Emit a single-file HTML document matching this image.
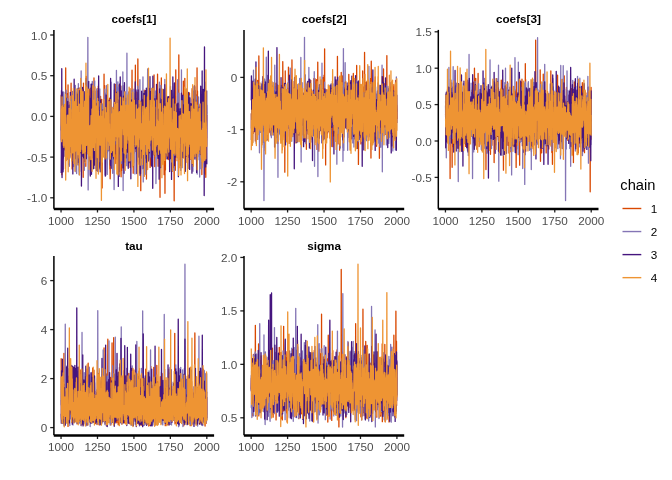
<!DOCTYPE html>
<html><head><meta charset="utf-8"><style>
html,body{margin:0;padding:0;background:#fff;width:672px;height:480px;overflow:hidden}
svg{display:block;font-family:"Liberation Sans",sans-serif;will-change:transform}
polyline{fill:none;stroke-linejoin:round}
</style></head><body>
<svg width="672" height="480" viewBox="0 0 672 480">
<rect width="672" height="480" fill="#fff"/>

<polyline stroke="#D94801" stroke-width="8.917" transform="translate(61.182,29.9) scale(0.145782)" points="0,445 1,757 2,745 3,821 4,551 5,993 6,428 7,778 8,627 9,706 10,467 11,959 12,717 13,725 14,513 15,825 16,696 17,794 18,666 19,590 20,825 21,512 22,546 23,601 24,546 25,767 26,689 27,802 28,709 29,597 30,768 31,261 32,767 33,790 34,765 35,673 36,827 37,639 38,440 39,568 40,698 41,795 42,776 43,435 44,664 45,760 46,645 47,378 48,655 49,585 50,630 51,721 52,831 53,720 54,701 55,590 56,554 57,542 58,632 59,548 60,777 61,497 62,600 63,713 64,603 65,682 66,514 67,459 68,366 69,866 70,873 71,742 72,649 73,549 74,627 75,954 76,714 77,556 78,639 79,565 80,703 81,700 82,645 83,614 84,644 85,655 86,765 87,619 88,655 89,514 90,504 91,646 92,724 93,761 94,612 95,661 96,720 97,665 98,758 99,574 100,734 101,501 102,615 103,589 104,824 105,648 106,568 107,805 108,709 109,667 110,863 111,628 112,553 113,792 114,623 115,855 116,677 117,897 118,515 119,614 120,675 121,780 122,494 123,397 124,931 125,499 126,444 127,624 128,839 129,551 130,697 131,756 132,843 133,595 134,561 135,759 136,599 137,831 138,560 139,665 140,698 141,686 142,550 143,567 144,598 145,652 146,661 147,585 148,639 149,576 150,715 151,1011 152,527 153,366 154,610 155,686 156,691 157,688 158,669 159,828 160,744 161,811 162,637 163,713 164,602 165,696 166,534 167,642 168,366 169,936 170,762 171,546 172,319 173,706 174,665 175,703 176,486 177,712 178,577 179,716 180,849 181,628 182,601 183,491 184,687 185,758 186,593 187,638 188,632 189,682 190,510 191,620 192,406 193,516 194,580 195,899 196,587 197,613 198,558 199,526 200,727 201,556 202,750 203,399 204,857 205,917 206,902 207,796 208,828 209,398 210,717 211,859 212,516 213,753 214,844 215,549 216,585 217,732 218,475 219,654 220,446 221,601 222,454 223,656 224,842 225,330 226,748 227,699 228,769 229,700 230,638 231,643 232,579 233,421 234,688 235,844 236,837 237,764 238,905 239,556 240,741 241,715 242,672 243,866 244,792 245,577 246,585 247,733 248,419 249,854 250,720 251,704 252,401 253,620 254,817 255,385 256,590 257,612 258,756 259,657 260,884 261,561 262,724 263,653 264,504 265,632 266,635 267,633 268,774 269,555 270,456 271,566 272,548 273,794 274,793 275,873 276,500 277,707 278,476 279,781 280,733 281,1084 282,543 283,663 284,642 285,669 286,647 287,827 288,660 289,698 290,679 291,603 292,767 293,683 294,303 295,613 296,562 297,805 298,590 299,383 300,877 301,787 302,794 303,710 304,445 305,670 306,768 307,585 308,755 309,515 310,629 311,478 312,764 313,556 314,580 315,679 316,773 317,793 318,691 319,783 320,632 321,787 322,585 323,538 324,770 325,505 326,705 327,510 328,610 329,515 330,811 331,686 332,469 333,758 334,956 335,943 336,1021 337,967 338,729 339,493 340,733 341,626 342,687 343,670 344,695 345,696 346,607 347,836 348,531 349,543 350,699 351,559 352,769 353,747 354,650 355,698 356,734 357,765 358,749 359,540 360,943 361,622 362,705 363,570 364,600 365,590 366,626 367,668 368,737 369,552 370,729 371,415 372,593 373,373 374,781 375,917 376,572 377,552 378,667 379,886 380,734 381,585 382,697 383,688 384,696 385,802 386,746 387,871 388,425 389,738 390,605 391,814 392,561 393,933 394,543 395,676 396,377 397,854 398,661 399,620 400,499 401,731 402,659 403,971 404,787 405,608 406,517 407,711 408,384 409,426 410,680 411,1008 412,920 413,780 414,516 415,628 416,964 417,703 418,446 419,724 420,776 421,385 422,664 423,738 424,623 425,669 426,731 427,503 428,516 429,554 430,686 431,511 432,678 433,606 434,527 435,559 436,422 437,609 438,907 439,833 440,483 441,718 442,618 443,790 444,532 445,725 446,468 447,746 448,515 449,577 450,772 451,518 452,797 453,786 454,571 455,759 456,754 457,720 458,811 459,526 460,587 461,681 462,687 463,609 464,425 465,550 466,742 467,563 468,688 469,699 470,411 471,730 472,738 473,944 474,867 475,609 476,769 477,600 478,827 479,779 480,577 481,468 482,589 483,504 484,434 485,526 486,276 487,686 488,584 489,729 490,608 491,892 492,787 493,598 494,984 495,826 496,674 497,912 498,664 499,783 500,712 501,708 502,645 503,750 504,659 505,755 506,594 507,435 508,644 509,241 510,834 511,575 512,777 513,784 514,594 515,646 516,517 517,470 518,747 519,654 520,426 521,537 522,572 523,489 524,756 525,583 526,199 527,445 528,784 529,707 530,618 531,712 532,726 533,576 534,721 535,921 536,621 537,731 538,774 539,890 540,530 541,982 542,909 543,710 544,500 545,489 546,1103 547,696 548,882 549,530 550,878 551,692 552,527 553,703 554,466 555,793 556,620 557,552 558,691 559,478 560,595 561,900 562,581 563,657 564,867 565,660 566,736 567,582 568,620 569,413 570,652 571,600 572,620 573,692 574,697 575,518 576,563 577,759 578,827 579,681 580,509 581,675 582,428 583,780 584,652 585,1023 586,755 587,715 588,600 589,433 590,667 591,469 592,579 593,534 594,737 595,478 596,821 597,602 598,804 599,744 600,876 601,744 602,623 603,681 604,860 605,466 606,624 607,531 608,562 609,764 610,943 611,799 612,501 613,819 614,558 615,757 616,617 617,926 618,509 619,677 620,548 621,645 622,560 623,686 624,568 625,882 626,822 627,570 628,677 629,703 630,697 631,601 632,754 633,600 634,799 635,728 636,534 637,309 638,825 639,554 640,817 641,569 642,937 643,827 644,743 645,695 646,473 647,545 648,452 649,503 650,711 651,709 652,522 653,666 654,693 655,858 656,686 657,735 658,808 659,575 660,738 661,303 662,483 663,818 664,627 665,936 666,659 667,614 668,551 669,797 670,627 671,627 672,674 673,651 674,607 675,616 676,811 677,838 678,1148 679,404 680,866 681,609 682,584 683,567 684,652 685,801 686,697 687,330 688,653 689,709 690,690 691,529 692,500 693,836 694,736 695,782 696,501 697,680 698,469 699,738 700,668 701,860 702,490 703,722 704,879 705,754 706,993 707,676 708,656 709,631 710,462 711,714 712,1121 713,628 714,699 715,961 716,539 717,742 718,669 719,849 720,632 721,656 722,667 723,690 724,525 725,537 726,570 727,755 728,725 729,813 730,611 731,767 732,841 733,661 734,531 735,889 736,757 737,691 738,773 739,597 740,671 741,627 742,773 743,457 744,672 745,491 746,733 747,589 748,766 749,804 750,770 751,678 752,702 753,457 754,832 755,824 756,434 757,587 758,934 759,602 760,638 761,971 762,723 763,674 764,569 765,538 766,658 767,527 768,692 769,791 770,802 771,596 772,945 773,577 774,826 775,1172 776,601 777,502 778,942 779,784 780,665 781,755 782,551 783,963 784,621 785,612 786,274 787,518 788,843 789,517 790,770 791,570 792,717 793,558 794,563 795,876 796,693 797,684 798,705 799,777 800,413 801,642 802,454 803,751 804,820 805,653 806,750 807,172 808,637 809,511 810,703 811,717 812,676 813,622 814,553 815,689 816,767 817,821 818,682 819,592 820,608 821,674 822,755 823,651 824,592 825,677 826,656 827,693 828,544 829,733 830,646 831,616 832,570 833,463 834,577 835,588 836,877 837,587 838,351 839,787 840,814 841,701 842,529 843,598 844,738 845,677 846,527 847,578 848,332 849,531 850,622 851,586 852,720 853,808 854,648 855,603 856,866 857,744 858,723 859,634 860,708 861,609 862,658 863,524 864,910 865,440 866,474 867,664 868,581 869,587 870,774 871,649 872,563 873,628 874,525 875,658 876,660 877,779 878,722 879,736 880,433 881,638 882,811 883,616 884,698 885,605 886,888 887,591 888,806 889,875 890,603 891,880 892,734 893,643 894,586 895,568 896,677 897,788 898,403 899,756 900,420 901,735 902,509 903,522 904,817 905,622 906,566 907,574 908,699 909,629 910,727 911,835 912,534 913,750 914,479 915,587 916,796 917,694 918,711 919,793 920,602 921,738 922,444 923,551 924,794 925,674 926,703 927,890 928,542 929,539 930,542 931,735 932,261 933,701 934,541 935,419 936,652 937,870 938,716 939,582 940,501 941,830 942,698 943,639 944,611 945,544 946,804 947,731 948,531 949,617 950,609 951,514 952,657 953,598 954,715 955,859 956,852 957,661 958,699 959,763 960,627 961,796 962,656 963,674 964,789 965,992 966,468 967,627 968,731 969,617 970,703 971,591 972,807 973,647 974,679 975,697 976,702 977,644 978,541 979,746 980,728 981,649 982,688 983,618 984,571 985,491 986,688 987,989 988,681 989,622 990,698 991,693 992,1011 993,601 994,717 995,882 996,793 997,792 998,587 999,593"/>
<polyline stroke="#8475B5" stroke-width="8.917" transform="translate(61.182,29.9) scale(0.145782)" points="0,691 1,652 2,628 3,564 4,590 5,422 6,675 7,463 8,716 9,593 10,634 11,565 12,667 13,426 14,955 15,551 16,574 17,564 18,427 19,486 20,868 21,514 22,733 23,641 24,609 25,789 26,863 27,650 28,651 29,752 30,799 31,671 32,713 33,679 34,414 35,590 36,485 37,758 38,448 39,675 40,653 41,663 42,620 43,888 44,671 45,576 46,472 47,608 48,764 49,864 50,625 51,924 52,691 53,597 54,657 55,708 56,936 57,678 58,524 59,706 60,729 61,615 62,573 63,547 64,793 65,739 66,629 67,532 68,475 69,756 70,547 71,486 72,632 73,702 74,807 75,521 76,673 77,468 78,422 79,858 80,737 81,686 82,818 83,786 84,460 85,758 86,635 87,937 88,764 89,782 90,784 91,689 92,690 93,878 94,740 95,561 96,824 97,380 98,488 99,737 100,970 101,972 102,776 103,773 104,804 105,427 106,985 107,544 108,770 109,554 110,672 111,656 112,606 113,873 114,695 115,924 116,587 117,641 118,368 119,591 120,877 121,846 122,422 123,994 124,533 125,799 126,706 127,667 128,840 129,781 130,683 131,430 132,580 133,782 134,674 135,783 136,649 137,282 138,719 139,424 140,847 141,562 142,710 143,575 144,690 145,677 146,667 147,475 148,524 149,642 150,470 151,505 152,515 153,500 154,856 155,432 156,835 157,687 158,573 159,963 160,661 161,523 162,639 163,560 164,744 165,887 166,656 167,838 168,712 169,792 170,640 171,787 172,732 173,353 174,673 175,698 176,496 177,602 178,475 179,614 180,617 181,703 182,471 183,51 184,669 185,1098 186,961 187,759 188,552 189,785 190,768 191,586 192,662 193,572 194,758 195,671 196,741 197,810 198,809 199,566 200,994 201,717 202,821 203,628 204,715 205,583 206,612 207,925 208,599 209,726 210,670 211,711 212,603 213,354 214,687 215,357 216,757 217,718 218,498 219,649 220,572 221,620 222,439 223,862 224,809 225,614 226,757 227,594 228,411 229,533 230,350 231,894 232,826 233,950 234,744 235,633 236,789 237,630 238,630 239,770 240,602 241,759 242,786 243,519 244,405 245,541 246,746 247,594 248,536 249,597 250,699 251,571 252,668 253,658 254,757 255,972 256,691 257,513 258,572 259,752 260,665 261,724 262,953 263,648 264,464 265,405 266,702 267,590 268,928 269,839 270,615 271,604 272,886 273,794 274,783 275,568 276,708 277,666 278,518 279,597 280,813 281,662 282,822 283,654 284,507 285,550 286,574 287,605 288,538 289,632 290,565 291,650 292,597 293,636 294,533 295,522 296,746 297,816 298,698 299,407 300,576 301,995 302,569 303,804 304,658 305,884 306,999 307,434 308,531 309,453 310,586 311,876 312,381 313,689 314,763 315,768 316,991 317,876 318,728 319,473 320,804 321,603 322,597 323,541 324,753 325,505 326,830 327,581 328,771 329,779 330,755 331,887 332,803 333,624 334,576 335,689 336,530 337,885 338,681 339,569 340,554 341,671 342,358 343,641 344,831 345,630 346,881 347,529 348,716 349,730 350,632 351,688 352,954 353,984 354,717 355,641 356,595 357,709 358,789 359,657 360,790 361,669 362,886 363,1095 364,937 365,412 366,737 367,537 368,737 369,676 370,657 371,784 372,737 373,726 374,585 375,780 376,621 377,580 378,773 379,278 380,589 381,595 382,628 383,450 384,806 385,392 386,811 387,763 388,583 389,356 390,798 391,883 392,669 393,742 394,395 395,617 396,769 397,555 398,572 399,883 400,593 401,674 402,689 403,404 404,624 405,639 406,923 407,760 408,905 409,642 410,597 411,690 412,917 413,602 414,614 415,829 416,670 417,629 418,639 419,385 420,623 421,858 422,663 423,288 424,681 425,1102 426,534 427,397 428,462 429,768 430,762 431,581 432,630 433,380 434,593 435,787 436,876 437,642 438,427 439,782 440,669 441,647 442,758 443,521 444,495 445,665 446,931 447,739 448,680 449,659 450,675 451,160 452,772 453,677 454,563 455,763 456,587 457,594 458,532 459,713 460,934 461,607 462,435 463,452 464,538 465,430 466,717 467,539 468,756 469,738 470,607 471,716 472,797 473,558 474,641 475,472 476,856 477,730 478,744 479,704 480,571 481,833 482,522 483,741 484,510 485,462 486,414 487,813 488,724 489,567 490,540 491,731 492,559 493,664 494,748 495,756 496,499 497,686 498,723 499,407 500,645 501,844 502,657 503,702 504,719 505,628 506,988 507,639 508,811 509,597 510,592 511,603 512,582 513,639 514,778 515,498 516,553 517,805 518,653 519,477 520,511 521,519 522,691 523,506 524,454 525,386 526,576 527,610 528,595 529,683 530,667 531,669 532,741 533,672 534,694 535,609 536,688 537,618 538,608 539,632 540,341 541,534 542,892 543,849 544,540 545,519 546,713 547,640 548,678 549,695 550,564 551,810 552,771 553,575 554,772 555,667 556,625 557,952 558,572 559,672 560,407 561,323 562,885 563,1043 564,734 565,689 566,824 567,828 568,945 569,766 570,605 571,616 572,469 573,817 574,694 575,471 576,569 577,640 578,825 579,690 580,991 581,474 582,574 583,584 584,704 585,846 586,686 587,574 588,452 589,733 590,882 591,588 592,533 593,268 594,582 595,414 596,723 597,584 598,603 599,575 600,637 601,525 602,685 603,891 604,627 605,617 606,684 607,724 608,633 609,877 610,486 611,712 612,712 613,719 614,867 615,626 616,643 617,534 618,649 619,637 620,402 621,707 622,648 623,749 624,722 625,677 626,879 627,705 628,597 629,515 630,589 631,396 632,569 633,752 634,694 635,531 636,421 637,497 638,584 639,453 640,603 641,607 642,532 643,651 644,726 645,857 646,784 647,635 648,695 649,419 650,1054 651,972 652,854 653,764 654,808 655,740 656,641 657,711 658,734 659,642 660,727 661,573 662,662 663,703 664,603 665,793 666,736 667,814 668,723 669,763 670,686 671,822 672,833 673,443 674,359 675,453 676,652 677,953 678,543 679,678 680,730 681,599 682,593 683,453 684,380 685,625 686,760 687,644 688,856 689,723 690,820 691,540 692,494 693,707 694,603 695,617 696,561 697,677 698,520 699,745 700,525 701,501 702,676 703,608 704,659 705,588 706,577 707,635 708,703 709,556 710,607 711,339 712,822 713,400 714,613 715,559 716,757 717,728 718,621 719,667 720,864 721,660 722,659 723,735 724,528 725,501 726,785 727,714 728,749 729,646 730,528 731,610 732,695 733,742 734,459 735,489 736,603 737,840 738,534 739,651 740,808 741,474 742,596 743,859 744,707 745,692 746,746 747,584 748,525 749,723 750,388 751,634 752,418 753,604 754,526 755,468 756,752 757,516 758,786 759,676 760,654 761,552 762,913 763,646 764,674 765,898 766,913 767,710 768,881 769,629 770,822 771,733 772,756 773,638 774,614 775,964 776,965 777,562 778,815 779,610 780,623 781,646 782,664 783,612 784,833 785,653 786,612 787,561 788,577 789,697 790,644 791,642 792,771 793,652 794,639 795,725 796,653 797,508 798,751 799,342 800,649 801,583 802,531 803,624 804,758 805,695 806,576 807,605 808,434 809,713 810,760 811,589 812,776 813,604 814,796 815,682 816,673 817,538 818,579 819,713 820,964 821,781 822,611 823,567 824,816 825,274 826,709 827,466 828,499 829,613 830,945 831,701 832,730 833,664 834,873 835,506 836,453 837,702 838,707 839,728 840,672 841,588 842,457 843,664 844,671 845,475 846,835 847,532 848,531 849,580 850,758 851,585 852,589 853,429 854,695 855,578 856,826 857,636 858,676 859,754 860,717 861,404 862,602 863,655 864,826 865,741 866,628 867,640 868,467 869,668 870,691 871,674 872,658 873,680 874,648 875,580 876,490 877,729 878,857 879,585 880,452 881,683 882,576 883,773 884,643 885,733 886,716 887,757 888,728 889,723 890,646 891,653 892,536 893,685 894,804 895,704 896,824 897,532 898,520 899,853 900,854 901,506 902,731 903,660 904,970 905,497 906,420 907,627 908,807 909,442 910,651 911,705 912,389 913,799 914,581 915,839 916,562 917,747 918,841 919,391 920,658 921,803 922,884 923,776 924,511 925,684 926,827 927,455 928,815 929,682 930,609 931,689 932,645 933,989 934,617 935,834 936,558 937,806 938,890 939,693 940,732 941,677 942,460 943,780 944,709 945,529 946,732 947,813 948,646 949,593 950,1009 951,772 952,591 953,604 954,620 955,694 956,853 957,698 958,440 959,550 960,953 961,811 962,816 963,549 964,572 965,424 966,498 967,834 968,663 969,752 970,894 971,572 972,542 973,723 974,459 975,490 976,707 977,725 978,536 979,522 980,748 981,680 982,547 983,415 984,590 985,448 986,592 987,780 988,520 989,359 990,801 991,514 992,829 993,773 994,584 995,471 996,633 997,742 998,517 999,575"/>
<polyline stroke="#45157E" stroke-width="8.917" transform="translate(61.182,29.9) scale(0.145782)" points="0,981 1,844 2,416 3,858 4,266 5,716 6,1013 7,428 8,741 9,679 10,687 11,692 12,787 13,973 14,592 15,881 16,676 17,822 18,638 19,585 20,524 21,581 22,514 23,696 24,763 25,814 26,824 27,538 28,623 29,816 30,541 31,469 32,671 33,895 34,468 35,755 36,615 37,762 38,574 39,814 40,720 41,708 42,681 43,761 44,512 45,490 46,848 47,672 48,616 49,801 50,705 51,766 52,818 53,580 54,583 55,574 56,517 57,753 58,687 59,748 60,526 61,785 62,679 63,428 64,572 65,618 66,841 67,777 68,567 69,717 70,879 71,778 72,637 73,861 74,627 75,636 76,681 77,747 78,608 79,671 80,988 81,737 82,716 83,522 84,838 85,419 86,498 87,629 88,633 89,338 90,816 91,499 92,765 93,603 94,775 95,598 96,515 97,883 98,625 99,523 100,831 101,600 102,644 103,596 104,646 105,796 106,612 107,800 108,521 109,441 110,573 111,633 112,626 113,698 114,645 115,910 116,401 117,582 118,578 119,807 120,626 121,575 122,565 123,417 124,643 125,559 126,971 127,831 128,631 129,757 130,837 131,790 132,741 133,542 134,490 135,608 136,705 137,612 138,558 139,1071 140,835 141,671 142,814 143,713 144,867 145,610 146,716 147,394 148,515 149,657 150,781 151,848 152,411 153,839 154,877 155,696 156,768 157,624 158,727 159,764 160,706 161,903 162,424 163,902 164,827 165,592 166,611 167,523 168,719 169,607 170,333 171,734 172,444 173,883 174,494 175,623 176,822 177,785 178,657 179,671 180,589 181,673 182,516 183,506 184,834 185,757 186,482 187,597 188,762 189,353 190,747 191,715 192,452 193,796 194,659 195,755 196,581 197,670 198,470 199,784 200,1003 201,477 202,603 203,761 204,764 205,372 206,689 207,711 208,991 209,372 210,877 211,535 212,437 213,762 214,425 215,421 216,556 217,810 218,580 219,712 220,882 221,583 222,952 223,736 224,696 225,638 226,893 227,664 228,791 229,927 230,642 231,681 232,822 233,745 234,775 235,856 236,610 237,768 238,889 239,853 240,774 241,789 242,965 243,574 244,551 245,505 246,829 247,616 248,759 249,625 250,628 251,619 252,796 253,971 254,684 255,544 256,464 257,316 258,610 259,553 260,611 261,742 262,615 263,764 264,621 265,943 266,622 267,687 268,973 269,529 270,785 271,480 272,554 273,733 274,620 275,699 276,842 277,784 278,565 279,617 280,688 281,666 282,766 283,800 284,620 285,699 286,601 287,548 288,759 289,698 290,618 291,758 292,743 293,622 294,731 295,757 296,757 297,582 298,674 299,632 300,847 301,541 302,934 303,1003 304,530 305,751 306,669 307,569 308,446 309,636 310,449 311,844 312,687 313,575 314,726 315,673 316,725 317,744 318,667 319,539 320,520 321,564 322,631 323,524 324,646 325,601 326,725 327,484 328,776 329,573 330,679 331,510 332,683 333,548 334,828 335,649 336,650 337,764 338,929 339,333 340,645 341,807 342,820 343,949 344,636 345,854 346,647 347,677 348,726 349,685 350,762 351,797 352,760 353,862 354,723 355,824 356,641 357,871 358,756 359,586 360,547 361,884 362,506 363,641 364,370 365,721 366,547 367,613 368,851 369,639 370,564 371,598 372,602 373,737 374,734 375,674 376,494 377,577 378,539 379,746 380,578 381,431 382,427 383,558 384,451 385,640 386,688 387,761 388,868 389,479 390,650 391,482 392,1074 393,679 394,697 395,909 396,683 397,1005 398,629 399,665 400,568 401,370 402,851 403,501 404,608 405,323 406,476 407,560 408,678 409,550 410,625 411,751 412,419 413,814 414,616 415,587 416,809 417,831 418,540 419,705 420,717 421,544 422,608 423,509 424,947 425,835 426,597 427,618 428,455 429,923 430,750 431,984 432,612 433,813 434,362 435,804 436,554 437,636 438,559 439,564 440,661 441,624 442,595 443,582 444,878 445,603 446,672 447,654 448,702 449,642 450,589 451,682 452,566 453,839 454,694 455,547 456,833 457,731 458,526 459,759 460,949 461,782 462,741 463,642 464,523 465,557 466,911 467,900 468,629 469,677 470,621 471,530 472,826 473,656 474,450 475,599 476,730 477,619 478,1021 479,719 480,704 481,596 482,788 483,563 484,481 485,649 486,775 487,764 488,565 489,768 490,727 491,840 492,877 493,565 494,701 495,930 496,636 497,797 498,534 499,779 500,642 501,692 502,586 503,671 504,734 505,710 506,601 507,552 508,356 509,815 510,674 511,574 512,558 513,412 514,785 515,763 516,540 517,584 518,610 519,985 520,898 521,662 522,904 523,672 524,758 525,649 526,428 527,655 528,412 529,805 530,872 531,762 532,808 533,689 534,633 535,841 536,732 537,511 538,840 539,909 540,837 541,997 542,672 543,679 544,986 545,888 546,512 547,601 548,616 549,722 550,539 551,831 552,420 553,446 554,521 555,766 556,575 557,773 558,592 559,489 560,480 561,686 562,779 563,629 564,624 565,560 566,829 567,435 568,949 569,615 570,930 571,462 572,698 573,566 574,611 575,422 576,744 577,738 578,417 579,674 580,635 581,667 582,704 583,880 584,399 585,786 586,908 587,697 588,836 589,508 590,796 591,539 592,712 593,614 594,584 595,665 596,621 597,624 598,900 599,647 600,401 601,405 602,643 603,779 604,843 605,679 606,717 607,696 608,559 609,320 610,594 611,424 612,478 613,666 614,537 615,661 616,611 617,797 618,422 619,808 620,934 621,682 622,566 623,596 624,571 625,674 626,822 627,495 628,1087 629,318 630,662 631,669 632,537 633,586 634,564 635,485 636,748 637,743 638,857 639,770 640,526 641,491 642,692 643,472 644,651 645,677 646,815 647,838 648,748 649,718 650,705 651,551 652,580 653,680 654,373 655,621 656,541 657,838 658,592 659,670 660,833 661,847 662,542 663,851 664,881 665,737 666,584 667,545 668,579 669,694 670,566 671,854 672,1024 673,896 674,887 675,404 676,780 677,468 678,545 679,553 680,687 681,607 682,565 683,676 684,944 685,596 686,765 687,779 688,479 689,553 690,684 691,834 692,706 693,664 694,613 695,707 696,500 697,760 698,833 699,597 700,408 701,613 702,570 703,610 704,717 705,556 706,757 707,837 708,874 709,850 710,760 711,375 712,459 713,689 714,618 715,506 716,597 717,843 718,546 719,547 720,821 721,649 722,691 723,864 724,674 725,661 726,885 727,710 728,644 729,723 730,459 731,883 732,668 733,567 734,660 735,792 736,678 737,458 738,480 739,773 740,495 741,765 742,679 743,763 744,972 745,758 746,636 747,524 748,802 749,532 750,882 751,847 752,781 753,636 754,479 755,513 756,415 757,1026 758,463 759,769 760,813 761,534 762,503 763,683 764,491 765,568 766,323 767,512 768,667 769,758 770,733 771,759 772,538 773,698 774,835 775,610 776,476 777,364 778,931 779,743 780,714 781,724 782,801 783,761 784,702 785,657 786,872 787,723 788,759 789,682 790,658 791,836 792,682 793,788 794,663 795,508 796,719 797,772 798,568 799,811 800,630 801,733 802,502 803,820 804,1007 805,685 806,711 807,705 808,554 809,542 810,888 811,724 812,635 813,779 814,560 815,705 816,690 817,714 818,773 819,587 820,683 821,542 822,931 823,699 824,754 825,434 826,696 827,618 828,771 829,786 830,660 831,589 832,685 833,685 834,448 835,875 836,790 837,782 838,695 839,597 840,662 841,759 842,514 843,611 844,731 845,636 846,821 847,690 848,883 849,445 850,808 851,714 852,970 853,651 854,836 855,809 856,502 857,630 858,739 859,644 860,835 861,629 862,793 863,708 864,559 865,671 866,868 867,724 868,765 869,950 870,437 871,791 872,428 873,680 874,728 875,463 876,872 877,580 878,663 879,536 880,762 881,957 882,503 883,466 884,678 885,706 886,610 887,645 888,569 889,767 890,713 891,506 892,508 893,822 894,629 895,684 896,568 897,983 898,655 899,703 900,656 901,475 902,923 903,843 904,693 905,801 906,670 907,585 908,706 909,637 910,473 911,485 912,886 913,756 914,383 915,727 916,713 917,621 918,759 919,698 920,417 921,508 922,481 923,666 924,831 925,692 926,873 927,648 928,673 929,979 930,544 931,568 932,753 933,625 934,650 935,647 936,772 937,604 938,837 939,792 940,770 941,673 942,720 943,826 944,832 945,570 946,597 947,529 948,778 949,742 950,659 951,667 952,551 953,614 954,625 955,853 956,527 957,386 958,784 959,782 960,445 961,738 962,761 963,530 964,600 965,705 966,700 967,282 968,810 969,798 970,577 971,846 972,738 973,698 974,541 975,408 976,577 977,628 978,588 979,460 980,712 981,1136 982,543 983,117 984,743 985,533 986,724 987,621 988,583 989,572 990,739 991,940 992,778 993,599 994,481 995,577 996,756 997,537 998,419 999,921"/>
<polyline stroke="#EE9433" stroke-width="8.917" transform="translate(61.182,29.9) scale(0.145782)" points="0,657 1,542 2,684 3,767 4,523 5,634 6,459 7,650 8,648 9,520 10,567 11,668 12,748 13,682 14,532 15,792 16,640 17,622 18,805 19,535 20,791 21,549 22,511 23,675 24,768 25,610 26,547 27,619 28,870 29,953 30,443 31,1030 32,844 33,875 34,726 35,827 36,896 37,654 38,751 39,646 40,873 41,609 42,587 43,626 44,727 45,752 46,584 47,738 48,973 49,754 50,591 51,913 52,772 53,688 54,538 55,697 56,863 57,884 58,678 59,608 60,699 61,700 62,455 63,728 64,489 65,673 66,801 67,547 68,852 69,719 70,773 71,704 72,900 73,677 74,778 75,650 76,677 77,451 78,560 79,843 80,628 81,726 82,709 83,585 84,401 85,665 86,551 87,765 88,916 89,492 90,554 91,756 92,716 93,652 94,969 95,799 96,800 97,583 98,480 99,680 100,831 101,755 102,709 103,404 104,610 105,610 106,641 107,658 108,685 109,926 110,698 111,720 112,526 113,691 114,775 115,687 116,856 117,406 118,766 119,725 120,669 121,787 122,879 123,523 124,510 125,958 126,995 127,690 128,581 129,666 130,621 131,568 132,736 133,834 134,333 135,745 136,782 137,530 138,446 139,602 140,594 141,410 142,531 143,620 144,760 145,821 146,816 147,700 148,848 149,773 150,423 151,766 152,682 153,559 154,553 155,655 156,844 157,653 158,531 159,594 160,542 161,489 162,693 163,846 164,911 165,712 166,836 167,660 168,378 169,534 170,228 171,634 172,663 173,748 174,792 175,726 176,664 177,392 178,581 179,702 180,514 181,591 182,439 183,849 184,587 185,486 186,741 187,694 188,407 189,868 190,759 191,956 192,658 193,696 194,680 195,864 196,670 197,685 198,697 199,655 200,673 201,770 202,738 203,889 204,648 205,588 206,709 207,668 208,709 209,684 210,873 211,544 212,970 213,807 214,541 215,560 216,706 217,382 218,806 219,629 220,739 221,757 222,632 223,546 224,707 225,809 226,482 227,747 228,827 229,737 230,634 231,668 232,391 233,589 234,768 235,692 236,568 237,764 238,782 239,1018 240,523 241,652 242,626 243,595 244,608 245,541 246,622 247,491 248,554 249,876 250,470 251,648 252,832 253,724 254,491 255,989 256,556 257,904 258,752 259,779 260,684 261,771 262,750 263,592 264,716 265,687 266,790 267,665 268,665 269,791 270,685 271,543 272,505 273,769 274,557 275,766 276,1169 277,734 278,696 279,759 280,735 281,591 282,906 283,757 284,738 285,564 286,556 287,658 288,775 289,744 290,872 291,568 292,818 293,536 294,477 295,761 296,697 297,608 298,705 299,790 300,886 301,724 302,734 303,694 304,677 305,532 306,660 307,687 308,713 309,655 310,663 311,878 312,570 313,648 314,687 315,761 316,606 317,627 318,411 319,631 320,374 321,619 322,820 323,583 324,711 325,599 326,768 327,570 328,676 329,492 330,711 331,644 332,765 333,793 334,696 335,764 336,724 337,886 338,729 339,733 340,780 341,478 342,753 343,832 344,637 345,840 346,698 347,773 348,807 349,576 350,756 351,781 352,828 353,674 354,533 355,651 356,682 357,572 358,547 359,867 360,721 361,571 362,704 363,686 364,675 365,498 366,958 367,637 368,568 369,602 370,760 371,512 372,686 373,726 374,732 375,599 376,570 377,436 378,626 379,654 380,670 381,505 382,988 383,601 384,588 385,835 386,573 387,957 388,854 389,426 390,995 391,627 392,573 393,673 394,648 395,684 396,651 397,568 398,734 399,561 400,721 401,591 402,803 403,751 404,614 405,989 406,767 407,462 408,827 409,674 410,610 411,668 412,899 413,895 414,521 415,533 416,807 417,675 418,586 419,654 420,676 421,592 422,545 423,466 424,489 425,612 426,655 427,719 428,715 429,531 430,500 431,670 432,845 433,488 434,679 435,426 436,671 437,661 438,559 439,963 440,671 441,838 442,590 443,853 444,849 445,517 446,792 447,815 448,642 449,521 450,621 451,777 452,612 453,447 454,501 455,670 456,719 457,630 458,693 459,727 460,659 461,756 462,744 463,517 464,696 465,899 466,392 467,748 468,723 469,738 470,799 471,725 472,898 473,535 474,403 475,490 476,609 477,755 478,495 479,748 480,837 481,716 482,783 483,731 484,495 485,685 486,891 487,670 488,940 489,780 490,726 491,665 492,427 493,691 494,818 495,470 496,489 497,930 498,575 499,587 500,640 501,529 502,483 503,606 504,616 505,623 506,721 507,633 508,648 509,788 510,612 511,660 512,800 513,682 514,665 515,514 516,607 517,658 518,669 519,719 520,719 521,789 522,666 523,543 524,651 525,668 526,1074 527,857 528,603 529,644 530,804 531,535 532,632 533,553 534,739 535,484 536,659 537,640 538,535 539,633 540,751 541,569 542,928 543,783 544,621 545,522 546,494 547,660 548,642 549,641 550,815 551,704 552,819 553,756 554,673 555,708 556,674 557,924 558,657 559,568 560,525 561,649 562,854 563,779 564,750 565,665 566,638 567,701 568,753 569,776 570,450 571,1004 572,814 573,704 574,589 575,786 576,570 577,646 578,543 579,673 580,740 581,593 582,587 583,531 584,835 585,642 586,539 587,853 588,617 589,603 590,559 591,613 592,459 593,958 594,653 595,745 596,639 597,814 598,722 599,263 600,702 601,634 602,703 603,626 604,706 605,793 606,833 607,628 608,777 609,649 610,616 611,484 612,588 613,661 614,699 615,756 616,683 617,669 618,678 619,597 620,586 621,402 622,722 623,697 624,595 625,749 626,824 627,533 628,642 629,671 630,736 631,400 632,614 633,707 634,674 635,485 636,813 637,856 638,600 639,487 640,832 641,805 642,530 643,767 644,799 645,716 646,720 647,868 648,665 649,744 650,715 651,725 652,797 653,702 654,689 655,668 656,482 657,541 658,535 659,785 660,617 661,676 662,645 663,745 664,627 665,637 666,796 667,853 668,796 669,632 670,777 671,438 672,569 673,590 674,553 675,738 676,795 677,823 678,772 679,642 680,506 681,653 682,770 683,846 684,578 685,679 686,770 687,939 688,708 689,565 690,577 691,1014 692,762 693,927 694,407 695,655 696,576 697,740 698,716 699,677 700,692 701,705 702,923 703,747 704,708 705,796 706,537 707,836 708,752 709,523 710,778 711,895 712,747 713,578 714,528 715,590 716,629 717,745 718,843 719,836 720,804 721,429 722,301 723,539 724,722 725,658 726,865 727,706 728,599 729,561 730,654 731,713 732,499 733,804 734,642 735,678 736,818 737,472 738,838 739,763 740,708 741,724 742,579 743,722 744,597 745,675 746,718 747,56 748,710 749,743 750,651 751,819 752,552 753,761 754,695 755,537 756,715 757,768 758,722 759,906 760,731 761,642 762,819 763,967 764,833 765,615 766,699 767,557 768,474 769,670 770,636 771,846 772,692 773,567 774,561 775,687 776,686 777,754 778,721 779,774 780,859 781,858 782,508 783,630 784,523 785,761 786,602 787,609 788,708 789,697 790,568 791,847 792,729 793,845 794,897 795,843 796,779 797,836 798,873 799,676 800,786 801,755 802,793 803,829 804,806 805,685 806,998 807,938 808,909 809,592 810,946 811,630 812,597 813,640 814,722 815,593 816,602 817,584 818,733 819,726 820,632 821,617 822,995 823,733 824,785 825,734 826,940 827,623 828,486 829,636 830,766 831,833 832,700 833,632 834,594 835,574 836,724 837,634 838,776 839,672 840,741 841,581 842,881 843,679 844,660 845,799 846,985 847,393 848,639 849,796 850,744 851,759 852,755 853,662 854,616 855,409 856,761 857,617 858,606 859,860 860,776 861,756 862,788 863,696 864,605 865,268 866,879 867,1034 868,637 869,910 870,510 871,515 872,853 873,593 874,714 875,690 876,649 877,766 878,783 879,560 880,563 881,624 882,754 883,698 884,658 885,801 886,673 887,717 888,886 889,612 890,741 891,823 892,523 893,862 894,559 895,683 896,786 897,874 898,917 899,595 900,716 901,728 902,376 903,593 904,664 905,562 906,909 907,935 908,720 909,544 910,697 911,648 912,741 913,596 914,644 915,851 916,604 917,737 918,327 919,869 920,801 921,778 922,728 923,731 924,615 925,844 926,496 927,696 928,538 929,523 930,848 931,663 932,517 933,960 934,714 935,707 936,771 937,646 938,832 939,719 940,565 941,779 942,695 943,848 944,622 945,770 946,541 947,824 948,776 949,602 950,726 951,793 952,613 953,507 954,716 955,783 956,629 957,675 958,742 959,852 960,707 961,878 962,784 963,761 964,690 965,904 966,688 967,827 968,946 969,767 970,676 971,728 972,616 973,496 974,582 975,789 976,906 977,794 978,681 979,751 980,640 981,718 982,710 983,884 984,751 985,895 986,810 987,655 988,426 989,620 990,834 991,661 992,884 993,274 994,617 995,637 996,702 997,714 998,794 999,802"/>
<polyline stroke="#D94801" stroke-width="8.917" transform="translate(251.282,29.9) scale(0.145782)" points="0,573 1,674 2,666 3,580 4,417 5,462 6,587 7,535 8,409 9,549 10,477 11,400 12,554 13,710 14,640 15,477 16,383 17,644 18,371 19,618 20,522 21,463 22,660 23,416 24,700 25,510 26,483 27,431 28,762 29,619 30,486 31,441 32,617 33,490 34,343 35,510 36,444 37,514 38,466 39,546 40,661 41,587 42,592 43,493 44,346 45,568 46,576 47,484 48,566 49,644 50,518 51,666 52,179 53,484 54,605 55,433 56,531 57,575 58,592 59,564 60,435 61,486 62,430 63,595 64,487 65,518 66,517 67,534 68,678 69,693 70,442 71,590 72,734 73,527 74,532 75,523 76,720 77,596 78,408 79,581 80,593 81,448 82,532 83,597 84,450 85,520 86,651 87,342 88,730 89,612 90,458 91,578 92,512 93,470 94,695 95,827 96,678 97,598 98,514 99,583 100,636 101,384 102,495 103,657 104,627 105,610 106,504 107,420 108,635 109,727 110,658 111,644 112,582 113,515 114,433 115,559 116,602 117,562 118,681 119,603 120,650 121,520 122,493 123,702 124,503 125,581 126,636 127,652 128,630 129,570 130,483 131,417 132,455 133,500 134,721 135,482 136,647 137,366 138,529 139,528 140,724 141,435 142,623 143,509 144,382 145,700 146,545 147,464 148,419 149,475 150,471 151,451 152,522 153,426 154,525 155,544 156,638 157,566 158,596 159,468 160,500 161,671 162,538 163,674 164,541 165,390 166,650 167,429 168,365 169,568 170,607 171,423 172,675 173,628 174,442 175,581 176,645 177,596 178,583 179,589 180,547 181,550 182,780 183,547 184,545 185,479 186,629 187,579 188,585 189,640 190,573 191,708 192,463 193,540 194,657 195,584 196,486 197,457 198,554 199,642 200,666 201,592 202,504 203,728 204,635 205,655 206,609 207,636 208,525 209,567 210,570 211,679 212,468 213,547 214,384 215,617 216,217 217,356 218,535 219,526 220,556 221,623 222,589 223,553 224,565 225,603 226,651 227,735 228,508 229,376 230,976 231,581 232,695 233,282 234,649 235,650 236,455 237,471 238,607 239,702 240,652 241,531 242,611 243,581 244,514 245,463 246,643 247,556 248,540 249,560 250,557 251,367 252,513 253,641 254,560 255,255 256,368 257,602 258,491 259,455 260,779 261,474 262,692 263,471 264,482 265,563 266,479 267,576 268,538 269,665 270,576 271,526 272,571 273,359 274,612 275,612 276,645 277,478 278,518 279,205 280,386 281,562 282,704 283,499 284,498 285,546 286,426 287,715 288,553 289,625 290,513 291,523 292,546 293,713 294,354 295,563 296,571 297,570 298,559 299,633 300,613 301,562 302,520 303,440 304,621 305,490 306,775 307,563 308,505 309,676 310,430 311,425 312,596 313,411 314,492 315,549 316,471 317,603 318,560 319,413 320,675 321,508 322,593 323,527 324,583 325,516 326,375 327,664 328,607 329,413 330,678 331,559 332,692 333,617 334,512 335,766 336,556 337,496 338,532 339,578 340,409 341,379 342,546 343,658 344,574 345,509 346,546 347,654 348,599 349,606 350,550 351,544 352,485 353,623 354,585 355,571 356,491 357,480 358,530 359,474 360,468 361,432 362,560 363,591 364,514 365,550 366,644 367,653 368,518 369,534 370,397 371,505 372,591 373,643 374,524 375,516 376,370 377,480 378,819 379,574 380,583 381,493 382,519 383,512 384,522 385,678 386,645 387,416 388,504 389,582 390,410 391,709 392,561 393,604 394,449 395,632 396,581 397,618 398,681 399,521 400,670 401,521 402,577 403,715 404,624 405,673 406,513 407,518 408,346 409,664 410,598 411,513 412,406 413,509 414,677 415,750 416,482 417,690 418,685 419,529 420,560 421,722 422,521 423,622 424,718 425,433 426,541 427,652 428,617 429,334 430,446 431,421 432,550 433,437 434,447 435,534 436,468 437,335 438,468 439,632 440,548 441,517 442,557 443,503 444,597 445,730 446,409 447,342 448,382 449,477 450,548 451,820 452,474 453,427 454,428 455,729 456,221 457,418 458,659 459,443 460,576 461,612 462,648 463,832 464,770 465,427 466,548 467,585 468,670 469,542 470,644 471,599 472,553 473,515 474,465 475,589 476,461 477,461 478,410 479,511 480,433 481,599 482,610 483,467 484,375 485,540 486,637 487,684 488,522 489,569 490,668 491,326 492,656 493,633 494,578 495,327 496,654 497,749 498,392 499,311 500,513 501,483 502,475 503,131 504,524 505,547 506,496 507,634 508,715 509,487 510,926 511,628 512,672 513,579 514,410 515,541 516,612 517,631 518,494 519,719 520,739 521,547 522,474 523,491 524,560 525,706 526,654 527,598 528,597 529,500 530,515 531,627 532,631 533,541 534,534 535,519 536,561 537,584 538,685 539,601 540,551 541,529 542,740 543,705 544,486 545,553 546,545 547,445 548,621 549,604 550,497 551,419 552,511 553,484 554,606 555,390 556,428 557,411 558,663 559,801 560,427 561,507 562,525 563,591 564,568 565,727 566,490 567,410 568,544 569,592 570,619 571,443 572,557 573,639 574,541 575,447 576,707 577,670 578,581 579,526 580,463 581,441 582,548 583,592 584,457 585,488 586,490 587,554 588,560 589,540 590,600 591,182 592,553 593,535 594,728 595,782 596,615 597,529 598,381 599,520 600,675 601,404 602,507 603,608 604,669 605,592 606,825 607,686 608,646 609,489 610,620 611,615 612,583 613,467 614,537 615,505 616,535 617,291 618,593 619,505 620,548 621,348 622,580 623,576 624,589 625,394 626,315 627,413 628,492 629,507 630,808 631,549 632,591 633,635 634,445 635,482 636,734 637,422 638,557 639,398 640,472 641,500 642,410 643,575 644,582 645,590 646,506 647,489 648,632 649,482 650,536 651,530 652,551 653,472 654,458 655,427 656,536 657,474 658,664 659,406 660,541 661,489 662,632 663,400 664,492 665,531 666,649 667,552 668,476 669,305 670,471 671,690 672,369 673,584 674,755 675,681 676,586 677,447 678,675 679,504 680,433 681,373 682,755 683,561 684,526 685,536 686,554 687,583 688,493 689,644 690,682 691,493 692,491 693,543 694,500 695,458 696,585 697,486 698,402 699,566 700,299 701,565 702,573 703,694 704,561 705,632 706,666 707,669 708,448 709,513 710,570 711,450 712,644 713,586 714,689 715,568 716,546 717,595 718,527 719,590 720,754 721,522 722,428 723,244 724,627 725,546 726,794 727,600 728,573 729,439 730,633 731,653 732,581 733,523 734,508 735,923 736,781 737,457 738,508 739,530 740,534 741,545 742,440 743,722 744,471 745,499 746,531 747,538 748,480 749,652 750,600 751,376 752,782 753,462 754,599 755,625 756,527 757,603 758,572 759,672 760,709 761,694 762,625 763,520 764,282 765,625 766,507 767,414 768,646 769,552 770,393 771,586 772,619 773,563 774,598 775,494 776,490 777,154 778,470 779,701 780,586 781,429 782,601 783,536 784,393 785,360 786,629 787,420 788,495 789,604 790,567 791,718 792,505 793,546 794,351 795,625 796,573 797,651 798,419 799,589 800,466 801,609 802,606 803,723 804,512 805,525 806,752 807,629 808,440 809,429 810,707 811,701 812,497 813,575 814,530 815,459 816,356 817,489 818,333 819,583 820,714 821,879 822,339 823,215 824,363 825,607 826,609 827,602 828,521 829,608 830,694 831,503 832,541 833,721 834,476 835,456 836,740 837,671 838,447 839,579 840,613 841,441 842,459 843,498 844,672 845,569 846,752 847,414 848,696 849,365 850,323 851,509 852,634 853,554 854,575 855,482 856,541 857,508 858,470 859,731 860,798 861,691 862,520 863,695 864,527 865,646 866,535 867,610 868,621 869,530 870,543 871,477 872,650 873,424 874,383 875,448 876,546 877,506 878,700 879,881 880,509 881,513 882,382 883,653 884,556 885,757 886,396 887,622 888,687 889,579 890,688 891,389 892,587 893,633 894,521 895,320 896,630 897,612 898,531 899,637 900,697 901,696 902,508 903,606 904,494 905,660 906,704 907,268 908,576 909,603 910,596 911,594 912,475 913,489 914,531 915,616 916,570 917,368 918,424 919,717 920,703 921,642 922,578 923,616 924,511 925,648 926,590 927,466 928,406 929,454 930,176 931,562 932,568 933,513 934,644 935,429 936,569 937,506 938,638 939,678 940,635 941,557 942,628 943,719 944,689 945,524 946,619 947,559 948,635 949,570 950,514 951,663 952,712 953,473 954,612 955,391 956,527 957,543 958,617 959,630 960,561 961,581 962,540 963,595 964,459 965,496 966,361 967,410 968,587 969,538 970,672 971,638 972,647 973,393 974,547 975,626 976,399 977,576 978,375 979,463 980,557 981,649 982,714 983,508 984,448 985,651 986,574 987,487 988,564 989,720 990,346 991,416 992,714 993,607 994,529 995,561 996,570 997,517 998,544 999,611"/>
<polyline stroke="#8475B5" stroke-width="8.917" transform="translate(251.282,29.9) scale(0.145782)" points="0,756 1,572 2,641 3,576 4,448 5,454 6,579 7,566 8,617 9,437 10,670 11,463 12,559 13,522 14,646 15,276 16,631 17,447 18,501 19,442 20,565 21,606 22,511 23,460 24,557 25,579 26,387 27,622 28,444 29,399 30,668 31,492 32,531 33,778 34,660 35,513 36,483 37,563 38,545 39,422 40,506 41,555 42,359 43,534 44,751 45,591 46,631 47,485 48,530 49,501 50,443 51,570 52,470 53,529 54,534 55,388 56,843 57,401 58,450 59,659 60,612 61,491 62,537 63,399 64,533 65,703 66,546 67,631 68,571 69,616 70,445 71,807 72,366 73,662 74,517 75,667 76,354 77,477 78,773 79,506 80,552 81,551 82,415 83,594 84,400 85,550 86,647 87,1171 88,826 89,336 90,360 91,604 92,341 93,534 94,480 95,806 96,649 97,591 98,745 99,450 100,530 101,657 102,499 103,187 104,652 105,581 106,525 107,534 108,511 109,625 110,449 111,312 112,557 113,711 114,478 115,741 116,474 117,556 118,540 119,671 120,618 121,538 122,544 123,590 124,500 125,588 126,571 127,516 128,649 129,658 130,489 131,516 132,591 133,418 134,689 135,545 136,729 137,502 138,739 139,453 140,619 141,558 142,649 143,357 144,597 145,551 146,535 147,545 148,483 149,514 150,481 151,687 152,663 153,721 154,692 155,424 156,720 157,525 158,702 159,513 160,557 161,241 162,620 163,408 164,501 165,609 166,452 167,523 168,450 169,544 170,584 171,665 172,514 173,495 174,712 175,649 176,430 177,670 178,734 179,744 180,533 181,377 182,451 183,1011 184,399 185,595 186,415 187,481 188,426 189,461 190,590 191,714 192,575 193,585 194,349 195,418 196,690 197,562 198,482 199,642 200,755 201,398 202,526 203,569 204,597 205,532 206,380 207,398 208,446 209,688 210,576 211,714 212,462 213,592 214,603 215,447 216,464 217,481 218,676 219,493 220,643 221,704 222,534 223,559 224,438 225,705 226,506 227,708 228,568 229,473 230,554 231,472 232,642 233,578 234,455 235,689 236,748 237,584 238,604 239,447 240,410 241,580 242,730 243,496 244,554 245,590 246,665 247,579 248,727 249,558 250,623 251,363 252,413 253,472 254,557 255,482 256,349 257,505 258,500 259,471 260,454 261,613 262,552 263,443 264,675 265,548 266,601 267,262 268,558 269,553 270,719 271,616 272,533 273,455 274,564 275,676 276,527 277,530 278,764 279,587 280,638 281,588 282,582 283,604 284,646 285,616 286,732 287,606 288,453 289,478 290,473 291,474 292,487 293,638 294,701 295,581 296,462 297,485 298,638 299,771 300,577 301,574 302,508 303,617 304,621 305,604 306,680 307,631 308,449 309,575 310,483 311,642 312,490 313,532 314,704 315,516 316,547 317,531 318,559 319,662 320,602 321,547 322,595 323,524 324,572 325,664 326,552 327,453 328,547 329,633 330,417 331,506 332,332 333,488 334,613 335,595 336,713 337,668 338,431 339,653 340,189 341,613 342,906 343,375 344,699 345,505 346,546 347,520 348,758 349,647 350,721 351,639 352,567 353,503 354,460 355,542 356,567 357,533 358,582 359,544 360,556 361,674 362,654 363,535 364,355 365,51 366,659 367,717 368,664 369,661 370,561 371,308 372,654 373,746 374,780 375,564 376,527 377,607 378,616 379,536 380,512 381,535 382,501 383,582 384,358 385,539 386,455 387,525 388,627 389,599 390,655 391,630 392,503 393,620 394,578 395,258 396,561 397,681 398,547 399,386 400,606 401,347 402,638 403,633 404,675 405,562 406,457 407,649 408,612 409,727 410,769 411,524 412,580 413,487 414,544 415,477 416,565 417,529 418,696 419,656 420,444 421,534 422,557 423,574 424,624 425,726 426,553 427,612 428,600 429,644 430,661 431,389 432,287 433,515 434,936 435,371 436,741 437,562 438,505 439,500 440,490 441,693 442,484 443,597 444,694 445,619 446,697 447,554 448,575 449,655 450,520 451,548 452,482 453,406 454,674 455,645 456,506 457,1006 458,531 459,397 460,633 461,608 462,751 463,579 464,631 465,555 466,378 467,639 468,626 469,552 470,653 471,485 472,638 473,559 474,497 475,672 476,343 477,653 478,414 479,527 480,638 481,479 482,416 483,571 484,536 485,228 486,570 487,577 488,555 489,742 490,531 491,517 492,587 493,522 494,563 495,671 496,714 497,602 498,435 499,591 500,652 501,572 502,399 503,358 504,641 505,626 506,475 507,644 508,458 509,471 510,569 511,602 512,536 513,419 514,616 515,564 516,505 517,705 518,571 519,628 520,467 521,471 522,685 523,645 524,521 525,570 526,677 527,580 528,642 529,578 530,623 531,533 532,529 533,597 534,437 535,567 536,517 537,617 538,618 539,380 540,603 541,568 542,420 543,528 544,620 545,593 546,513 547,431 548,368 549,533 550,588 551,507 552,512 553,530 554,519 555,543 556,511 557,657 558,577 559,516 560,456 561,370 562,466 563,536 564,504 565,690 566,525 567,677 568,615 569,700 570,568 571,601 572,617 573,583 574,595 575,485 576,505 577,709 578,589 579,515 580,670 581,552 582,601 583,449 584,762 585,627 586,552 587,921 588,583 589,687 590,573 591,698 592,655 593,458 594,625 595,515 596,653 597,711 598,495 599,555 600,503 601,694 602,559 603,604 604,366 605,701 606,682 607,650 608,358 609,612 610,629 611,810 612,513 613,595 614,525 615,658 616,668 617,536 618,668 619,460 620,699 621,620 622,438 623,608 624,383 625,658 626,740 627,614 628,612 629,901 630,716 631,472 632,128 633,522 634,419 635,827 636,610 637,441 638,496 639,529 640,489 641,580 642,660 643,605 644,225 645,582 646,539 647,584 648,534 649,623 650,539 651,593 652,548 653,584 654,466 655,405 656,611 657,502 658,559 659,505 660,474 661,826 662,540 663,692 664,537 665,738 666,694 667,578 668,495 669,547 670,447 671,448 672,384 673,667 674,530 675,589 676,458 677,447 678,525 679,541 680,376 681,639 682,536 683,707 684,590 685,649 686,721 687,607 688,719 689,457 690,539 691,610 692,714 693,482 694,332 695,364 696,775 697,595 698,727 699,427 700,493 701,442 702,556 703,364 704,804 705,620 706,527 707,662 708,491 709,545 710,641 711,696 712,600 713,387 714,621 715,563 716,326 717,433 718,383 719,555 720,605 721,754 722,510 723,579 724,349 725,527 726,537 727,376 728,478 729,506 730,707 731,489 732,532 733,558 734,598 735,596 736,766 737,722 738,495 739,667 740,586 741,613 742,590 743,371 744,577 745,499 746,673 747,607 748,505 749,493 750,469 751,473 752,472 753,611 754,560 755,511 756,634 757,707 758,551 759,675 760,562 761,529 762,676 763,537 764,645 765,602 766,465 767,542 768,521 769,514 770,431 771,576 772,624 773,634 774,664 775,707 776,669 777,563 778,576 779,515 780,583 781,666 782,503 783,505 784,695 785,486 786,440 787,460 788,508 789,600 790,760 791,465 792,470 793,533 794,509 795,574 796,594 797,661 798,482 799,666 800,734 801,555 802,680 803,628 804,595 805,542 806,466 807,250 808,642 809,485 810,555 811,509 812,464 813,688 814,619 815,537 816,483 817,477 818,491 819,375 820,765 821,442 822,627 823,562 824,541 825,524 826,476 827,633 828,571 829,408 830,748 831,552 832,628 833,693 834,641 835,710 836,754 837,397 838,589 839,768 840,599 841,587 842,467 843,612 844,605 845,523 846,516 847,563 848,556 849,523 850,763 851,572 852,661 853,391 854,421 855,425 856,622 857,540 858,466 859,439 860,579 861,522 862,583 863,478 864,714 865,748 866,487 867,551 868,590 869,364 870,490 871,459 872,504 873,645 874,419 875,777 876,651 877,379 878,452 879,493 880,689 881,522 882,798 883,715 884,557 885,646 886,490 887,579 888,805 889,432 890,548 891,720 892,551 893,619 894,704 895,545 896,493 897,241 898,653 899,973 900,548 901,513 902,643 903,368 904,580 905,485 906,603 907,489 908,415 909,679 910,574 911,726 912,594 913,539 914,667 915,621 916,471 917,384 918,555 919,542 920,567 921,710 922,611 923,524 924,654 925,582 926,383 927,789 928,647 929,468 930,628 931,580 932,550 933,622 934,487 935,493 936,620 937,438 938,388 939,521 940,487 941,595 942,493 943,779 944,745 945,620 946,532 947,643 948,734 949,589 950,523 951,641 952,407 953,625 954,567 955,710 956,617 957,619 958,636 959,561 960,627 961,423 962,557 963,476 964,622 965,669 966,407 967,678 968,493 969,451 970,597 971,830 972,527 973,453 974,715 975,520 976,584 977,566 978,525 979,622 980,540 981,655 982,504 983,739 984,669 985,442 986,488 987,499 988,539 989,823 990,577 991,577 992,445 993,461 994,606 995,323 996,414 997,519 998,545 999,562"/>
<polyline stroke="#45157E" stroke-width="8.917" transform="translate(251.282,29.9) scale(0.145782)" points="0,483 1,315 2,447 3,546 4,670 5,504 6,602 7,586 8,435 9,770 10,550 11,352 12,590 13,515 14,586 15,668 16,695 17,602 18,656 19,664 20,393 21,441 22,693 23,556 24,422 25,696 26,493 27,338 28,429 29,594 30,448 31,522 32,220 33,617 34,714 35,634 36,481 37,678 38,628 39,562 40,443 41,705 42,456 43,395 44,516 45,495 46,553 47,601 48,664 49,616 50,547 51,381 52,572 53,445 54,567 55,436 56,563 57,675 58,488 59,388 60,616 61,672 62,500 63,631 64,568 65,559 66,601 67,570 68,572 69,586 70,544 71,456 72,550 73,503 74,388 75,373 76,582 77,568 78,555 79,321 80,645 81,511 82,579 83,479 84,489 85,579 86,482 87,479 88,580 89,553 90,696 91,579 92,573 93,374 94,659 95,550 96,631 97,357 98,361 99,563 100,538 101,432 102,482 103,523 104,533 105,436 106,665 107,566 108,469 109,719 110,559 111,510 112,552 113,449 114,756 115,473 116,437 117,146 118,712 119,637 120,557 121,474 122,501 123,434 124,393 125,582 126,518 127,478 128,369 129,471 130,526 131,542 132,673 133,428 134,453 135,518 136,687 137,446 138,503 139,442 140,644 141,555 142,608 143,458 144,416 145,521 146,591 147,517 148,686 149,464 150,433 151,388 152,590 153,417 154,701 155,555 156,611 157,651 158,583 159,600 160,804 161,501 162,801 163,646 164,543 165,524 166,536 167,433 168,671 169,425 170,623 171,544 172,502 173,738 174,624 175,658 176,121 177,555 178,383 179,438 180,452 181,701 182,462 183,467 184,399 185,610 186,615 187,462 188,528 189,524 190,490 191,561 192,453 193,441 194,585 195,441 196,623 197,400 198,651 199,495 200,583 201,730 202,611 203,513 204,327 205,586 206,608 207,596 208,667 209,666 210,438 211,587 212,572 213,436 214,527 215,611 216,421 217,394 218,635 219,516 220,533 221,505 222,610 223,679 224,555 225,516 226,653 227,480 228,367 229,593 230,561 231,673 232,640 233,367 234,581 235,789 236,371 237,510 238,723 239,593 240,729 241,549 242,603 243,662 244,616 245,654 246,727 247,648 248,737 249,477 250,399 251,677 252,645 253,527 254,494 255,425 256,425 257,572 258,422 259,433 260,498 261,311 262,531 263,487 264,448 265,536 266,629 267,567 268,546 269,553 270,629 271,525 272,596 273,465 274,529 275,507 276,488 277,560 278,343 279,646 280,571 281,584 282,595 283,590 284,630 285,521 286,569 287,548 288,593 289,562 290,621 291,405 292,493 293,618 294,394 295,953 296,522 297,326 298,533 299,699 300,441 301,416 302,468 303,704 304,634 305,624 306,600 307,371 308,329 309,456 310,663 311,707 312,716 313,773 314,547 315,650 316,581 317,482 318,605 319,764 320,475 321,374 322,641 323,447 324,527 325,586 326,544 327,533 328,722 329,640 330,467 331,592 332,551 333,652 334,466 335,443 336,656 337,562 338,765 339,735 340,635 341,517 342,706 343,483 344,480 345,485 346,374 347,361 348,504 349,654 350,652 351,581 352,623 353,585 354,645 355,435 356,523 357,623 358,651 359,801 360,507 361,597 362,595 363,457 364,503 365,639 366,535 367,767 368,529 369,571 370,497 371,538 372,492 373,607 374,560 375,437 376,673 377,566 378,437 379,642 380,414 381,614 382,516 383,581 384,692 385,528 386,474 387,354 388,622 389,714 390,657 391,630 392,562 393,568 394,451 395,467 396,567 397,337 398,676 399,810 400,495 401,339 402,594 403,465 404,611 405,756 406,625 407,618 408,659 409,533 410,660 411,436 412,707 413,459 414,522 415,510 416,619 417,509 418,603 419,547 420,896 421,624 422,643 423,480 424,634 425,413 426,659 427,514 428,488 429,585 430,628 431,618 432,527 433,605 434,590 435,606 436,597 437,579 438,638 439,544 440,688 441,616 442,453 443,679 444,663 445,476 446,636 447,650 448,476 449,577 450,737 451,683 452,605 453,548 454,586 455,509 456,658 457,461 458,622 459,583 460,415 461,649 462,586 463,551 464,479 465,485 466,743 467,608 468,600 469,376 470,652 471,610 472,643 473,532 474,691 475,524 476,623 477,413 478,496 479,512 480,502 481,632 482,506 483,673 484,476 485,775 486,588 487,583 488,404 489,429 490,620 491,495 492,677 493,440 494,755 495,669 496,561 497,600 498,685 499,502 500,525 501,618 502,538 503,452 504,424 505,404 506,748 507,573 508,496 509,743 510,655 511,485 512,642 513,762 514,507 515,686 516,579 517,575 518,608 519,556 520,520 521,646 522,596 523,679 524,458 525,580 526,553 527,523 528,488 529,501 530,578 531,509 532,696 533,533 534,563 535,512 536,640 537,575 538,577 539,678 540,499 541,652 542,410 543,577 544,396 545,535 546,377 547,800 548,551 549,448 550,422 551,404 552,462 553,649 554,668 555,555 556,593 557,441 558,429 559,445 560,480 561,580 562,558 563,439 564,652 565,444 566,478 567,851 568,483 569,606 570,533 571,592 572,575 573,489 574,438 575,322 576,518 577,612 578,525 579,509 580,434 581,573 582,343 583,492 584,399 585,633 586,586 587,666 588,525 589,587 590,538 591,412 592,556 593,324 594,648 595,487 596,488 597,659 598,625 599,606 600,534 601,507 602,677 603,593 604,533 605,486 606,571 607,583 608,540 609,615 610,520 611,488 612,594 613,565 614,700 615,588 616,525 617,501 618,591 619,552 620,395 621,671 622,663 623,491 624,623 625,615 626,672 627,554 628,754 629,587 630,658 631,620 632,560 633,571 634,684 635,666 636,451 637,600 638,610 639,558 640,506 641,406 642,426 643,469 644,518 645,358 646,508 647,669 648,621 649,647 650,504 651,678 652,428 653,483 654,596 655,511 656,527 657,363 658,609 659,492 660,624 661,516 662,676 663,529 664,631 665,507 666,384 667,461 668,490 669,591 670,694 671,678 672,646 673,432 674,558 675,556 676,681 677,569 678,530 679,358 680,560 681,558 682,624 683,348 684,533 685,516 686,585 687,556 688,747 689,551 690,317 691,412 692,484 693,540 694,469 695,592 696,645 697,539 698,559 699,393 700,574 701,505 702,731 703,518 704,548 705,534 706,648 707,537 708,585 709,434 710,669 711,673 712,749 713,429 714,685 715,313 716,527 717,559 718,384 719,565 720,617 721,440 722,618 723,498 724,706 725,690 726,422 727,543 728,813 729,567 730,546 731,356 732,502 733,480 734,517 735,573 736,629 737,350 738,394 739,751 740,603 741,433 742,548 743,582 744,379 745,473 746,597 747,587 748,638 749,607 750,673 751,500 752,737 753,478 754,588 755,611 756,598 757,648 758,605 759,710 760,645 761,936 762,594 763,608 764,523 765,623 766,486 767,532 768,523 769,570 770,660 771,543 772,823 773,549 774,626 775,428 776,492 777,517 778,616 779,442 780,637 781,564 782,602 783,379 784,543 785,670 786,705 787,557 788,572 789,576 790,496 791,548 792,654 793,581 794,621 795,514 796,358 797,527 798,555 799,475 800,524 801,498 802,406 803,663 804,715 805,588 806,541 807,443 808,537 809,548 810,459 811,529 812,692 813,559 814,533 815,514 816,733 817,399 818,564 819,475 820,607 821,405 822,665 823,552 824,488 825,466 826,452 827,601 828,396 829,547 830,432 831,520 832,518 833,382 834,274 835,526 836,672 837,551 838,481 839,596 840,646 841,615 842,471 843,624 844,507 845,603 846,431 847,708 848,596 849,592 850,827 851,637 852,605 853,627 854,712 855,712 856,500 857,579 858,608 859,543 860,478 861,624 862,653 863,544 864,536 865,632 866,418 867,576 868,672 869,450 870,631 871,580 872,451 873,607 874,624 875,605 876,519 877,516 878,592 879,499 880,500 881,695 882,709 883,441 884,662 885,542 886,667 887,381 888,566 889,445 890,627 891,572 892,649 893,594 894,475 895,552 896,502 897,607 898,584 899,574 900,616 901,347 902,320 903,493 904,414 905,573 906,358 907,400 908,646 909,485 910,479 911,447 912,645 913,581 914,661 915,664 916,653 917,413 918,667 919,492 920,525 921,329 922,554 923,481 924,529 925,616 926,662 927,521 928,478 929,438 930,656 931,576 932,639 933,429 934,612 935,526 936,807 937,551 938,541 939,649 940,617 941,676 942,594 943,565 944,557 945,409 946,399 947,469 948,680 949,474 950,615 951,496 952,542 953,599 954,463 955,421 956,684 957,542 958,361 959,771 960,844 961,554 962,611 963,617 964,796 965,529 966,734 967,518 968,522 969,722 970,630 971,488 972,433 973,717 974,733 975,530 976,418 977,439 978,594 979,560 980,564 981,597 982,541 983,670 984,460 985,747 986,450 987,551 988,573 989,482 990,636 991,486 992,512 993,469 994,496 995,826 996,646 997,618 998,448 999,638"/>
<polyline stroke="#EE9433" stroke-width="8.917" transform="translate(251.282,29.9) scale(0.145782)" points="0,826 1,671 2,621 3,736 4,551 5,612 6,672 7,622 8,792 9,479 10,643 11,774 12,563 13,534 14,505 15,691 16,589 17,358 18,513 19,668 20,375 21,557 22,660 23,576 24,382 25,575 26,523 27,464 28,571 29,480 30,672 31,639 32,497 33,714 34,258 35,793 36,413 37,455 38,519 39,648 40,367 41,750 42,612 43,373 44,390 45,571 46,682 47,719 48,408 49,599 50,639 51,467 52,492 53,565 54,459 55,573 56,680 57,575 58,659 59,514 60,364 61,691 62,613 63,410 64,671 65,616 66,530 67,605 68,435 69,577 70,956 71,413 72,538 73,525 74,583 75,788 76,569 77,648 78,611 79,418 80,490 81,593 82,510 83,123 84,441 85,595 86,655 87,643 88,473 89,672 90,440 91,762 92,615 93,437 94,613 95,593 96,498 97,554 98,851 99,488 100,519 101,501 102,498 103,730 104,470 105,760 106,630 107,718 108,521 109,652 110,458 111,550 112,426 113,584 114,586 115,746 116,497 117,368 118,763 119,527 120,432 121,540 122,673 123,612 124,343 125,644 126,514 127,545 128,492 129,466 130,616 131,422 132,688 133,316 134,450 135,625 136,550 137,583 138,667 139,189 140,419 141,534 142,525 143,719 144,718 145,475 146,394 147,513 148,645 149,576 150,648 151,362 152,465 153,652 154,648 155,632 156,557 157,479 158,442 159,575 160,583 161,567 162,747 163,881 164,796 165,470 166,671 167,698 168,645 169,442 170,539 171,777 172,708 173,591 174,534 175,589 176,643 177,608 178,461 179,586 180,670 181,646 182,471 183,463 184,596 185,763 186,382 187,455 188,439 189,675 190,590 191,601 192,336 193,168 194,621 195,344 196,468 197,673 198,683 199,488 200,567 201,655 202,777 203,555 204,550 205,654 206,671 207,667 208,645 209,613 210,583 211,844 212,403 213,823 214,502 215,522 216,636 217,664 218,593 219,409 220,525 221,566 222,710 223,753 224,528 225,801 226,391 227,610 228,434 229,616 230,430 231,617 232,593 233,692 234,375 235,537 236,490 237,427 238,564 239,555 240,545 241,522 242,768 243,587 244,410 245,504 246,688 247,553 248,475 249,641 250,1003 251,366 252,623 253,436 254,561 255,567 256,523 257,641 258,436 259,651 260,470 261,616 262,665 263,443 264,498 265,780 266,476 267,459 268,798 269,443 270,485 271,550 272,555 273,624 274,761 275,634 276,485 277,514 278,579 279,473 280,731 281,718 282,324 283,634 284,594 285,492 286,377 287,676 288,487 289,465 290,529 291,705 292,482 293,405 294,498 295,460 296,674 297,511 298,417 299,423 300,270 301,471 302,588 303,595 304,533 305,569 306,630 307,429 308,548 309,314 310,439 311,588 312,679 313,544 314,766 315,637 316,671 317,480 318,593 319,535 320,538 321,635 322,520 323,709 324,370 325,534 326,515 327,768 328,614 329,521 330,469 331,571 332,510 333,686 334,381 335,700 336,398 337,557 338,744 339,785 340,411 341,630 342,684 343,333 344,457 345,802 346,530 347,653 348,725 349,673 350,587 351,445 352,472 353,402 354,569 355,538 356,532 357,604 358,596 359,473 360,451 361,741 362,471 363,536 364,645 365,712 366,209 367,562 368,548 369,608 370,685 371,740 372,414 373,507 374,621 375,592 376,616 377,499 378,535 379,427 380,483 381,574 382,460 383,528 384,524 385,677 386,623 387,458 388,429 389,747 390,363 391,717 392,495 393,546 394,396 395,600 396,618 397,562 398,624 399,401 400,771 401,399 402,435 403,452 404,607 405,571 406,564 407,815 408,534 409,368 410,688 411,500 412,633 413,467 414,458 415,529 416,722 417,488 418,604 419,471 420,732 421,422 422,588 423,648 424,483 425,513 426,516 427,443 428,543 429,636 430,664 431,680 432,470 433,445 434,655 435,745 436,648 437,610 438,787 439,565 440,456 441,651 442,524 443,491 444,604 445,770 446,759 447,665 448,490 449,553 450,467 451,573 452,355 453,577 454,672 455,671 456,513 457,559 458,720 459,770 460,480 461,531 462,693 463,594 464,779 465,428 466,692 467,688 468,689 469,627 470,656 471,587 472,322 473,503 474,642 475,380 476,658 477,534 478,482 479,598 480,714 481,642 482,578 483,546 484,720 485,594 486,339 487,680 488,524 489,542 490,881 491,412 492,813 493,585 494,675 495,552 496,653 497,520 498,550 499,458 500,630 501,672 502,514 503,693 504,437 505,527 506,669 507,601 508,778 509,640 510,493 511,470 512,580 513,680 514,559 515,428 516,632 517,775 518,680 519,580 520,481 521,683 522,596 523,411 524,695 525,606 526,532 527,691 528,378 529,519 530,470 531,603 532,690 533,476 534,606 535,509 536,390 537,742 538,696 539,556 540,551 541,730 542,1043 543,648 544,656 545,443 546,565 547,554 548,600 549,447 550,428 551,555 552,585 553,408 554,571 555,548 556,353 557,563 558,272 559,412 560,588 561,630 562,448 563,637 564,470 565,649 566,532 567,527 568,688 569,617 570,394 571,687 572,599 573,587 574,390 575,706 576,764 577,449 578,465 579,594 580,516 581,586 582,820 583,554 584,514 585,794 586,380 587,502 588,711 589,691 590,513 591,531 592,562 593,604 594,588 595,664 596,526 597,350 598,548 599,572 600,570 601,659 602,431 603,404 604,774 605,560 606,317 607,534 608,587 609,563 610,794 611,539 612,673 613,734 614,731 615,316 616,693 617,702 618,626 619,599 620,504 621,571 622,506 623,362 624,618 625,438 626,709 627,644 628,562 629,585 630,656 631,623 632,445 633,774 634,500 635,616 636,654 637,471 638,683 639,460 640,671 641,536 642,526 643,610 644,594 645,603 646,370 647,562 648,529 649,354 650,590 651,423 652,516 653,602 654,447 655,565 656,416 657,676 658,556 659,701 660,537 661,523 662,498 663,509 664,568 665,596 666,447 667,676 668,562 669,388 670,458 671,345 672,768 673,530 674,609 675,373 676,707 677,824 678,633 679,716 680,482 681,558 682,518 683,600 684,846 685,414 686,492 687,663 688,548 689,531 690,608 691,535 692,504 693,499 694,425 695,320 696,501 697,449 698,572 699,376 700,598 701,702 702,460 703,715 704,669 705,585 706,462 707,415 708,498 709,332 710,658 711,711 712,664 713,604 714,829 715,594 716,484 717,490 718,521 719,590 720,777 721,479 722,370 723,815 724,589 725,656 726,564 727,503 728,707 729,760 730,547 731,466 732,567 733,744 734,759 735,603 736,605 737,488 738,660 739,549 740,686 741,448 742,639 743,414 744,246 745,417 746,693 747,675 748,491 749,673 750,521 751,716 752,695 753,557 754,374 755,533 756,764 757,609 758,535 759,523 760,662 761,415 762,448 763,375 764,697 765,515 766,335 767,526 768,496 769,584 770,556 771,595 772,550 773,601 774,729 775,465 776,742 777,685 778,694 779,506 780,306 781,828 782,500 783,469 784,751 785,440 786,605 787,529 788,593 789,541 790,418 791,491 792,720 793,522 794,533 795,604 796,628 797,352 798,614 799,239 800,815 801,667 802,546 803,596 804,345 805,737 806,562 807,758 808,477 809,711 810,567 811,540 812,540 813,708 814,454 815,376 816,701 817,539 818,619 819,770 820,455 821,520 822,358 823,813 824,688 825,531 826,616 827,821 828,434 829,649 830,713 831,520 832,546 833,512 834,788 835,362 836,624 837,656 838,774 839,696 840,578 841,630 842,440 843,350 844,634 845,700 846,528 847,464 848,651 849,258 850,540 851,635 852,650 853,630 854,551 855,613 856,578 857,571 858,598 859,731 860,568 861,785 862,591 863,602 864,657 865,529 866,640 867,487 868,605 869,320 870,456 871,250 872,687 873,551 874,693 875,568 876,496 877,489 878,739 879,445 880,557 881,517 882,619 883,502 884,447 885,606 886,496 887,601 888,613 889,516 890,540 891,493 892,504 893,764 894,582 895,444 896,442 897,371 898,385 899,693 900,638 901,703 902,431 903,493 904,520 905,567 906,653 907,664 908,448 909,627 910,788 911,558 912,534 913,456 914,494 915,583 916,650 917,637 918,397 919,460 920,529 921,528 922,475 923,682 924,611 925,571 926,650 927,721 928,524 929,578 930,681 931,596 932,746 933,556 934,471 935,633 936,427 937,574 938,630 939,542 940,693 941,555 942,627 943,510 944,424 945,646 946,678 947,311 948,527 949,735 950,607 951,654 952,627 953,470 954,531 955,426 956,684 957,623 958,282 959,573 960,510 961,526 962,671 963,677 964,609 965,355 966,385 967,580 968,402 969,344 970,704 971,424 972,723 973,510 974,711 975,688 976,809 977,462 978,667 979,537 980,620 981,605 982,458 983,605 984,619 985,428 986,757 987,667 988,363 989,365 990,672 991,549 992,579 993,454 994,568 995,516 996,729 997,447 998,335 999,692"/>
<polyline stroke="#D94801" stroke-width="8.917" transform="translate(445.582,29.9) scale(0.145782)" points="0,584 1,561 2,643 3,662 4,519 5,574 6,677 7,464 8,613 9,582 10,535 11,634 12,683 13,410 14,566 15,635 16,641 17,596 18,487 19,465 20,606 21,488 22,574 23,498 24,555 25,652 26,639 27,673 28,513 29,584 30,553 31,1020 32,555 33,515 34,530 35,723 36,610 37,500 38,467 39,457 40,418 41,749 42,363 43,719 44,673 45,943 46,465 47,597 48,671 49,801 50,615 51,606 52,448 53,719 54,507 55,576 56,614 57,523 58,718 59,595 60,585 61,788 62,553 63,699 64,614 65,770 66,555 67,625 68,646 69,581 70,532 71,551 72,782 73,570 74,410 75,650 76,495 77,409 78,680 79,769 80,523 81,501 82,741 83,811 84,620 85,556 86,704 87,561 88,726 89,593 90,596 91,463 92,565 93,676 94,475 95,557 96,705 97,713 98,559 99,794 100,520 101,671 102,482 103,386 104,530 105,722 106,753 107,613 108,576 109,475 110,781 111,776 112,661 113,494 114,443 115,648 116,640 117,442 118,673 119,680 120,706 121,661 122,498 123,630 124,586 125,511 126,404 127,721 128,703 129,661 130,567 131,562 132,488 133,751 134,642 135,629 136,647 137,799 138,614 139,354 140,713 141,589 142,489 143,630 144,657 145,783 146,606 147,612 148,684 149,716 150,688 151,680 152,757 153,641 154,666 155,359 156,522 157,377 158,627 159,515 160,417 161,711 162,615 163,508 164,451 165,503 166,628 167,654 168,605 169,636 170,527 171,715 172,567 173,569 174,573 175,511 176,701 177,458 178,683 179,414 180,578 181,641 182,528 183,722 184,624 185,786 186,591 187,633 188,580 189,528 190,668 191,563 192,769 193,359 194,802 195,627 196,783 197,599 198,263 199,402 200,411 201,403 202,416 203,603 204,510 205,537 206,560 207,333 208,721 209,787 210,428 211,484 212,798 213,800 214,651 215,819 216,686 217,539 218,464 219,467 220,689 221,709 222,469 223,299 224,634 225,639 226,550 227,419 228,591 229,408 230,800 231,518 232,503 233,742 234,568 235,428 236,616 237,604 238,548 239,635 240,648 241,494 242,658 243,647 244,604 245,479 246,562 247,457 248,529 249,643 250,827 251,435 252,674 253,511 254,558 255,491 256,581 257,450 258,456 259,710 260,527 261,519 262,584 263,521 264,736 265,538 266,599 267,577 268,501 269,729 270,760 271,810 272,716 273,729 274,462 275,636 276,570 277,958 278,561 279,637 280,827 281,610 282,845 283,617 284,600 285,840 286,594 287,765 288,593 289,572 290,623 291,470 292,627 293,450 294,408 295,639 296,644 297,451 298,819 299,680 300,616 301,510 302,735 303,704 304,629 305,622 306,598 307,557 308,853 309,623 310,565 311,413 312,628 313,652 314,772 315,727 316,547 317,683 318,792 319,703 320,555 321,667 322,607 323,688 324,537 325,627 326,398 327,511 328,714 329,637 330,573 331,512 332,618 333,910 334,479 335,527 336,698 337,513 338,569 339,702 340,690 341,587 342,689 343,444 344,500 345,664 346,645 347,721 348,694 349,477 350,756 351,630 352,686 353,667 354,579 355,703 356,435 357,730 358,648 359,676 360,486 361,634 362,672 363,518 364,767 365,748 366,590 367,690 368,698 369,715 370,446 371,508 372,643 373,701 374,623 375,410 376,821 377,808 378,534 379,641 380,682 381,674 382,344 383,557 384,519 385,642 386,593 387,486 388,555 389,668 390,504 391,701 392,655 393,685 394,541 395,405 396,754 397,962 398,662 399,711 400,670 401,495 402,684 403,553 404,851 405,755 406,611 407,642 408,587 409,777 410,542 411,605 412,550 413,399 414,584 415,812 416,793 417,450 418,676 419,519 420,393 421,548 422,709 423,701 424,356 425,407 426,555 427,562 428,792 429,614 430,696 431,768 432,566 433,553 434,675 435,845 436,710 437,462 438,586 439,458 440,442 441,528 442,626 443,813 444,835 445,476 446,777 447,508 448,427 449,506 450,630 451,587 452,613 453,494 454,667 455,484 456,769 457,647 458,461 459,448 460,617 461,580 462,641 463,551 464,708 465,792 466,686 467,534 468,387 469,650 470,594 471,722 472,481 473,565 474,563 475,704 476,796 477,557 478,743 479,780 480,593 481,648 482,412 483,729 484,943 485,806 486,592 487,356 488,500 489,668 490,538 491,652 492,638 493,589 494,613 495,556 496,508 497,509 498,462 499,741 500,442 501,622 502,582 503,693 504,433 505,571 506,671 507,536 508,928 509,658 510,446 511,688 512,403 513,508 514,590 515,685 516,484 517,681 518,664 519,360 520,711 521,750 522,590 523,615 524,338 525,734 526,504 527,488 528,600 529,635 530,720 531,580 532,499 533,644 534,518 535,455 536,544 537,705 538,769 539,596 540,668 541,485 542,599 543,532 544,786 545,470 546,693 547,232 548,643 549,341 550,832 551,595 552,759 553,402 554,666 555,490 556,766 557,635 558,608 559,521 560,638 561,534 562,564 563,595 564,412 565,733 566,538 567,640 568,583 569,719 570,518 571,400 572,746 573,669 574,710 575,549 576,514 577,633 578,474 579,649 580,619 581,659 582,532 583,629 584,564 585,584 586,653 587,475 588,553 589,836 590,744 591,423 592,716 593,667 594,497 595,611 596,679 597,565 598,802 599,631 600,499 601,529 602,575 603,631 604,584 605,615 606,508 607,605 608,523 609,591 610,565 611,709 612,722 613,706 614,662 615,564 616,604 617,720 618,70 619,663 620,409 621,494 622,752 623,616 624,681 625,457 626,467 627,492 628,518 629,487 630,406 631,544 632,563 633,613 634,607 635,738 636,530 637,675 638,563 639,692 640,717 641,625 642,672 643,658 644,722 645,657 646,655 647,569 648,691 649,274 650,696 651,901 652,647 653,703 654,755 655,567 656,547 657,676 658,581 659,843 660,567 661,535 662,762 663,438 664,555 665,496 666,479 667,589 668,577 669,630 670,303 671,499 672,647 673,618 674,547 675,535 676,494 677,515 678,459 679,487 680,621 681,525 682,621 683,628 684,491 685,415 686,596 687,703 688,699 689,660 690,844 691,553 692,773 693,783 694,605 695,784 696,556 697,727 698,646 699,729 700,594 701,540 702,686 703,773 704,572 705,585 706,504 707,471 708,817 709,646 710,679 711,622 712,763 713,681 714,510 715,612 716,487 717,529 718,649 719,572 720,624 721,531 722,282 723,514 724,581 725,800 726,407 727,518 728,724 729,841 730,617 731,493 732,736 733,922 734,562 735,650 736,739 737,691 738,615 739,545 740,569 741,625 742,640 743,747 744,515 745,574 746,723 747,655 748,444 749,722 750,700 751,583 752,495 753,582 754,643 755,675 756,539 757,657 758,775 759,516 760,627 761,490 762,721 763,664 764,637 765,580 766,471 767,431 768,311 769,594 770,695 771,501 772,536 773,597 774,545 775,390 776,659 777,692 778,571 779,514 780,737 781,462 782,660 783,511 784,573 785,808 786,662 787,465 788,793 789,646 790,637 791,607 792,593 793,668 794,458 795,770 796,552 797,610 798,609 799,726 800,546 801,814 802,730 803,656 804,445 805,518 806,510 807,620 808,789 809,460 810,634 811,515 812,482 813,666 814,315 815,634 816,692 817,541 818,609 819,698 820,654 821,657 822,516 823,686 824,492 825,768 826,480 827,780 828,506 829,395 830,601 831,478 832,454 833,513 834,415 835,684 836,542 837,549 838,497 839,758 840,631 841,702 842,686 843,537 844,586 845,656 846,558 847,512 848,523 849,447 850,571 851,522 852,566 853,607 854,467 855,588 856,681 857,438 858,506 859,705 860,765 861,728 862,489 863,540 864,403 865,638 866,557 867,689 868,485 869,542 870,855 871,707 872,455 873,538 874,441 875,482 876,573 877,910 878,515 879,691 880,785 881,710 882,625 883,356 884,691 885,494 886,648 887,727 888,590 889,475 890,498 891,644 892,706 893,551 894,606 895,710 896,728 897,732 898,571 899,689 900,710 901,546 902,618 903,713 904,662 905,698 906,445 907,457 908,470 909,580 910,428 911,843 912,521 913,645 914,567 915,568 916,613 917,521 918,524 919,753 920,775 921,774 922,745 923,777 924,540 925,617 926,622 927,563 928,736 929,776 930,501 931,759 932,734 933,425 934,524 935,420 936,707 937,642 938,362 939,486 940,718 941,463 942,452 943,626 944,687 945,808 946,377 947,647 948,548 949,619 950,687 951,517 952,577 953,842 954,426 955,446 956,617 957,529 958,631 959,625 960,583 961,561 962,525 963,693 964,625 965,463 966,635 967,518 968,628 969,646 970,595 971,432 972,784 973,774 974,558 975,395 976,746 977,484 978,662 979,662 980,739 981,534 982,615 983,639 984,690 985,447 986,664 987,659 988,597 989,625 990,691 991,590 992,1111 993,500 994,748 995,576 996,539 997,484 998,394 999,754"/>
<polyline stroke="#8475B5" stroke-width="8.917" transform="translate(445.582,29.9) scale(0.145782)" points="0,490 1,540 2,507 3,588 4,709 5,877 6,469 7,459 8,469 9,773 10,450 11,442 12,420 13,631 14,579 15,752 16,620 17,430 18,543 19,750 20,388 21,501 22,620 23,258 24,623 25,592 26,571 27,721 28,585 29,782 30,627 31,580 32,740 33,684 34,339 35,496 36,537 37,395 38,345 39,539 40,615 41,711 42,710 43,612 44,692 45,501 46,644 47,745 48,663 49,649 50,600 51,489 52,252 53,716 54,623 55,390 56,785 57,650 58,657 59,513 60,519 61,476 62,624 63,493 64,656 65,502 66,685 67,601 68,530 69,382 70,466 71,677 72,440 73,376 74,481 75,365 76,511 77,534 78,420 79,558 80,696 81,719 82,646 83,517 84,728 85,635 86,599 87,1040 88,684 89,513 90,566 91,527 92,549 93,763 94,435 95,502 96,633 97,707 98,498 99,641 100,582 101,719 102,541 103,629 104,712 105,539 106,663 107,630 108,724 109,413 110,391 111,533 112,465 113,831 114,608 115,632 116,726 117,697 118,578 119,654 120,691 121,691 122,369 123,659 124,683 125,475 126,582 127,718 128,671 129,438 130,534 131,463 132,730 133,576 134,716 135,693 136,655 137,644 138,556 139,690 140,666 141,563 142,584 143,602 144,679 145,526 146,386 147,809 148,362 149,648 150,825 151,594 152,589 153,643 154,508 155,644 156,862 157,617 158,612 159,553 160,522 161,168 162,783 163,551 164,523 165,691 166,507 167,598 168,529 169,699 170,586 171,516 172,662 173,554 174,707 175,366 176,731 177,646 178,624 179,608 180,564 181,535 182,638 183,433 184,676 185,1020 186,617 187,703 188,598 189,611 190,466 191,552 192,609 193,837 194,597 195,581 196,524 197,656 198,643 199,633 200,621 201,477 202,353 203,607 204,706 205,538 206,607 207,683 208,678 209,627 210,667 211,658 212,607 213,484 214,591 215,559 216,701 217,572 218,594 219,537 220,461 221,665 222,696 223,417 224,461 225,647 226,573 227,369 228,636 229,710 230,715 231,596 232,758 233,508 234,453 235,738 236,459 237,663 238,559 239,408 240,669 241,541 242,780 243,740 244,533 245,820 246,610 247,565 248,737 249,648 250,547 251,608 252,643 253,615 254,546 255,587 256,485 257,719 258,553 259,669 260,608 261,686 262,630 263,816 264,696 265,567 266,411 267,624 268,333 269,759 270,717 271,584 272,653 273,764 274,434 275,812 276,752 277,751 278,677 279,637 280,822 281,600 282,387 283,847 284,613 285,477 286,687 287,564 288,709 289,640 290,782 291,551 292,700 293,566 294,530 295,673 296,521 297,769 298,548 299,577 300,604 301,787 302,616 303,582 304,495 305,205 306,597 307,505 308,506 309,618 310,466 311,732 312,595 313,419 314,595 315,814 316,557 317,551 318,556 319,711 320,706 321,492 322,599 323,548 324,595 325,751 326,434 327,702 328,464 329,523 330,430 331,646 332,666 333,353 334,621 335,590 336,723 337,626 338,629 339,376 340,667 341,488 342,699 343,671 344,556 345,649 346,788 347,677 348,604 349,501 350,716 351,641 352,674 353,690 354,615 355,517 356,541 357,451 358,453 359,524 360,616 361,524 362,524 363,241 364,696 365,1038 366,574 367,713 368,564 369,712 370,550 371,724 372,475 373,652 374,643 375,444 376,460 377,599 378,637 379,700 380,440 381,539 382,540 383,859 384,530 385,660 386,754 387,413 388,695 389,495 390,458 391,562 392,732 393,535 394,636 395,862 396,830 397,629 398,590 399,551 400,599 401,521 402,712 403,611 404,582 405,674 406,362 407,562 408,561 409,462 410,784 411,263 412,543 413,627 414,546 415,625 416,667 417,471 418,553 419,409 420,706 421,455 422,568 423,495 424,436 425,702 426,564 427,365 428,627 429,509 430,588 431,572 432,558 433,550 434,543 435,536 436,756 437,454 438,793 439,559 440,610 441,717 442,593 443,647 444,452 445,688 446,505 447,827 448,436 449,638 450,675 451,687 452,521 453,995 454,700 455,514 456,466 457,692 458,679 459,599 460,579 461,679 462,672 463,650 464,622 465,772 466,712 467,628 468,458 469,486 470,593 471,471 472,444 473,639 474,705 475,608 476,190 477,559 478,715 479,756 480,676 481,596 482,590 483,720 484,587 485,465 486,754 487,695 488,534 489,491 490,593 491,634 492,552 493,593 494,485 495,695 496,819 497,535 498,856 499,221 500,637 501,443 502,396 503,425 504,586 505,710 506,347 507,549 508,533 509,652 510,677 511,623 512,657 513,770 514,635 515,628 516,516 517,705 518,765 519,516 520,711 521,699 522,555 523,622 524,394 525,432 526,408 527,666 528,664 529,951 530,704 531,583 532,704 533,828 534,505 535,533 536,575 537,527 538,365 539,546 540,637 541,379 542,751 543,1060 544,561 545,620 546,736 547,356 548,391 549,480 550,435 551,554 552,402 553,554 554,622 555,602 556,792 557,617 558,472 559,704 560,470 561,633 562,564 563,685 564,550 565,629 566,363 567,599 568,355 569,622 570,638 571,481 572,618 573,606 574,535 575,826 576,660 577,581 578,598 579,586 580,714 581,821 582,529 583,564 584,468 585,541 586,795 587,399 588,958 589,347 590,549 591,528 592,605 593,547 594,732 595,603 596,645 597,550 598,605 599,340 600,635 601,410 602,655 603,467 604,480 605,592 606,674 607,360 608,370 609,490 610,405 611,789 612,382 613,546 614,452 615,514 616,580 617,392 618,744 619,417 620,635 621,517 622,589 623,770 624,444 625,631 626,584 627,514 628,733 629,370 630,784 631,53 632,737 633,534 634,410 635,546 636,563 637,533 638,674 639,612 640,527 641,718 642,462 643,544 644,631 645,418 646,515 647,672 648,599 649,459 650,684 651,374 652,544 653,612 654,677 655,743 656,660 657,482 658,632 659,468 660,500 661,538 662,753 663,381 664,684 665,457 666,597 667,619 668,361 669,742 670,408 671,514 672,354 673,446 674,707 675,576 676,484 677,685 678,498 679,781 680,236 681,488 682,463 683,520 684,790 685,574 686,635 687,726 688,656 689,661 690,650 691,594 692,521 693,644 694,441 695,595 696,760 697,737 698,528 699,704 700,567 701,714 702,635 703,521 704,679 705,673 706,713 707,438 708,540 709,575 710,605 711,785 712,561 713,717 714,520 715,480 716,547 717,505 718,673 719,445 720,422 721,488 722,412 723,577 724,454 725,734 726,532 727,596 728,454 729,782 730,828 731,664 732,559 733,387 734,472 735,550 736,333 737,462 738,661 739,390 740,603 741,474 742,413 743,569 744,621 745,540 746,665 747,828 748,651 749,569 750,557 751,583 752,581 753,634 754,716 755,546 756,680 757,648 758,516 759,535 760,656 761,645 762,507 763,653 764,622 765,448 766,729 767,562 768,591 769,430 770,815 771,633 772,532 773,647 774,514 775,717 776,560 777,424 778,735 779,733 780,558 781,770 782,549 783,426 784,653 785,661 786,758 787,695 788,883 789,557 790,244 791,647 792,626 793,688 794,518 795,774 796,549 797,418 798,392 799,580 800,811 801,339 802,701 803,654 804,532 805,556 806,514 807,246 808,750 809,558 810,470 811,700 812,695 813,574 814,669 815,531 816,650 817,406 818,608 819,553 820,582 821,662 822,638 823,1171 824,748 825,638 826,649 827,647 828,817 829,533 830,749 831,650 832,626 833,282 834,497 835,610 836,678 837,520 838,585 839,593 840,417 841,609 842,721 843,543 844,623 845,628 846,655 847,565 848,547 849,603 850,671 851,638 852,813 853,688 854,672 855,815 856,640 857,772 858,936 859,748 860,496 861,680 862,539 863,582 864,694 865,569 866,592 867,587 868,519 869,723 870,448 871,585 872,346 873,488 874,601 875,515 876,640 877,679 878,640 879,469 880,543 881,580 882,572 883,754 884,664 885,637 886,452 887,518 888,622 889,752 890,831 891,436 892,449 893,746 894,799 895,701 896,660 897,534 898,710 899,610 900,684 901,708 902,385 903,636 904,617 905,319 906,599 907,796 908,647 909,711 910,725 911,763 912,652 913,471 914,539 915,673 916,534 917,498 918,603 919,436 920,528 921,331 922,533 923,563 924,533 925,420 926,636 927,580 928,517 929,639 930,567 931,698 932,581 933,628 934,657 935,604 936,490 937,861 938,580 939,862 940,459 941,565 942,660 943,523 944,711 945,686 946,513 947,546 948,621 949,562 950,756 951,376 952,757 953,526 954,649 955,440 956,686 957,489 958,805 959,646 960,606 961,528 962,469 963,741 964,722 965,451 966,740 967,637 968,686 969,779 970,709 971,546 972,540 973,464 974,576 975,465 976,319 977,670 978,583 979,688 980,914 981,482 982,393 983,562 984,484 985,679 986,529 987,771 988,620 989,567 990,570 991,651 992,668 993,509 994,518 995,589 996,711 997,786 998,669 999,570"/>
<polyline stroke="#45157E" stroke-width="8.917" transform="translate(445.582,29.9) scale(0.145782)" points="0,519 1,809 2,439 3,513 4,531 5,427 6,582 7,729 8,768 9,571 10,567 11,660 12,529 13,557 14,511 15,542 16,534 17,692 18,597 19,691 20,665 21,626 22,579 23,394 24,496 25,608 26,538 27,583 28,439 29,482 30,641 31,645 32,554 33,526 34,604 35,616 36,674 37,401 38,506 39,690 40,485 41,776 42,431 43,670 44,444 45,667 46,652 47,495 48,545 49,696 50,652 51,705 52,618 53,391 54,581 55,485 56,838 57,668 58,759 59,838 60,694 61,696 62,711 63,734 64,450 65,278 66,661 67,444 68,609 69,598 70,698 71,485 72,556 73,831 74,559 75,770 76,724 77,709 78,498 79,554 80,620 81,751 82,612 83,472 84,539 85,602 86,812 87,605 88,491 89,368 90,546 91,507 92,645 93,572 94,633 95,639 96,758 97,690 98,494 99,681 100,433 101,787 102,415 103,566 104,599 105,543 106,460 107,565 108,668 109,309 110,504 111,833 112,521 113,525 114,566 115,428 116,702 117,559 118,429 119,934 120,589 121,567 122,487 123,626 124,653 125,549 126,352 127,530 128,548 129,778 130,564 131,475 132,751 133,729 134,536 135,653 136,634 137,609 138,616 139,541 140,784 141,502 142,702 143,647 144,749 145,808 146,397 147,487 148,546 149,511 150,618 151,345 152,697 153,578 154,837 155,453 156,441 157,718 158,787 159,441 160,753 161,674 162,452 163,332 164,547 165,498 166,656 167,552 168,647 169,675 170,544 171,503 172,475 173,593 174,459 175,630 176,625 177,631 178,651 179,595 180,576 181,429 182,517 183,598 184,578 185,475 186,307 187,732 188,653 189,441 190,744 191,671 192,454 193,555 194,738 195,776 196,598 197,819 198,670 199,502 200,533 201,497 202,452 203,418 204,375 205,790 206,575 207,494 208,618 209,592 210,571 211,448 212,605 213,650 214,612 215,474 216,614 217,659 218,727 219,449 220,667 221,619 222,513 223,560 224,443 225,711 226,666 227,644 228,467 229,560 230,557 231,713 232,648 233,460 234,637 235,705 236,549 237,479 238,436 239,738 240,760 241,654 242,686 243,382 244,597 245,611 246,676 247,652 248,780 249,440 250,743 251,643 252,717 253,529 254,725 255,535 256,714 257,282 258,507 259,448 260,725 261,363 262,441 263,745 264,781 265,647 266,403 267,504 268,484 269,605 270,584 271,630 272,485 273,657 274,539 275,569 276,642 277,678 278,501 279,447 280,432 281,420 282,448 283,815 284,643 285,581 286,434 287,532 288,622 289,633 290,445 291,494 292,522 293,376 294,1016 295,499 296,574 297,737 298,520 299,458 300,771 301,410 302,625 303,669 304,609 305,524 306,471 307,744 308,580 309,544 310,576 311,669 312,746 313,595 314,395 315,441 316,543 317,660 318,552 319,386 320,675 321,491 322,643 323,652 324,699 325,602 326,522 327,441 328,751 329,573 330,548 331,638 332,529 333,291 334,548 335,738 336,744 337,362 338,726 339,463 340,846 341,720 342,747 343,550 344,687 345,718 346,449 347,718 348,408 349,628 350,646 351,334 352,585 353,571 354,722 355,607 356,580 357,356 358,669 359,573 360,668 361,396 362,552 363,832 364,457 365,579 366,715 367,705 368,568 369,619 370,636 371,423 372,761 373,610 374,501 375,427 376,500 377,741 378,858 379,742 380,477 381,736 382,579 383,503 384,739 385,555 386,459 387,713 388,542 389,463 390,722 391,814 392,276 393,461 394,762 395,474 396,621 397,650 398,585 399,661 400,635 401,665 402,854 403,749 404,616 405,680 406,635 407,600 408,552 409,770 410,384 411,466 412,594 413,711 414,403 415,457 416,792 417,736 418,846 419,601 420,451 421,613 422,577 423,663 424,682 425,500 426,608 427,583 428,528 429,481 430,534 431,556 432,699 433,414 434,525 435,548 436,585 437,476 438,506 439,633 440,811 441,614 442,393 443,590 444,442 445,672 446,480 447,668 448,551 449,598 450,724 451,494 452,739 453,608 454,263 455,681 456,598 457,695 458,515 459,441 460,795 461,559 462,472 463,450 464,504 465,652 466,643 467,694 468,800 469,547 470,448 471,663 472,542 473,680 474,423 475,499 476,567 477,810 478,841 479,698 480,495 481,842 482,493 483,539 484,494 485,684 486,564 487,769 488,512 489,688 490,677 491,756 492,625 493,441 494,708 495,576 496,433 497,534 498,496 499,593 500,737 501,688 502,549 503,724 504,513 505,572 506,291 507,361 508,502 509,646 510,571 511,751 512,645 513,578 514,530 515,351 516,746 517,676 518,456 519,707 520,654 521,485 522,611 523,502 524,421 525,584 526,581 527,795 528,494 529,484 530,414 531,421 532,691 533,578 534,792 535,719 536,633 537,840 538,665 539,705 540,548 541,497 542,734 543,689 544,857 545,541 546,681 547,454 548,536 549,500 550,583 551,575 552,586 553,742 554,397 555,648 556,530 557,792 558,630 559,590 560,471 561,660 562,792 563,418 564,501 565,404 566,597 567,654 568,648 569,613 570,492 571,509 572,614 573,765 574,709 575,673 576,506 577,753 578,401 579,759 580,698 581,611 582,682 583,755 584,686 585,646 586,704 587,520 588,795 589,603 590,566 591,586 592,567 593,469 594,690 595,506 596,410 597,537 598,673 599,411 600,434 601,642 602,660 603,457 604,605 605,541 606,390 607,550 608,529 609,617 610,538 611,585 612,565 613,287 614,732 615,613 616,752 617,523 618,638 619,721 620,885 621,546 622,362 623,676 624,643 625,615 626,750 627,598 628,688 629,681 630,632 631,694 632,597 633,691 634,597 635,543 636,594 637,433 638,660 639,537 640,551 641,534 642,651 643,551 644,730 645,616 646,621 647,709 648,682 649,574 650,514 651,607 652,722 653,810 654,610 655,724 656,538 657,472 658,493 659,548 660,534 661,791 662,546 663,812 664,677 665,571 666,438 667,655 668,678 669,546 670,711 671,629 672,579 673,563 674,923 675,637 676,757 677,678 678,713 679,515 680,356 681,647 682,541 683,751 684,741 685,437 686,562 687,779 688,666 689,609 690,740 691,537 692,780 693,630 694,596 695,794 696,511 697,505 698,734 699,563 700,438 701,518 702,571 703,922 704,667 705,573 706,531 707,565 708,658 709,505 710,491 711,649 712,683 713,524 714,497 715,475 716,620 717,529 718,612 719,370 720,735 721,574 722,403 723,503 724,602 725,702 726,654 727,386 728,506 729,492 730,633 731,657 732,496 733,590 734,411 735,309 736,447 737,638 738,618 739,731 740,573 741,497 742,528 743,756 744,584 745,531 746,673 747,584 748,546 749,555 750,505 751,732 752,666 753,610 754,599 755,645 756,612 757,601 758,654 759,285 760,619 761,603 762,463 763,688 764,719 765,708 766,563 767,669 768,578 769,433 770,577 771,646 772,515 773,526 774,618 775,385 776,748 777,782 778,642 779,395 780,695 781,513 782,623 783,537 784,756 785,507 786,671 787,552 788,677 789,580 790,633 791,605 792,766 793,691 794,577 795,562 796,620 797,569 798,651 799,703 800,610 801,693 802,480 803,570 804,541 805,558 806,573 807,417 808,622 809,700 810,583 811,544 812,363 813,546 814,721 815,475 816,722 817,454 818,647 819,662 820,613 821,651 822,719 823,535 824,682 825,519 826,676 827,528 828,646 829,581 830,620 831,747 832,586 833,553 834,542 835,492 836,739 837,575 838,641 839,535 840,650 841,570 842,658 843,684 844,525 845,779 846,539 847,446 848,549 849,602 850,421 851,697 852,574 853,732 854,412 855,668 856,416 857,417 858,258 859,449 860,619 861,800 862,632 863,597 864,502 865,513 866,577 867,552 868,721 869,677 870,376 871,454 872,687 873,499 874,596 875,409 876,783 877,765 878,549 879,489 880,534 881,536 882,591 883,668 884,587 885,396 886,410 887,509 888,637 889,523 890,335 891,458 892,681 893,732 894,816 895,456 896,521 897,753 898,711 899,500 900,571 901,414 902,661 903,606 904,580 905,769 906,578 907,367 908,432 909,657 910,451 911,709 912,584 913,727 914,587 915,673 916,686 917,729 918,754 919,391 920,597 921,494 922,594 923,803 924,562 925,610 926,648 927,562 928,544 929,482 930,564 931,744 932,388 933,620 934,474 935,737 936,432 937,719 938,468 939,711 940,561 941,501 942,647 943,832 944,527 945,601 946,533 947,754 948,416 949,771 950,367 951,435 952,655 953,515 954,814 955,682 956,423 957,746 958,512 959,746 960,718 961,520 962,575 963,567 964,498 965,723 966,587 967,657 968,495 969,820 970,695 971,687 972,671 973,489 974,690 975,790 976,785 977,573 978,519 979,628 980,700 981,587 982,550 983,560 984,696 985,614 986,426 987,667 988,528 989,804 990,728 991,517 992,556 993,568 994,561 995,740 996,897 997,468 998,418 999,629"/>
<polyline stroke="#EE9433" stroke-width="8.917" transform="translate(445.582,29.9) scale(0.145782)" points="0,609 1,666 2,518 3,447 4,719 5,544 6,644 7,645 8,590 9,717 10,610 11,517 12,725 13,270 14,682 15,778 16,531 17,427 18,567 19,827 20,641 21,572 22,625 23,563 24,606 25,543 26,725 27,554 28,518 29,526 30,599 31,716 32,574 33,555 34,146 35,649 36,555 37,538 38,587 39,528 40,468 41,680 42,564 43,552 44,596 45,656 46,604 47,466 48,487 49,530 50,532 51,652 52,592 53,654 54,777 55,350 56,618 57,683 58,663 59,487 60,682 61,593 62,511 63,641 64,926 65,497 66,436 67,660 68,702 69,619 70,600 71,534 72,480 73,517 74,648 75,672 76,510 77,483 78,396 79,618 80,686 81,703 82,250 83,757 84,615 85,604 86,587 87,566 88,589 89,640 90,740 91,575 92,663 93,614 94,373 95,470 96,626 97,757 98,835 99,773 100,261 101,724 102,682 103,740 104,743 105,721 106,623 107,690 108,731 109,356 110,474 111,662 112,549 113,633 114,655 115,663 116,616 117,614 118,560 119,741 120,697 121,593 122,678 123,384 124,827 125,601 126,507 127,603 128,606 129,725 130,656 131,780 132,544 133,602 134,386 135,507 136,389 137,293 138,722 139,555 140,435 141,610 142,697 143,707 144,430 145,587 146,418 147,270 148,594 149,746 150,541 151,740 152,574 153,771 154,756 155,424 156,444 157,496 158,550 159,664 160,716 161,986 162,600 163,423 164,609 165,508 166,595 167,709 168,514 169,689 170,782 171,495 172,603 173,613 174,655 175,597 176,543 177,637 178,519 179,685 180,595 181,494 182,511 183,728 184,558 185,657 186,654 187,712 188,541 189,599 190,653 191,475 192,614 193,710 194,606 195,543 196,576 197,655 198,604 199,734 200,618 201,671 202,672 203,518 204,516 205,420 206,560 207,673 208,429 209,614 210,380 211,798 212,804 213,631 214,703 215,595 216,552 217,676 218,637 219,677 220,840 221,644 222,620 223,568 224,509 225,765 226,588 227,454 228,470 229,671 230,618 231,680 232,628 233,672 234,737 235,550 236,574 237,764 238,607 239,568 240,744 241,614 242,679 243,787 244,654 245,759 246,669 247,676 248,477 249,554 250,664 251,585 252,838 253,748 254,471 255,375 256,544 257,766 258,628 259,515 260,753 261,720 262,1020 263,594 264,679 265,493 266,550 267,573 268,591 269,704 270,416 271,481 272,693 273,675 274,570 275,676 276,133 277,687 278,631 279,559 280,772 281,795 282,532 283,732 284,567 285,526 286,582 287,642 288,657 289,540 290,763 291,757 292,509 293,703 294,715 295,661 296,599 297,542 298,646 299,669 300,459 301,630 302,827 303,559 304,576 305,574 306,700 307,514 308,566 309,670 310,504 311,676 312,533 313,717 314,406 315,477 316,541 317,670 318,538 319,537 320,640 321,593 322,515 323,653 324,338 325,566 326,545 327,590 328,571 329,543 330,682 331,431 332,548 333,566 334,493 335,672 336,586 337,679 338,656 339,478 340,599 341,607 342,627 343,658 344,579 345,732 346,334 347,819 348,537 349,654 350,638 351,536 352,714 353,585 354,660 355,720 356,672 357,724 358,358 359,574 360,664 361,557 362,548 363,462 364,496 365,629 366,766 367,543 368,663 369,564 370,842 371,573 372,578 373,696 374,652 375,607 376,654 377,597 378,636 379,403 380,614 381,541 382,658 383,516 384,633 385,641 386,545 387,412 388,632 389,655 390,543 391,608 392,652 393,580 394,506 395,616 396,462 397,693 398,639 399,654 400,618 401,515 402,457 403,705 404,643 405,828 406,486 407,645 408,689 409,761 410,474 411,698 412,620 413,517 414,983 415,374 416,534 417,688 418,516 419,465 420,447 421,528 422,729 423,558 424,626 425,518 426,576 427,720 428,566 429,594 430,592 431,591 432,558 433,764 434,609 435,421 436,468 437,572 438,726 439,930 440,652 441,741 442,698 443,241 444,673 445,544 446,745 447,799 448,788 449,458 450,766 451,558 452,740 453,551 454,451 455,626 456,664 457,559 458,594 459,598 460,491 461,550 462,833 463,616 464,390 465,630 466,426 467,783 468,612 469,507 470,677 471,420 472,491 473,486 474,489 475,530 476,684 477,748 478,742 479,538 480,526 481,495 482,562 483,534 484,703 485,633 486,616 487,747 488,656 489,508 490,622 491,683 492,620 493,723 494,791 495,490 496,564 497,658 498,565 499,607 500,465 501,557 502,552 503,643 504,451 505,676 506,729 507,338 508,626 509,508 510,760 511,596 512,742 513,632 514,631 515,524 516,573 517,577 518,642 519,739 520,565 521,616 522,710 523,543 524,590 525,620 526,609 527,729 528,366 529,554 530,503 531,422 532,815 533,582 534,488 535,352 536,486 537,720 538,824 539,661 540,515 541,945 542,635 543,726 544,815 545,739 546,704 547,643 548,585 549,634 550,558 551,648 552,615 553,565 554,724 555,727 556,564 557,730 558,575 559,587 560,734 561,603 562,515 563,598 564,653 565,830 566,591 567,727 568,556 569,608 570,425 571,750 572,726 573,765 574,540 575,535 576,463 577,702 578,686 579,625 580,617 581,624 582,719 583,454 584,808 585,721 586,341 587,565 588,607 589,561 590,689 591,755 592,583 593,764 594,635 595,630 596,331 597,594 598,610 599,815 600,601 601,529 602,533 603,644 604,602 605,861 606,623 607,553 608,630 609,682 610,686 611,643 612,513 613,682 614,704 615,578 616,418 617,852 618,593 619,521 620,411 621,402 622,750 623,493 624,414 625,574 626,563 627,595 628,470 629,581 630,618 631,422 632,450 633,763 634,567 635,578 636,531 637,808 638,602 639,704 640,499 641,512 642,547 643,517 644,746 645,438 646,431 647,692 648,675 649,720 650,446 651,630 652,629 653,525 654,452 655,748 656,397 657,582 658,753 659,588 660,356 661,488 662,463 663,709 664,560 665,807 666,517 667,666 668,742 669,413 670,718 671,713 672,592 673,554 674,749 675,660 676,536 677,598 678,536 679,528 680,542 681,544 682,571 683,657 684,700 685,678 686,600 687,748 688,673 689,636 690,611 691,495 692,698 693,661 694,685 695,789 696,288 697,586 698,671 699,551 700,522 701,425 702,561 703,546 704,633 705,580 706,565 707,689 708,760 709,787 710,664 711,684 712,465 713,441 714,723 715,513 716,681 717,489 718,515 719,497 720,791 721,506 722,617 723,628 724,358 725,696 726,539 727,471 728,684 729,751 730,367 731,615 732,416 733,489 734,420 735,626 736,530 737,660 738,646 739,771 740,605 741,769 742,577 743,701 744,604 745,640 746,448 747,977 748,739 749,423 750,556 751,808 752,650 753,729 754,675 755,606 756,569 757,431 758,654 759,834 760,653 761,782 762,668 763,531 764,594 765,679 766,618 767,691 768,530 769,560 770,596 771,632 772,703 773,433 774,495 775,710 776,554 777,568 778,695 779,494 780,542 781,634 782,531 783,518 784,702 785,705 786,435 787,697 788,599 789,706 790,859 791,534 792,700 793,633 794,505 795,574 796,546 797,339 798,593 799,700 800,715 801,537 802,661 803,669 804,636 805,567 806,706 807,730 808,888 809,503 810,693 811,632 812,612 813,658 814,573 815,630 816,729 817,529 818,577 819,528 820,547 821,631 822,530 823,664 824,698 825,570 826,737 827,695 828,569 829,583 830,652 831,576 832,570 833,688 834,676 835,634 836,661 837,542 838,554 839,496 840,630 841,509 842,749 843,664 844,635 845,510 846,707 847,694 848,579 849,715 850,568 851,604 852,630 853,574 854,603 855,698 856,722 857,707 858,588 859,659 860,598 861,681 862,593 863,766 864,601 865,593 866,626 867,594 868,862 869,508 870,593 871,456 872,563 873,687 874,499 875,705 876,525 877,437 878,682 879,525 880,698 881,624 882,784 883,665 884,647 885,620 886,541 887,490 888,615 889,701 890,606 891,690 892,508 893,529 894,776 895,540 896,667 897,466 898,534 899,644 900,471 901,500 902,855 903,513 904,612 905,801 906,559 907,648 908,855 909,779 910,663 911,532 912,596 913,338 914,581 915,707 916,734 917,734 918,482 919,526 920,694 921,683 922,625 923,717 924,401 925,708 926,649 927,810 928,954 929,567 930,628 931,642 932,535 933,567 934,665 935,453 936,607 937,649 938,630 939,667 940,551 941,661 942,653 943,618 944,499 945,477 946,571 947,461 948,493 949,344 950,619 951,487 952,522 953,597 954,611 955,808 956,506 957,579 958,413 959,671 960,506 961,537 962,596 963,692 964,700 965,767 966,668 967,794 968,686 969,740 970,648 971,464 972,562 973,671 974,625 975,689 976,585 977,590 978,711 979,684 980,590 981,491 982,799 983,733 984,420 985,637 986,548 987,519 988,542 989,590 990,228 991,573 992,714 993,598 994,706 995,588 996,674 997,477 998,722 999,584"/>
<polyline stroke="#D94801" stroke-width="8.917" transform="translate(61.182,256.1) scale(0.145782)" points="0,701 1,972 2,1095 3,1126 4,925 5,1101 6,1045 7,1132 8,997 9,1049 10,1092 11,1077 12,962 13,1052 14,982 15,998 16,1101 17,930 18,1092 19,667 20,954 21,1152 22,1123 23,998 24,879 25,1000 26,1051 27,1143 28,971 29,1007 30,979 31,1123 32,1048 33,1083 34,960 35,1110 36,1052 37,976 38,1040 39,1010 40,930 41,958 42,993 43,798 44,1093 45,900 46,1112 47,1168 48,966 49,1136 50,1116 51,975 52,824 53,1128 54,1063 55,852 56,1076 57,1035 58,1076 59,1052 60,1045 61,888 62,1003 63,1084 64,1106 65,857 66,989 67,1024 68,996 69,1104 70,1047 71,1080 72,1138 73,1119 74,992 75,1045 76,990 77,1066 78,1021 79,997 80,1022 81,1113 82,1021 83,1117 84,1052 85,1091 86,942 87,1073 88,1096 89,988 90,1089 91,1104 92,1124 93,897 94,1036 95,1043 96,905 97,1132 98,1016 99,779 100,906 101,1117 102,1053 103,970 104,952 105,910 106,990 107,928 108,1085 109,1151 110,1080 111,1125 112,1011 113,910 114,1001 115,936 116,1035 117,1042 118,1101 119,999 120,1080 121,1062 122,870 123,1105 124,1005 125,994 126,1027 127,1054 128,1119 129,1089 130,781 131,1062 132,1067 133,982 134,1084 135,1127 136,1025 137,1162 138,913 139,1148 140,1089 141,1144 142,1106 143,1150 144,934 145,1127 146,1065 147,1001 148,1127 149,1003 150,926 151,1157 152,1115 153,1073 154,909 155,1137 156,943 157,1099 158,1036 159,1050 160,947 161,942 162,1002 163,1059 164,988 165,827 166,1137 167,1022 168,988 169,1122 170,1134 171,1103 172,1022 173,1135 174,1126 175,1160 176,1058 177,975 178,775 179,991 180,1043 181,1097 182,1126 183,1013 184,997 185,735 186,1056 187,1087 188,1004 189,1101 190,1071 191,968 192,1042 193,921 194,1024 195,1095 196,1139 197,999 198,1037 199,995 200,1088 201,1133 202,1082 203,974 204,1112 205,866 206,1044 207,1116 208,1045 209,1110 210,1041 211,988 212,922 213,1011 214,1118 215,1095 216,769 217,949 218,1040 219,1129 220,1063 221,965 222,919 223,1111 224,1080 225,783 226,1042 227,1042 228,1092 229,1085 230,927 231,1071 232,994 233,1140 234,1031 235,1010 236,1149 237,1131 238,1058 239,1008 240,1118 241,1111 242,1111 243,1121 244,1067 245,1034 246,1155 247,1056 248,1023 249,1067 250,1029 251,954 252,1017 253,1131 254,1147 255,1006 256,805 257,894 258,1045 259,1060 260,1089 261,1158 262,1015 263,1126 264,1034 265,863 266,909 267,928 268,1045 269,1133 270,1127 271,880 272,997 273,1126 274,893 275,1059 276,1105 277,985 278,1132 279,1097 280,1060 281,984 282,984 283,1134 284,925 285,1057 286,815 287,982 288,976 289,1069 290,1042 291,850 292,1125 293,1128 294,630 295,1124 296,1009 297,1083 298,1143 299,880 300,1149 301,998 302,1032 303,1034 304,1116 305,1114 306,1088 307,807 308,810 309,1085 310,915 311,943 312,948 313,1138 314,1069 315,1124 316,925 317,1026 318,1103 319,1035 320,570 321,1123 322,1127 323,958 324,938 325,1096 326,1001 327,1055 328,1128 329,1041 330,1093 331,1133 332,966 333,1118 334,1143 335,1059 336,884 337,1091 338,832 339,1049 340,1098 341,1158 342,1014 343,1080 344,1119 345,1069 346,1064 347,927 348,984 349,596 350,934 351,972 352,1029 353,1110 354,943 355,1069 356,1019 357,1067 358,954 359,955 360,560 361,1128 362,997 363,1081 364,1053 365,1092 366,1061 367,1094 368,1073 369,1079 370,946 371,987 372,1084 373,1132 374,1133 375,1101 376,1098 377,1049 378,866 379,952 380,1016 381,1143 382,1058 383,917 384,997 385,1044 386,1026 387,1040 388,1086 389,1118 390,973 391,1157 392,870 393,996 394,1057 395,1151 396,983 397,1027 398,917 399,1112 400,990 401,866 402,916 403,1072 404,1035 405,1040 406,1034 407,1091 408,1066 409,1128 410,1021 411,802 412,1113 413,1102 414,860 415,1151 416,1077 417,1152 418,1139 419,1041 420,996 421,1072 422,1082 423,884 424,935 425,1043 426,977 427,1118 428,917 429,1114 430,1086 431,999 432,1005 433,1052 434,1144 435,1088 436,1111 437,1087 438,828 439,943 440,927 441,995 442,1100 443,1142 444,820 445,996 446,972 447,1036 448,1008 449,1016 450,928 451,1020 452,1062 453,1032 454,1047 455,1064 456,999 457,1011 458,1037 459,1086 460,990 461,966 462,1096 463,964 464,805 465,1124 466,1081 467,925 468,1100 469,1046 470,1008 471,1150 472,971 473,867 474,910 475,961 476,840 477,922 478,1129 479,1016 480,949 481,998 482,1010 483,942 484,832 485,1124 486,1063 487,1013 488,1135 489,1062 490,1052 491,1109 492,971 493,901 494,930 495,1053 496,1107 497,1063 498,1047 499,781 500,977 501,1066 502,954 503,1045 504,1011 505,964 506,1028 507,986 508,960 509,862 510,1121 511,1139 512,1145 513,1117 514,1099 515,1053 516,1051 517,1147 518,1031 519,1037 520,1045 521,1110 522,1086 523,1043 524,870 525,1003 526,1125 527,826 528,911 529,1083 530,1076 531,1151 532,1126 533,992 534,789 535,1029 536,932 537,1118 538,1062 539,1015 540,913 541,1076 542,1065 543,844 544,859 545,1158 546,1084 547,1103 548,905 549,817 550,1056 551,1159 552,846 553,1017 554,1048 555,1015 556,1119 557,1006 558,1025 559,1101 560,1066 561,752 562,1030 563,1148 564,1047 565,1013 566,1043 567,962 568,1059 569,1107 570,1048 571,1011 572,1092 573,1134 574,1085 575,838 576,904 577,1106 578,1122 579,1085 580,776 581,898 582,1038 583,1129 584,1017 585,1019 586,1158 587,1138 588,1091 589,1046 590,1098 591,1094 592,983 593,1119 594,977 595,951 596,999 597,1042 598,968 599,1149 600,1035 601,1166 602,1001 603,1097 604,1025 605,936 606,1082 607,1159 608,1127 609,1119 610,931 611,919 612,1123 613,1003 614,1089 615,756 616,1096 617,989 618,1032 619,1121 620,1023 621,890 622,1105 623,1128 624,1016 625,1090 626,1007 627,1035 628,1062 629,1134 630,1025 631,904 632,1057 633,1026 634,1111 635,764 636,1089 637,1040 638,957 639,1086 640,1063 641,1013 642,875 643,981 644,1043 645,1019 646,1075 647,1131 648,1057 649,1133 650,1090 651,905 652,1145 653,1102 654,1022 655,1131 656,749 657,999 658,1094 659,1002 660,1072 661,1051 662,1114 663,971 664,861 665,1089 666,1073 667,1074 668,1129 669,962 670,1012 671,1133 672,1126 673,1053 674,1119 675,1075 676,1083 677,1123 678,1099 679,869 680,827 681,957 682,1062 683,1085 684,1086 685,1089 686,952 687,1114 688,1120 689,1095 690,1008 691,1094 692,806 693,986 694,1087 695,1025 696,1057 697,1010 698,1090 699,941 700,1079 701,1125 702,1105 703,1125 704,1125 705,962 706,998 707,1098 708,909 709,924 710,1072 711,1132 712,1093 713,1096 714,1163 715,1065 716,1021 717,1035 718,1110 719,1088 720,1070 721,1036 722,1134 723,1035 724,986 725,1133 726,1086 727,1117 728,1110 729,1155 730,1126 731,931 732,980 733,1101 734,1158 735,1132 736,1079 737,1035 738,1114 739,775 740,1130 741,1055 742,1139 743,1129 744,1087 745,1038 746,803 747,1044 748,1123 749,888 750,1098 751,1030 752,1072 753,1096 754,1055 755,1101 756,1095 757,1132 758,1007 759,1063 760,1044 761,1063 762,1007 763,1083 764,1003 765,984 766,1115 767,1038 768,916 769,1055 770,990 771,1087 772,959 773,1107 774,1100 775,1097 776,1047 777,1026 778,1033 779,530 780,1121 781,1151 782,1089 783,1004 784,1079 785,1080 786,1075 787,998 788,1046 789,909 790,1149 791,1098 792,1011 793,1072 794,1004 795,888 796,1024 797,983 798,1016 799,1088 800,944 801,1132 802,1128 803,1067 804,995 805,1121 806,1084 807,1078 808,963 809,1133 810,1116 811,1155 812,1114 813,987 814,1013 815,949 816,990 817,1138 818,1047 819,1106 820,1135 821,1061 822,1028 823,960 824,1054 825,1014 826,1079 827,1137 828,976 829,949 830,988 831,1050 832,1107 833,1116 834,1019 835,1087 836,1104 837,1107 838,914 839,1114 840,1108 841,1164 842,1147 843,1048 844,1101 845,1064 846,1100 847,1064 848,1041 849,1085 850,1096 851,1105 852,1094 853,1084 854,1036 855,1056 856,974 857,1016 858,847 859,1002 860,939 861,1122 862,1052 863,1073 864,1022 865,824 866,905 867,1091 868,1105 869,930 870,1085 871,1030 872,901 873,1039 874,1102 875,912 876,1146 877,837 878,1004 879,950 880,1003 881,918 882,1150 883,1150 884,1032 885,1163 886,943 887,1003 888,1095 889,1101 890,1104 891,1120 892,1099 893,1090 894,955 895,861 896,1014 897,993 898,1153 899,1107 900,1054 901,1129 902,1038 903,1109 904,1138 905,964 906,1020 907,1077 908,1040 909,974 910,939 911,1071 912,1046 913,1138 914,1144 915,1005 916,794 917,527 918,1064 919,1055 920,972 921,968 922,1106 923,1046 924,1064 925,1122 926,1135 927,939 928,1000 929,1074 930,1048 931,1158 932,1150 933,899 934,984 935,925 936,983 937,1076 938,925 939,1088 940,938 941,994 942,933 943,1092 944,1055 945,976 946,962 947,1029 948,1151 949,1112 950,1044 951,959 952,923 953,974 954,1127 955,1068 956,1123 957,830 958,1079 959,1107 960,1056 961,1079 962,911 963,1145 964,901 965,1084 966,1010 967,985 968,1101 969,1144 970,1099 971,1095 972,1004 973,1065 974,937 975,1012 976,776 977,1062 978,984 979,1085 980,1083 981,1081 982,1038 983,1003 984,1078 985,1012 986,1109 987,1166 988,1092 989,1144 990,1077 991,989 992,1143 993,1034 994,1148 995,1003 996,1012 997,1089 998,945 999,930"/>
<polyline stroke="#8475B5" stroke-width="8.917" transform="translate(61.182,256.1) scale(0.145782)" points="0,987 1,1022 2,908 3,850 4,1064 5,978 6,861 7,951 8,1074 9,980 10,1135 11,1131 12,1068 13,1120 14,1076 15,1034 16,996 17,1119 18,1056 19,1087 20,1025 21,1109 22,1043 23,1135 24,1082 25,1139 26,925 27,1009 28,467 29,1032 30,787 31,1107 32,910 33,1027 34,1063 35,1065 36,755 37,1038 38,1015 39,1019 40,1073 41,993 42,1129 43,1055 44,1151 45,1013 46,1139 47,1002 48,1100 49,972 50,1069 51,1130 52,1108 53,1064 54,772 55,846 56,1104 57,1004 58,1141 59,1162 60,1010 61,1104 62,1098 63,931 64,1032 65,1092 66,1088 67,1074 68,1117 69,988 70,1080 71,1061 72,1129 73,1131 74,1115 75,1030 76,781 77,932 78,1052 79,1041 80,937 81,1159 82,1059 83,949 84,833 85,1067 86,1140 87,919 88,1127 89,1090 90,944 91,1033 92,1082 93,1034 94,1020 95,1134 96,1076 97,874 98,850 99,1090 100,956 101,1053 102,1103 103,1089 104,1099 105,896 106,1145 107,1016 108,991 109,1073 110,1053 111,1061 112,1123 113,791 114,1084 115,968 116,1110 117,1016 118,1064 119,1129 120,1120 121,1096 122,1079 123,1149 124,941 125,889 126,1141 127,1043 128,1055 129,1090 130,1022 131,1017 132,942 133,1132 134,958 135,1052 136,1130 137,1163 138,842 139,1053 140,1123 141,908 142,965 143,524 144,1099 145,996 146,1047 147,987 148,1109 149,1119 150,1078 151,1088 152,1143 153,1104 154,1095 155,1106 156,990 157,1106 158,799 159,1026 160,925 161,996 162,1125 163,895 164,1149 165,1140 166,1057 167,988 168,993 169,1028 170,900 171,1164 172,1077 173,950 174,956 175,909 176,1013 177,1148 178,914 179,1082 180,1059 181,997 182,1097 183,1046 184,879 185,869 186,1071 187,1097 188,1000 189,1123 190,1112 191,980 192,807 193,761 194,1033 195,1125 196,1055 197,1109 198,1022 199,1169 200,917 201,1021 202,1026 203,1043 204,1084 205,1124 206,797 207,845 208,1076 209,998 210,1148 211,1047 212,1037 213,1003 214,1113 215,1083 216,1040 217,967 218,978 219,1086 220,1008 221,805 222,1107 223,1047 224,1083 225,1103 226,1063 227,1140 228,1084 229,868 230,1112 231,1005 232,960 233,1075 234,950 235,1104 236,1084 237,1077 238,1122 239,1118 240,1114 241,1124 242,1141 243,1125 244,918 245,1063 246,1151 247,964 248,985 249,1138 250,949 251,375 252,1058 253,1028 254,1032 255,1065 256,824 257,984 258,1048 259,1140 260,1143 261,1118 262,944 263,1037 264,1155 265,1023 266,1047 267,1105 268,982 269,981 270,1065 271,1150 272,1122 273,871 274,1053 275,1003 276,1154 277,954 278,1138 279,906 280,1083 281,1089 282,1118 283,882 284,1003 285,1065 286,1083 287,1135 288,644 289,964 290,1065 291,1074 292,1036 293,1047 294,1055 295,880 296,1008 297,1133 298,975 299,798 300,1155 301,1068 302,988 303,899 304,963 305,1080 306,826 307,997 308,1026 309,1083 310,1048 311,1138 312,831 313,899 314,1089 315,1020 316,909 317,1049 318,824 319,1112 320,1041 321,986 322,995 323,864 324,1118 325,814 326,1047 327,959 328,581 329,1025 330,1068 331,1119 332,1139 333,1091 334,1123 335,969 336,1159 337,1081 338,1077 339,1126 340,1073 341,1136 342,1077 343,1148 344,952 345,1107 346,1073 347,1101 348,1091 349,898 350,982 351,1088 352,1001 353,751 354,863 355,907 356,1020 357,960 358,1077 359,1018 360,1033 361,1033 362,1084 363,906 364,1115 365,909 366,971 367,1030 368,903 369,1058 370,961 371,556 372,1079 373,1030 374,932 375,1034 376,1103 377,1111 378,909 379,1041 380,1078 381,1117 382,995 383,1080 384,1052 385,1039 386,1051 387,1035 388,1055 389,1013 390,860 391,935 392,910 393,902 394,965 395,1052 396,1026 397,975 398,868 399,993 400,1005 401,1008 402,1030 403,1067 404,1109 405,909 406,1081 407,1024 408,960 409,919 410,1146 411,1067 412,486 413,1089 414,1006 415,1090 416,980 417,1150 418,1079 419,954 420,941 421,1025 422,993 423,1132 424,1085 425,1034 426,1079 427,1111 428,1047 429,1028 430,1101 431,1029 432,1011 433,883 434,989 435,993 436,987 437,979 438,1101 439,947 440,1134 441,1085 442,1086 443,1124 444,1045 445,1148 446,957 447,994 448,1096 449,1002 450,1003 451,1103 452,1078 453,998 454,1015 455,1067 456,973 457,1144 458,981 459,1006 460,1094 461,937 462,929 463,1009 464,1089 465,1129 466,1116 467,824 468,928 469,1004 470,1136 471,1056 472,1065 473,1112 474,1006 475,1085 476,977 477,1015 478,1030 479,1027 480,1114 481,1161 482,988 483,859 484,960 485,1045 486,1119 487,753 488,1050 489,1161 490,997 491,984 492,946 493,1133 494,1067 495,938 496,1101 497,1065 498,1004 499,895 500,898 501,1069 502,1091 503,1025 504,1006 505,1122 506,867 507,1098 508,1154 509,1098 510,1037 511,1013 512,1023 513,1137 514,1119 515,1131 516,975 517,980 518,1061 519,585 520,1005 521,924 522,1000 523,1102 524,1112 525,861 526,1101 527,1040 528,1034 529,1032 530,1035 531,1055 532,958 533,1108 534,1059 535,935 536,948 537,1165 538,979 539,1080 540,967 541,1078 542,1051 543,1145 544,957 545,1082 546,984 547,956 548,1136 549,1057 550,771 551,953 552,1063 553,1137 554,990 555,1018 556,994 557,1079 558,1052 559,376 560,1039 561,981 562,1029 563,1163 564,963 565,1015 566,1079 567,1150 568,1125 569,1038 570,1161 571,1039 572,1118 573,1022 574,1156 575,1007 576,1066 577,1144 578,1032 579,1067 580,1092 581,952 582,895 583,1110 584,814 585,1063 586,1095 587,1143 588,916 589,1041 590,998 591,998 592,797 593,1145 594,1147 595,1077 596,1030 597,1014 598,979 599,1055 600,903 601,1099 602,788 603,1119 604,1101 605,929 606,1041 607,958 608,910 609,1054 610,1075 611,1156 612,1029 613,644 614,909 615,1071 616,930 617,1130 618,1096 619,1006 620,1076 621,884 622,1064 623,1128 624,1039 625,1022 626,1014 627,1125 628,1159 629,1153 630,1153 631,1043 632,1049 633,883 634,1058 635,1074 636,1087 637,1043 638,1042 639,1129 640,1037 641,1130 642,953 643,1023 644,1104 645,1117 646,1133 647,1062 648,1139 649,991 650,1017 651,1120 652,998 653,928 654,944 655,1131 656,1113 657,1099 658,1056 659,1011 660,918 661,1002 662,1124 663,1111 664,1109 665,1150 666,1058 667,953 668,1095 669,1107 670,1047 671,903 672,1102 673,1093 674,956 675,1059 676,1068 677,1044 678,932 679,1001 680,1134 681,1094 682,1044 683,1077 684,1053 685,1094 686,1041 687,979 688,798 689,1111 690,1151 691,899 692,1045 693,1097 694,987 695,1103 696,1028 697,1158 698,1060 699,1051 700,1085 701,1010 702,1019 703,1035 704,1066 705,1010 706,1114 707,400 708,975 709,1145 710,778 711,1077 712,952 713,1114 714,1074 715,1100 716,1094 717,995 718,1073 719,1109 720,1096 721,905 722,1022 723,1001 724,909 725,1156 726,1083 727,1009 728,1023 729,1065 730,1100 731,1076 732,1092 733,908 734,1114 735,1101 736,1075 737,954 738,1050 739,1061 740,1082 741,1125 742,1140 743,852 744,1128 745,991 746,763 747,1118 748,921 749,1138 750,1154 751,1005 752,1101 753,1106 754,876 755,963 756,1152 757,1158 758,1080 759,1101 760,1037 761,977 762,1086 763,990 764,1084 765,953 766,1092 767,1090 768,865 769,1104 770,1030 771,1127 772,944 773,1022 774,1028 775,1109 776,1099 777,1018 778,1042 779,1015 780,1004 781,1088 782,1065 783,1110 784,1131 785,1101 786,746 787,1010 788,899 789,1057 790,1029 791,913 792,1055 793,1080 794,1072 795,1099 796,1068 797,1059 798,1093 799,1099 800,1039 801,1074 802,1107 803,1054 804,913 805,1170 806,1085 807,1032 808,1038 809,771 810,1164 811,1046 812,1018 813,1089 814,1087 815,1092 816,1069 817,894 818,924 819,1050 820,763 821,1103 822,1050 823,1042 824,1117 825,1111 826,886 827,946 828,1130 829,966 830,925 831,1025 832,902 833,780 834,1051 835,1169 836,1134 837,941 838,954 839,1081 840,966 841,986 842,1004 843,973 844,1054 845,771 846,1085 847,1152 848,1026 849,56 850,751 851,1018 852,1108 853,838 854,1087 855,1138 856,1075 857,1038 858,889 859,1127 860,1103 861,849 862,1085 863,1078 864,1077 865,1120 866,1053 867,1009 868,1095 869,999 870,1151 871,1125 872,1102 873,1056 874,1108 875,983 876,1041 877,1075 878,1090 879,1121 880,951 881,1101 882,1146 883,1040 884,1058 885,1025 886,844 887,1107 888,1157 889,1093 890,1069 891,1126 892,1100 893,1114 894,932 895,929 896,956 897,1084 898,1031 899,1146 900,1090 901,1027 902,1107 903,1036 904,1029 905,984 906,1113 907,1001 908,1036 909,1106 910,1040 911,949 912,1106 913,1029 914,1044 915,1041 916,1100 917,928 918,1124 919,1152 920,1089 921,1042 922,1100 923,964 924,861 925,924 926,897 927,1129 928,1151 929,1079 930,1100 931,1127 932,932 933,994 934,1125 935,1116 936,1166 937,908 938,1044 939,966 940,1069 941,873 942,1046 943,1089 944,938 945,549 946,1031 947,1083 948,1078 949,1040 950,1040 951,1112 952,936 953,1009 954,925 955,1019 956,1127 957,1136 958,1134 959,886 960,840 961,1014 962,1101 963,952 964,1043 965,879 966,1120 967,1131 968,1106 969,1089 970,1035 971,1162 972,861 973,865 974,994 975,1096 976,1141 977,905 978,924 979,930 980,1030 981,1052 982,786 983,1123 984,996 985,969 986,1018 987,1046 988,1075 989,955 990,1091 991,807 992,1065 993,1139 994,1115 995,1095 996,1047 997,947 998,806 999,1125"/>
<polyline stroke="#45157E" stroke-width="8.917" transform="translate(61.182,256.1) scale(0.145782)" points="0,1081 1,1146 2,964 3,788 4,1076 5,788 6,956 7,1094 8,707 9,919 10,1030 11,1147 12,1126 13,930 14,1114 15,1062 16,1002 17,1017 18,1080 19,943 20,1104 21,1164 22,903 23,1069 24,930 25,1158 26,1048 27,1110 28,1160 29,1065 30,1107 31,1070 32,1039 33,1047 34,1020 35,969 36,959 37,761 38,1049 39,1143 40,1040 41,1131 42,1123 43,961 44,843 45,632 46,1061 47,1073 48,946 49,931 50,1125 51,881 52,1085 53,963 54,1124 55,851 56,1144 57,1087 58,1010 59,850 60,1087 61,998 62,840 63,993 64,1036 65,947 66,992 67,1075 68,1040 69,750 70,1014 71,1049 72,972 73,1112 74,1026 75,1119 76,1154 77,1093 78,755 79,957 80,892 81,1074 82,881 83,1083 84,1050 85,762 86,1082 87,1125 88,1065 89,1140 90,980 91,1066 92,1037 93,1059 94,749 95,1039 96,1136 97,768 98,1034 99,1105 100,1073 101,967 102,890 103,1067 104,917 105,1032 106,937 107,356 108,1072 109,886 110,974 111,940 112,1025 113,1076 114,1018 115,997 116,1146 117,761 118,1077 119,903 120,832 121,944 122,1076 123,1108 124,1037 125,1128 126,993 127,1044 128,918 129,1005 130,950 131,945 132,875 133,1118 134,1052 135,1082 136,1038 137,945 138,1136 139,939 140,854 141,924 142,1116 143,1151 144,961 145,790 146,1130 147,1131 148,678 149,1116 150,1165 151,1066 152,1070 153,1120 154,982 155,881 156,1048 157,849 158,1111 159,1074 160,890 161,924 162,1028 163,857 164,1026 165,1026 166,1085 167,1159 168,1042 169,755 170,1067 171,1051 172,931 173,1093 174,1021 175,928 176,1012 177,1132 178,942 179,1062 180,1040 181,1158 182,1110 183,1122 184,1019 185,1027 186,1111 187,1017 188,1112 189,1001 190,916 191,1109 192,815 193,1117 194,1109 195,1102 196,960 197,1083 198,1029 199,1112 200,990 201,977 202,999 203,1146 204,928 205,802 206,811 207,1001 208,1069 209,1086 210,832 211,969 212,832 213,1132 214,1000 215,1021 216,941 217,1140 218,1042 219,1126 220,1065 221,1139 222,1100 223,906 224,848 225,916 226,962 227,877 228,1133 229,822 230,905 231,1065 232,1122 233,1075 234,975 235,1057 236,959 237,983 238,1100 239,1142 240,1059 241,1072 242,1014 243,953 244,937 245,1099 246,1035 247,978 248,1136 249,840 250,1096 251,1059 252,1105 253,1002 254,1125 255,1096 256,974 257,1127 258,1140 259,923 260,1074 261,987 262,1070 263,952 264,834 265,896 266,851 267,1018 268,1156 269,1135 270,899 271,1005 272,1007 273,1010 274,1123 275,871 276,1078 277,862 278,1147 279,870 280,701 281,872 282,793 283,1112 284,904 285,1055 286,1136 287,973 288,983 289,1010 290,991 291,1123 292,1099 293,988 294,958 295,1113 296,993 297,1033 298,1043 299,1101 300,1037 301,878 302,1055 303,1079 304,1132 305,610 306,1054 307,1025 308,953 309,1046 310,1164 311,1113 312,1137 313,1043 314,1052 315,863 316,1169 317,1039 318,1136 319,1045 320,1108 321,1100 322,959 323,1088 324,960 325,996 326,848 327,1108 328,1111 329,1017 330,897 331,944 332,799 333,968 334,924 335,907 336,1039 337,1114 338,1090 339,1055 340,972 341,1006 342,1082 343,1006 344,1078 345,1046 346,1012 347,962 348,856 349,1043 350,1126 351,1015 352,1009 353,944 354,1141 355,1069 356,1117 357,1025 358,1058 359,1147 360,1085 361,1043 362,810 363,1135 364,1167 365,871 366,962 367,1020 368,858 369,956 370,1144 371,979 372,1058 373,1136 374,1112 375,1041 376,1072 377,780 378,1094 379,1057 380,1035 381,816 382,1125 383,667 384,1022 385,1075 386,948 387,990 388,1116 389,1007 390,823 391,1074 392,1120 393,798 394,1095 395,1126 396,975 397,966 398,1084 399,1116 400,764 401,901 402,740 403,835 404,881 405,1141 406,1051 407,1122 408,1009 409,999 410,564 411,838 412,822 413,992 414,1079 415,913 416,909 417,1017 418,1022 419,955 420,990 421,1066 422,1016 423,1088 424,1117 425,1025 426,1113 427,1144 428,1133 429,974 430,786 431,1097 432,1023 433,1058 434,978 435,869 436,615 437,941 438,989 439,823 440,1024 441,1094 442,1130 443,1120 444,910 445,1031 446,1099 447,1070 448,947 449,1018 450,1162 451,769 452,1016 453,1028 454,627 455,941 456,1063 457,1093 458,1113 459,970 460,893 461,1035 462,1073 463,1147 464,1023 465,1114 466,1143 467,1042 468,1020 469,1032 470,1103 471,1043 472,983 473,1039 474,981 475,785 476,1034 477,673 478,1115 479,1120 480,1151 481,876 482,922 483,1063 484,887 485,770 486,989 487,1037 488,1100 489,1005 490,1088 491,913 492,886 493,1152 494,951 495,1164 496,1089 497,959 498,988 499,1061 500,1065 501,817 502,1068 503,1113 504,1013 505,971 506,1031 507,1024 508,1132 509,919 510,1054 511,910 512,609 513,1096 514,1009 515,1169 516,1110 517,1017 518,1094 519,1003 520,1091 521,904 522,1093 523,1039 524,1147 525,827 526,890 527,1130 528,851 529,1054 530,852 531,1143 532,983 533,1078 534,976 535,984 536,1076 537,1037 538,1159 539,1089 540,1028 541,1029 542,1144 543,1042 544,928 545,1152 546,903 547,1010 548,915 549,1154 550,1100 551,1086 552,1023 553,932 554,1121 555,1043 556,1040 557,1161 558,915 559,1170 560,892 561,1078 562,1023 563,534 564,934 565,1147 566,1021 567,1035 568,926 569,1035 570,1071 571,934 572,1107 573,1142 574,1019 575,986 576,901 577,821 578,1038 579,978 580,1061 581,916 582,1112 583,1117 584,1154 585,1122 586,1161 587,1029 588,1109 589,1094 590,995 591,935 592,1041 593,1087 594,876 595,1151 596,1149 597,1039 598,1013 599,878 600,800 601,964 602,1137 603,902 604,1063 605,982 606,829 607,924 608,1108 609,1054 610,1065 611,1001 612,995 613,1155 614,1164 615,1100 616,1152 617,1097 618,1074 619,1041 620,1029 621,776 622,920 623,1165 624,907 625,919 626,1114 627,1130 628,928 629,1121 630,917 631,1087 632,930 633,1023 634,1000 635,914 636,884 637,1138 638,1094 639,1092 640,943 641,1137 642,1134 643,1160 644,617 645,1097 646,989 647,1144 648,834 649,1094 650,866 651,1120 652,1153 653,1141 654,934 655,1067 656,1130 657,1036 658,985 659,1103 660,913 661,1094 662,1053 663,1096 664,945 665,1082 666,1032 667,1085 668,1024 669,1119 670,1002 671,1118 672,1104 673,900 674,1077 675,940 676,926 677,1108 678,1036 679,894 680,967 681,1067 682,1086 683,1024 684,906 685,1083 686,919 687,1111 688,640 689,898 690,907 691,1027 692,992 693,1098 694,1071 695,876 696,877 697,1126 698,852 699,922 700,1126 701,1043 702,1041 703,1035 704,1024 705,1053 706,1060 707,1028 708,959 709,976 710,1022 711,1017 712,1131 713,1006 714,1104 715,964 716,907 717,1147 718,1127 719,853 720,1100 721,899 722,1104 723,1089 724,1092 725,1150 726,1013 727,1045 728,979 729,913 730,1012 731,973 732,914 733,746 734,1096 735,883 736,1148 737,1011 738,1140 739,1056 740,1087 741,1158 742,963 743,905 744,964 745,1117 746,1071 747,1110 748,947 749,981 750,962 751,1020 752,1082 753,920 754,779 755,1061 756,893 757,1103 758,1001 759,1000 760,1140 761,1064 762,1035 763,1009 764,1005 765,996 766,1006 767,1029 768,1054 769,965 770,1039 771,875 772,1019 773,969 774,1109 775,1009 776,1071 777,983 778,1091 779,971 780,1088 781,964 782,797 783,1062 784,1107 785,1128 786,773 787,1130 788,1109 789,829 790,974 791,794 792,950 793,969 794,1102 795,979 796,1005 797,976 798,1149 799,866 800,1040 801,1038 802,981 803,433 804,775 805,1019 806,1141 807,1155 808,893 809,1055 810,1001 811,1096 812,822 813,1015 814,1055 815,1117 816,920 817,897 818,779 819,1111 820,1138 821,848 822,844 823,1101 824,951 825,1118 826,967 827,1082 828,1021 829,1101 830,1020 831,1077 832,1005 833,1098 834,977 835,1123 836,994 837,1070 838,937 839,1074 840,1072 841,1086 842,812 843,1068 844,1141 845,987 846,1002 847,1111 848,1154 849,569 850,1122 851,1000 852,1033 853,1140 854,1048 855,1006 856,1055 857,1088 858,1038 859,1121 860,1101 861,1104 862,1072 863,951 864,1156 865,971 866,843 867,1151 868,861 869,1087 870,1108 871,979 872,1115 873,973 874,1100 875,817 876,870 877,1085 878,916 879,995 880,768 881,945 882,787 883,1090 884,867 885,1119 886,1128 887,1118 888,872 889,1126 890,960 891,1081 892,1124 893,782 894,1074 895,1011 896,954 897,1026 898,1059 899,1008 900,966 901,1084 902,995 903,1009 904,1049 905,972 906,1075 907,1026 908,940 909,1077 910,1140 911,1168 912,896 913,1027 914,1041 915,1063 916,898 917,1099 918,977 919,890 920,1012 921,770 922,1021 923,887 924,970 925,883 926,1111 927,1067 928,1146 929,1142 930,1049 931,952 932,1036 933,1091 934,1112 935,1152 936,1048 937,1123 938,948 939,936 940,960 941,985 942,956 943,1074 944,807 945,926 946,862 947,1130 948,791 949,1104 950,999 951,979 952,1153 953,963 954,1134 955,1143 956,768 957,794 958,1021 959,1024 960,1064 961,998 962,1013 963,1126 964,1005 965,1159 966,1089 967,840 968,543 969,1105 970,1097 971,1077 972,1133 973,1107 974,1079 975,1002 976,1109 977,1074 978,1062 979,961 980,868 981,942 982,858 983,948 984,971 985,1039 986,1109 987,960 988,1059 989,1132 990,977 991,986 992,1079 993,1085 994,1043 995,917 996,1021 997,1123 998,970 999,1113"/>
<polyline stroke="#EE9433" stroke-width="8.917" transform="translate(61.182,256.1) scale(0.145782)" points="0,826 1,927 2,943 3,1095 4,1121 5,1112 6,1143 7,1124 8,1145 9,824 10,1005 11,926 12,943 13,801 14,1093 15,1040 16,912 17,867 18,1034 19,1118 20,1100 21,1171 22,965 23,973 24,1004 25,1090 26,1100 27,1027 28,1000 29,1048 30,1050 31,964 32,1097 33,1100 34,919 35,909 36,1144 37,1088 38,1006 39,1025 40,1017 41,1085 42,1103 43,959 44,873 45,1067 46,1158 47,1058 48,1109 49,1062 50,1095 51,1090 52,1123 53,1110 54,990 55,955 56,493 57,896 58,944 59,1053 60,895 61,891 62,1021 63,978 64,1056 65,704 66,780 67,999 68,949 69,1086 70,1046 71,974 72,1139 73,762 74,871 75,1029 76,842 77,1102 78,968 79,1015 80,1021 81,918 82,1094 83,1040 84,1044 85,1119 86,1101 87,1035 88,1145 89,1041 90,1003 91,1111 92,1006 93,908 94,1048 95,1107 96,1017 97,1104 98,1090 99,943 100,1137 101,1134 102,958 103,865 104,1112 105,836 106,1101 107,1111 108,1139 109,978 110,975 111,1043 112,1097 113,1042 114,1063 115,1076 116,928 117,1157 118,1041 119,961 120,1074 121,1072 122,1122 123,1135 124,610 125,1120 126,1020 127,1096 128,1084 129,813 130,1111 131,1048 132,927 133,1006 134,1034 135,1126 136,939 137,1031 138,1149 139,1005 140,1102 141,774 142,1002 143,949 144,1119 145,1116 146,1079 147,1083 148,1093 149,963 150,1058 151,889 152,1126 153,1032 154,1090 155,1047 156,1081 157,1104 158,873 159,1111 160,943 161,979 162,1096 163,1139 164,992 165,936 166,1165 167,991 168,1007 169,997 170,1061 171,1112 172,923 173,1021 174,1106 175,828 176,1122 177,1138 178,745 179,1095 180,1134 181,920 182,1085 183,1054 184,1158 185,903 186,1057 187,1124 188,1074 189,1068 190,972 191,1097 192,1082 193,1043 194,1025 195,943 196,1033 197,906 198,1089 199,1092 200,963 201,888 202,1137 203,952 204,1063 205,868 206,993 207,1023 208,1083 209,1127 210,1143 211,1031 212,939 213,1104 214,1108 215,1111 216,1055 217,1017 218,1059 219,1128 220,762 221,1080 222,840 223,1068 224,1125 225,949 226,1099 227,1077 228,1159 229,1035 230,1085 231,1064 232,977 233,1123 234,1000 235,1089 236,1041 237,953 238,973 239,1113 240,1111 241,995 242,1067 243,1057 244,1090 245,1076 246,718 247,1075 248,840 249,853 250,1131 251,1022 252,1042 253,1143 254,814 255,930 256,1154 257,1035 258,1100 259,1073 260,1116 261,772 262,796 263,979 264,1027 265,1110 266,1103 267,1015 268,1062 269,1118 270,1099 271,1027 272,831 273,998 274,1097 275,1000 276,1160 277,1143 278,1085 279,1137 280,1068 281,1048 282,771 283,1074 284,977 285,976 286,1042 287,962 288,1024 289,1037 290,824 291,1013 292,1129 293,1086 294,1131 295,1069 296,1079 297,1101 298,967 299,990 300,779 301,1129 302,967 303,1094 304,1070 305,1064 306,1128 307,940 308,1122 309,1117 310,934 311,1158 312,1082 313,1145 314,1043 315,963 316,922 317,1009 318,987 319,1155 320,1072 321,933 322,1018 323,1120 324,1024 325,1045 326,1070 327,1132 328,1142 329,970 330,1106 331,1011 332,1058 333,1083 334,1041 335,1060 336,1045 337,977 338,1089 339,1079 340,992 341,1114 342,1057 343,870 344,1053 345,1140 346,1141 347,1102 348,1012 349,1110 350,1030 351,1071 352,983 353,1110 354,838 355,1086 356,1032 357,1136 358,1120 359,1159 360,989 361,807 362,1071 363,1014 364,1101 365,1024 366,1068 367,914 368,1105 369,1037 370,961 371,1010 372,892 373,994 374,1098 375,943 376,1106 377,1047 378,1091 379,1050 380,1024 381,969 382,1040 383,936 384,1119 385,1105 386,983 387,1005 388,983 389,992 390,1107 391,898 392,1047 393,1047 394,1107 395,954 396,1069 397,1134 398,789 399,1163 400,1118 401,921 402,1005 403,1140 404,991 405,713 406,1103 407,982 408,1093 409,835 410,1071 411,1097 412,1039 413,835 414,1140 415,1093 416,822 417,1087 418,1146 419,1097 420,979 421,1074 422,974 423,1025 424,973 425,701 426,1081 427,1057 428,1070 429,1083 430,1055 431,1097 432,1026 433,1122 434,1042 435,1052 436,1075 437,882 438,1029 439,1094 440,925 441,1018 442,1143 443,1152 444,1103 445,1063 446,1095 447,940 448,1155 449,1020 450,1042 451,1105 452,866 453,924 454,1061 455,1086 456,1006 457,1023 458,821 459,1086 460,1058 461,1013 462,994 463,969 464,1095 465,1075 466,931 467,1070 468,933 469,844 470,1125 471,1139 472,1121 473,949 474,1005 475,866 476,1038 477,1042 478,1158 479,1057 480,854 481,918 482,1058 483,1072 484,1125 485,1040 486,1097 487,1099 488,1153 489,789 490,1049 491,1038 492,1169 493,770 494,926 495,1109 496,1092 497,1046 498,983 499,1033 500,914 501,1081 502,904 503,1105 504,1059 505,1052 506,1112 507,802 508,1084 509,1025 510,1073 511,1102 512,948 513,1028 514,900 515,1080 516,1009 517,1163 518,1125 519,1132 520,1071 521,1060 522,1029 523,808 524,978 525,1092 526,848 527,982 528,1080 529,1000 530,1125 531,1117 532,869 533,1050 534,625 535,1116 536,770 537,979 538,1006 539,1130 540,974 541,1138 542,1013 543,958 544,1030 545,1104 546,958 547,1006 548,1115 549,993 550,993 551,807 552,999 553,1131 554,906 555,1086 556,1069 557,1002 558,1030 559,1018 560,840 561,1089 562,894 563,1003 564,1153 565,1129 566,1152 567,1106 568,1135 569,1063 570,969 571,966 572,1116 573,980 574,1062 575,998 576,1045 577,977 578,1034 579,1124 580,1042 581,1140 582,1092 583,1100 584,1021 585,1100 586,621 587,1106 588,1054 589,1153 590,1137 591,1066 592,889 593,982 594,1045 595,1143 596,1011 597,1100 598,1030 599,1071 600,991 601,1110 602,870 603,1156 604,1109 605,1027 606,1110 607,1119 608,1125 609,975 610,962 611,1153 612,1077 613,1147 614,1109 615,863 616,1094 617,915 618,993 619,953 620,1095 621,1132 622,1106 623,910 624,1001 625,1123 626,999 627,1116 628,1071 629,1079 630,1074 631,838 632,989 633,935 634,1116 635,834 636,1077 637,830 638,1087 639,1034 640,1048 641,1167 642,1014 643,1029 644,906 645,896 646,1039 647,1034 648,936 649,877 650,1082 651,1159 652,1026 653,1067 654,1046 655,1091 656,1113 657,815 658,992 659,998 660,1161 661,1085 662,964 663,963 664,874 665,1156 666,1019 667,983 668,1131 669,1127 670,625 671,937 672,1049 673,996 674,994 675,1140 676,1014 677,1017 678,970 679,1107 680,1105 681,1073 682,1106 683,1040 684,1156 685,1065 686,1066 687,1094 688,1070 689,1000 690,1039 691,1056 692,1058 693,1115 694,1083 695,1003 696,1016 697,987 698,1071 699,1006 700,1112 701,1062 702,1025 703,1117 704,951 705,998 706,1062 707,1001 708,1140 709,569 710,1065 711,1085 712,1034 713,1000 714,1114 715,1081 716,1139 717,983 718,1125 719,1068 720,834 721,1000 722,1058 723,1150 724,1163 725,1125 726,1069 727,1074 728,1084 729,900 730,1149 731,838 732,909 733,1105 734,1053 735,1097 736,1080 737,1132 738,966 739,1064 740,1114 741,1118 742,1101 743,957 744,1136 745,917 746,1001 747,1089 748,809 749,1070 750,1112 751,507 752,1120 753,988 754,1037 755,1066 756,1033 757,1064 758,960 759,1062 760,1133 761,1127 762,1083 763,1127 764,1036 765,923 766,1051 767,1089 768,894 769,1066 770,1039 771,918 772,986 773,1124 774,988 775,791 776,953 777,1099 778,951 779,844 780,839 781,814 782,1026 783,1103 784,1134 785,1087 786,1101 787,996 788,946 789,1068 790,1164 791,1139 792,1076 793,1135 794,1026 795,1077 796,962 797,1014 798,1132 799,1025 800,1093 801,908 802,979 803,1006 804,1120 805,986 806,912 807,1003 808,1124 809,1016 810,1054 811,1095 812,1140 813,864 814,917 815,961 816,1040 817,1141 818,1092 819,1047 820,900 821,806 822,1074 823,1133 824,1006 825,1106 826,1149 827,975 828,1093 829,1014 830,981 831,844 832,1031 833,1096 834,1094 835,939 836,1058 837,905 838,1046 839,1105 840,1084 841,1119 842,1033 843,924 844,816 845,1111 846,1062 847,1115 848,922 849,915 850,1114 851,1126 852,1088 853,1121 854,1089 855,1048 856,1079 857,1152 858,1074 859,1010 860,1079 861,1001 862,1033 863,1021 864,996 865,967 866,1076 867,1066 868,949 869,449 870,1020 871,1074 872,986 873,1135 874,1077 875,1153 876,1117 877,1054 878,843 879,1082 880,1095 881,849 882,1041 883,1057 884,1030 885,1096 886,954 887,762 888,1002 889,1037 890,1130 891,1083 892,902 893,972 894,1038 895,1163 896,1108 897,562 898,1072 899,1123 900,911 901,1005 902,1112 903,1122 904,1138 905,976 906,1126 907,1024 908,1111 909,1087 910,1017 911,920 912,1002 913,1070 914,747 915,1082 916,1061 917,1106 918,1029 919,1118 920,1033 921,1015 922,1111 923,1019 924,895 925,1161 926,1131 927,976 928,827 929,1023 930,987 931,1075 932,961 933,929 934,1114 935,907 936,983 937,1108 938,1052 939,921 940,703 941,1095 942,1086 943,1004 944,1098 945,1106 946,1003 947,1085 948,892 949,984 950,1106 951,1140 952,1010 953,877 954,988 955,995 956,834 957,1103 958,1118 959,918 960,938 961,1043 962,1131 963,913 964,1028 965,1074 966,926 967,1029 968,1145 969,1053 970,1074 971,1032 972,1077 973,752 974,955 975,1046 976,1102 977,1071 978,1068 979,920 980,990 981,1155 982,1138 983,1072 984,934 985,1029 986,1138 987,1026 988,981 989,1149 990,995 991,1125 992,1118 993,1051 994,1074 995,1115 996,1036 997,794 998,1054 999,1133"/>
<polyline stroke="#D94801" stroke-width="8.917" transform="translate(251.282,256.1) scale(0.145782)" points="0,915 1,837 2,868 3,1015 4,1047 5,864 6,797 7,761 8,974 9,1008 10,1096 11,828 12,957 13,913 14,806 15,674 16,707 17,1008 18,970 19,836 20,896 21,933 22,791 23,922 24,963 25,770 26,1007 27,834 28,475 29,767 30,1011 31,673 32,1050 33,888 34,825 35,844 36,805 37,879 38,917 39,1015 40,1046 41,955 42,1066 43,1027 44,905 45,870 46,871 47,1023 48,904 49,907 50,603 51,873 52,1096 53,999 54,962 55,616 56,754 57,966 58,1035 59,1009 60,930 61,929 62,918 63,924 64,716 65,1059 66,993 67,684 68,857 69,942 70,894 71,797 72,780 73,1025 74,914 75,820 76,1040 77,758 78,1009 79,1022 80,1009 81,811 82,931 83,981 84,980 85,1035 86,911 87,890 88,1059 89,859 90,914 91,787 92,936 93,937 94,1020 95,764 96,1016 97,927 98,826 99,972 100,698 101,1065 102,867 103,895 104,903 105,820 106,971 107,790 108,877 109,1005 110,856 111,896 112,830 113,954 114,921 115,1020 116,1040 117,1025 118,881 119,939 120,895 121,1063 122,927 123,995 124,855 125,865 126,734 127,1021 128,1071 129,973 130,822 131,1044 132,821 133,600 134,1003 135,1021 136,873 137,789 138,889 139,743 140,1030 141,770 142,1041 143,933 144,1021 145,631 146,1017 147,944 148,1089 149,869 150,1105 151,930 152,827 153,1019 154,820 155,883 156,1072 157,762 158,824 159,1002 160,772 161,915 162,818 163,676 164,749 165,883 166,954 167,986 168,834 169,682 170,1124 171,1002 172,818 173,948 174,628 175,898 176,937 177,886 178,875 179,880 180,848 181,867 182,726 183,891 184,999 185,878 186,811 187,991 188,1004 189,817 190,923 191,742 192,626 193,811 194,826 195,661 196,806 197,844 198,803 199,1003 200,937 201,989 202,889 203,1025 204,963 205,661 206,1115 207,911 208,938 209,949 210,762 211,1119 212,1001 213,1124 214,847 215,902 216,761 217,772 218,862 219,832 220,1062 221,754 222,482 223,904 224,679 225,919 226,705 227,993 228,966 229,885 230,1060 231,943 232,905 233,1035 234,700 235,694 236,917 237,1061 238,787 239,842 240,994 241,1001 242,830 243,1077 244,678 245,655 246,1138 247,967 248,939 249,1002 250,775 251,895 252,830 253,826 254,970 255,959 256,706 257,995 258,827 259,833 260,1003 261,932 262,778 263,806 264,927 265,974 266,885 267,885 268,876 269,1065 270,914 271,785 272,916 273,870 274,918 275,802 276,729 277,963 278,868 279,988 280,1000 281,690 282,639 283,980 284,999 285,908 286,715 287,1097 288,860 289,866 290,923 291,810 292,1086 293,1102 294,968 295,1049 296,763 297,884 298,954 299,849 300,914 301,1019 302,994 303,821 304,886 305,996 306,943 307,870 308,929 309,792 310,853 311,811 312,874 313,962 314,800 315,890 316,911 317,577 318,878 319,752 320,859 321,909 322,991 323,929 324,815 325,1074 326,1115 327,891 328,898 329,773 330,1068 331,864 332,1085 333,948 334,884 335,885 336,848 337,941 338,849 339,1023 340,814 341,900 342,1056 343,737 344,934 345,1082 346,897 347,788 348,807 349,965 350,1042 351,751 352,957 353,870 354,935 355,840 356,840 357,728 358,1056 359,745 360,1046 361,1009 362,839 363,966 364,873 365,856 366,877 367,849 368,822 369,796 370,912 371,753 372,983 373,871 374,892 375,1000 376,777 377,834 378,821 379,833 380,738 381,1080 382,834 383,920 384,992 385,869 386,891 387,955 388,970 389,996 390,921 391,868 392,900 393,846 394,837 395,921 396,817 397,790 398,776 399,853 400,691 401,941 402,811 403,1060 404,909 405,777 406,766 407,677 408,782 409,817 410,1009 411,677 412,815 413,937 414,757 415,998 416,903 417,661 418,911 419,1060 420,856 421,717 422,910 423,839 424,721 425,895 426,1075 427,913 428,871 429,943 430,852 431,742 432,647 433,900 434,918 435,865 436,893 437,887 438,906 439,771 440,974 441,879 442,996 443,1014 444,1055 445,959 446,980 447,838 448,986 449,732 450,789 451,1032 452,953 453,1076 454,1095 455,760 456,1070 457,880 458,871 459,1012 460,849 461,796 462,881 463,840 464,938 465,870 466,874 467,943 468,694 469,638 470,826 471,823 472,920 473,841 474,976 475,1049 476,881 477,669 478,787 479,724 480,960 481,868 482,399 483,864 484,1011 485,894 486,927 487,736 488,910 489,804 490,851 491,914 492,981 493,1006 494,691 495,863 496,904 497,883 498,914 499,856 500,781 501,846 502,748 503,908 504,755 505,905 506,755 507,700 508,1083 509,896 510,896 511,936 512,806 513,1093 514,944 515,836 516,897 517,757 518,870 519,876 520,891 521,804 522,921 523,706 524,825 525,1138 526,1029 527,982 528,543 529,1026 530,806 531,795 532,927 533,875 534,833 535,863 536,849 537,1038 538,1049 539,891 540,817 541,795 542,1047 543,721 544,879 545,839 546,864 547,1061 548,765 549,884 550,926 551,1059 552,1127 553,948 554,796 555,863 556,733 557,665 558,893 559,648 560,963 561,840 562,904 563,856 564,926 565,916 566,761 567,952 568,932 569,1053 570,749 571,799 572,929 573,951 574,955 575,1082 576,1066 577,927 578,924 579,788 580,913 581,769 582,815 583,892 584,1042 585,1075 586,886 587,1012 588,643 589,997 590,984 591,774 592,892 593,755 594,884 595,1047 596,846 597,882 598,988 599,864 600,1017 601,1172 602,1023 603,933 604,1052 605,799 606,876 607,807 608,804 609,849 610,863 611,859 612,855 613,818 614,941 615,952 616,982 617,92 618,773 619,827 620,933 621,1027 622,997 623,931 624,1026 625,851 626,658 627,856 628,942 629,762 630,847 631,849 632,1032 633,818 634,874 635,783 636,1022 637,872 638,829 639,876 640,1030 641,932 642,926 643,762 644,875 645,942 646,931 647,918 648,995 649,1108 650,852 651,943 652,985 653,691 654,863 655,750 656,918 657,930 658,737 659,852 660,929 661,785 662,907 663,912 664,814 665,593 666,1055 667,857 668,663 669,753 670,789 671,791 672,823 673,767 674,866 675,769 676,946 677,952 678,1039 679,1015 680,918 681,907 682,901 683,843 684,844 685,1024 686,873 687,1072 688,944 689,831 690,872 691,700 692,841 693,914 694,973 695,950 696,795 697,1011 698,676 699,912 700,935 701,982 702,958 703,861 704,1059 705,896 706,886 707,850 708,726 709,906 710,933 711,797 712,915 713,938 714,1054 715,813 716,464 717,872 718,1044 719,684 720,746 721,893 722,937 723,961 724,893 725,1061 726,751 727,953 728,685 729,843 730,793 731,825 732,877 733,891 734,955 735,980 736,1075 737,751 738,888 739,928 740,970 741,1022 742,897 743,976 744,818 745,865 746,973 747,982 748,891 749,1038 750,828 751,956 752,1102 753,1028 754,922 755,782 756,935 757,961 758,935 759,775 760,746 761,925 762,1044 763,860 764,893 765,1075 766,364 767,811 768,916 769,908 770,978 771,1054 772,871 773,995 774,1094 775,1083 776,998 777,981 778,922 779,998 780,985 781,957 782,698 783,1062 784,909 785,585 786,1109 787,883 788,827 789,1079 790,1071 791,1085 792,1109 793,800 794,795 795,613 796,847 797,772 798,903 799,870 800,970 801,822 802,852 803,1034 804,773 805,1020 806,901 807,675 808,932 809,924 810,950 811,1032 812,841 813,802 814,885 815,1008 816,1006 817,821 818,1090 819,734 820,795 821,900 822,1019 823,950 824,942 825,974 826,964 827,863 828,944 829,867 830,1062 831,851 832,1019 833,910 834,907 835,970 836,978 837,878 838,1015 839,909 840,677 841,826 842,837 843,849 844,802 845,940 846,900 847,922 848,842 849,827 850,719 851,998 852,682 853,852 854,937 855,1038 856,695 857,970 858,974 859,1008 860,985 861,1105 862,698 863,948 864,849 865,858 866,897 867,889 868,954 869,946 870,881 871,903 872,873 873,871 874,895 875,909 876,1035 877,917 878,802 879,711 880,833 881,975 882,939 883,902 884,761 885,969 886,895 887,844 888,1098 889,989 890,963 891,942 892,811 893,934 894,1073 895,978 896,932 897,828 898,603 899,1136 900,1057 901,827 902,1038 903,1060 904,823 905,1083 906,751 907,777 908,806 909,730 910,1006 911,900 912,907 913,887 914,940 915,982 916,606 917,768 918,890 919,1137 920,923 921,1086 922,909 923,989 924,856 925,785 926,783 927,939 928,902 929,744 930,921 931,841 932,984 933,834 934,799 935,1093 936,977 937,947 938,965 939,1084 940,981 941,963 942,899 943,998 944,960 945,1138 946,1016 947,790 948,854 949,810 950,972 951,1053 952,855 953,891 954,885 955,869 956,687 957,1069 958,915 959,840 960,908 961,1042 962,933 963,700 964,881 965,959 966,704 967,787 968,796 969,780 970,762 971,936 972,822 973,721 974,753 975,913 976,1016 977,1006 978,543 979,713 980,940 981,884 982,789 983,941 984,1015 985,870 986,953 987,912 988,870 989,685 990,852 991,889 992,378 993,940 994,851 995,717 996,584 997,1025 998,730 999,955"/>
<polyline stroke="#8475B5" stroke-width="8.917" transform="translate(251.282,256.1) scale(0.145782)" points="0,1040 1,993 2,789 3,929 4,1107 5,946 6,831 7,1074 8,944 9,1068 10,791 11,970 12,923 13,1061 14,765 15,678 16,1095 17,722 18,1030 19,928 20,983 21,744 22,837 23,866 24,815 25,665 26,912 27,657 28,742 29,1066 30,691 31,806 32,828 33,844 34,985 35,800 36,672 37,905 38,672 39,970 40,1049 41,816 42,856 43,1024 44,898 45,918 46,965 47,955 48,1063 49,966 50,1087 51,1059 52,830 53,912 54,953 55,1002 56,905 57,852 58,464 59,993 60,1075 61,1036 62,921 63,745 64,802 65,974 66,962 67,991 68,912 69,1051 70,982 71,984 72,769 73,827 74,947 75,836 76,916 77,991 78,907 79,1009 80,951 81,1022 82,824 83,909 84,1067 85,762 86,914 87,541 88,866 89,982 90,890 91,923 92,953 93,862 94,1088 95,1155 96,876 97,658 98,1122 99,677 100,813 101,855 102,832 103,825 104,943 105,971 106,974 107,853 108,1014 109,907 110,871 111,742 112,842 113,911 114,695 115,851 116,892 117,1099 118,686 119,884 120,845 121,838 122,1062 123,1022 124,983 125,832 126,820 127,989 128,1123 129,1133 130,833 131,695 132,945 133,848 134,1056 135,993 136,863 137,837 138,839 139,880 140,758 141,952 142,870 143,718 144,851 145,910 146,900 147,886 148,736 149,1015 150,930 151,1010 152,752 153,845 154,718 155,819 156,1020 157,947 158,1081 159,490 160,845 161,971 162,853 163,777 164,837 165,661 166,931 167,984 168,981 169,818 170,888 171,877 172,711 173,827 174,1073 175,965 176,938 177,965 178,731 179,850 180,835 181,927 182,1053 183,975 184,1057 185,869 186,972 187,945 188,1062 189,701 190,771 191,707 192,795 193,858 194,957 195,860 196,938 197,921 198,1012 199,834 200,743 201,975 202,883 203,1054 204,909 205,996 206,940 207,682 208,898 209,1097 210,894 211,989 212,1018 213,761 214,870 215,780 216,934 217,830 218,651 219,901 220,835 221,1001 222,740 223,904 224,941 225,985 226,924 227,678 228,1026 229,992 230,1005 231,780 232,1122 233,745 234,748 235,962 236,941 237,959 238,865 239,847 240,898 241,898 242,753 243,846 244,877 245,957 246,932 247,972 248,896 249,854 250,1108 251,966 252,870 253,976 254,1058 255,804 256,920 257,977 258,867 259,921 260,1029 261,860 262,878 263,913 264,1036 265,853 266,736 267,1027 268,976 269,841 270,950 271,874 272,831 273,919 274,742 275,869 276,962 277,632 278,732 279,873 280,1013 281,1074 282,765 283,1063 284,1089 285,1098 286,1034 287,879 288,1133 289,937 290,910 291,796 292,706 293,930 294,962 295,827 296,881 297,736 298,821 299,1033 300,716 301,710 302,811 303,751 304,670 305,358 306,944 307,888 308,956 309,844 310,971 311,950 312,1000 313,887 314,645 315,962 316,956 317,1029 318,1031 319,623 320,1023 321,1056 322,917 323,1111 324,1032 325,1030 326,833 327,1027 328,904 329,1011 330,908 331,840 332,670 333,931 334,855 335,939 336,854 337,983 338,803 339,699 340,824 341,928 342,905 343,867 344,854 345,833 346,862 347,1040 348,958 349,918 350,651 351,941 352,917 353,975 354,932 355,940 356,965 357,919 358,863 359,914 360,879 361,752 362,997 363,798 364,593 365,932 366,758 367,657 368,756 369,942 370,1091 371,1035 372,955 373,1027 374,1005 375,961 376,864 377,942 378,1001 379,681 380,791 381,1027 382,939 383,828 384,865 385,948 386,1027 387,752 388,973 389,892 390,896 391,897 392,853 393,1087 394,852 395,821 396,972 397,864 398,807 399,974 400,1058 401,1131 402,805 403,985 404,899 405,909 406,710 407,895 408,987 409,950 410,885 411,1053 412,889 413,873 414,747 415,964 416,766 417,986 418,1067 419,914 420,904 421,776 422,1099 423,1054 424,709 425,868 426,663 427,1046 428,682 429,867 430,806 431,724 432,805 433,972 434,1069 435,781 436,845 437,700 438,899 439,1066 440,713 441,975 442,801 443,830 444,699 445,963 446,897 447,952 448,923 449,885 450,993 451,1115 452,914 453,792 454,887 455,871 456,471 457,850 458,1145 459,991 460,915 461,853 462,782 463,839 464,893 465,936 466,601 467,942 468,1089 469,833 470,749 471,851 472,887 473,772 474,1032 475,796 476,1054 477,782 478,996 479,804 480,860 481,1030 482,891 483,799 484,635 485,991 486,820 487,976 488,1027 489,791 490,998 491,859 492,831 493,928 494,876 495,1003 496,909 497,1010 498,1062 499,875 500,615 501,943 502,971 503,989 504,973 505,782 506,994 507,725 508,1122 509,742 510,1010 511,800 512,771 513,822 514,863 515,862 516,736 517,874 518,839 519,917 520,766 521,915 522,725 523,850 524,1081 525,876 526,805 527,905 528,1026 529,867 530,910 531,992 532,828 533,780 534,989 535,912 536,1017 537,749 538,851 539,780 540,930 541,1118 542,831 543,1047 544,1059 545,824 546,872 547,900 548,804 549,1047 550,971 551,1026 552,786 553,1024 554,755 555,912 556,804 557,1012 558,827 559,1013 560,951 561,1059 562,953 563,1058 564,860 565,954 566,1096 567,744 568,733 569,869 570,850 571,769 572,881 573,851 574,1027 575,857 576,868 577,856 578,856 579,700 580,823 581,891 582,1093 583,959 584,822 585,1063 586,1065 587,852 588,956 589,991 590,941 591,514 592,948 593,710 594,967 595,875 596,792 597,966 598,1082 599,985 600,941 601,1053 602,852 603,952 604,720 605,1014 606,881 607,965 608,787 609,1047 610,941 611,984 612,1022 613,908 614,1097 615,848 616,749 617,1006 618,817 619,828 620,1029 621,974 622,1056 623,717 624,878 625,793 626,1173 627,766 628,257 629,889 630,1014 631,813 632,799 633,1070 634,863 635,955 636,1064 637,1076 638,1054 639,786 640,980 641,844 642,722 643,780 644,755 645,894 646,869 647,1075 648,981 649,912 650,921 651,885 652,981 653,923 654,1021 655,1087 656,858 657,792 658,881 659,804 660,848 661,686 662,751 663,585 664,968 665,812 666,782 667,798 668,799 669,802 670,874 671,1007 672,906 673,814 674,865 675,709 676,910 677,654 678,917 679,853 680,982 681,846 682,734 683,911 684,945 685,890 686,657 687,947 688,866 689,1038 690,946 691,770 692,997 693,734 694,804 695,692 696,624 697,883 698,968 699,585 700,956 701,1011 702,955 703,892 704,787 705,984 706,655 707,1016 708,1013 709,738 710,969 711,786 712,835 713,1122 714,703 715,953 716,802 717,890 718,801 719,964 720,1016 721,814 722,1129 723,985 724,750 725,942 726,1072 727,965 728,900 729,975 730,982 731,810 732,830 733,767 734,801 735,770 736,738 737,799 738,930 739,845 740,900 741,884 742,949 743,883 744,1061 745,947 746,882 747,1076 748,839 749,809 750,969 751,877 752,808 753,793 754,950 755,697 756,775 757,808 758,1002 759,681 760,790 761,956 762,926 763,993 764,1097 765,696 766,958 767,859 768,925 769,1033 770,645 771,954 772,932 773,902 774,928 775,833 776,788 777,1068 778,691 779,947 780,745 781,1117 782,856 783,848 784,854 785,1014 786,1106 787,871 788,1011 789,923 790,947 791,826 792,818 793,1082 794,822 795,986 796,771 797,955 798,949 799,824 800,1005 801,865 802,906 803,1031 804,810 805,1131 806,1061 807,725 808,1022 809,929 810,774 811,830 812,1009 813,911 814,901 815,964 816,765 817,769 818,912 819,1051 820,938 821,978 822,832 823,702 824,1002 825,345 826,917 827,1072 828,782 829,1009 830,1072 831,979 832,888 833,710 834,969 835,922 836,902 837,899 838,896 839,874 840,908 841,880 842,794 843,795 844,914 845,883 846,994 847,1023 848,591 849,507 850,802 851,1172 852,726 853,1007 854,921 855,1033 856,917 857,656 858,824 859,794 860,794 861,721 862,1013 863,844 864,995 865,844 866,894 867,738 868,982 869,916 870,818 871,995 872,932 873,867 874,910 875,914 876,1114 877,1098 878,783 879,751 880,733 881,813 882,887 883,897 884,1062 885,852 886,777 887,1020 888,904 889,911 890,1002 891,858 892,842 893,1067 894,805 895,855 896,916 897,734 898,901 899,920 900,910 901,841 902,874 903,735 904,834 905,978 906,767 907,795 908,663 909,1023 910,1097 911,882 912,1123 913,929 914,862 915,903 916,765 917,1036 918,868 919,816 920,978 921,905 922,992 923,1124 924,976 925,876 926,939 927,822 928,720 929,892 930,829 931,895 932,1049 933,797 934,856 935,896 936,781 937,858 938,915 939,978 940,1084 941,808 942,947 943,919 944,688 945,793 946,1096 947,882 948,710 949,1024 950,989 951,917 952,771 953,798 954,766 955,801 956,606 957,822 958,1008 959,910 960,1139 961,994 962,883 963,706 964,827 965,624 966,990 967,1053 968,1064 969,908 970,981 971,994 972,863 973,868 974,684 975,790 976,805 977,882 978,1066 979,744 980,900 981,939 982,1080 983,914 984,952 985,1095 986,798 987,1015 988,1073 989,681 990,1008 991,777 992,960 993,1079 994,1050 995,950 996,741 997,884 998,833 999,957"/>
<polyline stroke="#45157E" stroke-width="8.917" transform="translate(251.282,256.1) scale(0.145782)" points="0,927 1,819 2,921 3,917 4,793 5,966 6,1009 7,905 8,704 9,916 10,932 11,852 12,959 13,719 14,939 15,821 16,1066 17,1065 18,1042 19,724 20,744 21,705 22,839 23,854 24,777 25,824 26,906 27,886 28,990 29,676 30,862 31,1097 32,1034 33,1039 34,1012 35,987 36,755 37,825 38,984 39,863 40,899 41,961 42,937 43,989 44,980 45,861 46,861 47,965 48,646 49,902 50,823 51,907 52,1017 53,855 54,901 55,930 56,1015 57,885 58,935 59,854 60,902 61,809 62,1071 63,889 64,999 65,952 66,1031 67,662 68,804 69,826 70,916 71,894 72,883 73,952 74,987 75,875 76,853 77,878 78,938 79,963 80,977 81,940 82,941 83,906 84,827 85,863 86,864 87,955 88,897 89,963 90,968 91,814 92,1118 93,817 94,951 95,963 96,970 97,883 98,844 99,972 100,775 101,827 102,899 103,934 104,948 105,797 106,746 107,961 108,974 109,1122 110,735 111,883 112,950 113,987 114,871 115,884 116,788 117,752 118,917 119,440 120,876 121,645 122,905 123,744 124,949 125,792 126,962 127,946 128,901 129,726 130,265 131,892 132,969 133,780 134,1047 135,845 136,851 137,853 138,720 139,253 140,965 141,832 142,1076 143,788 144,870 145,1031 146,853 147,774 148,766 149,1029 150,882 151,850 152,912 153,862 154,1071 155,909 156,873 157,922 158,840 159,918 160,876 161,809 162,610 163,759 164,845 165,791 166,990 167,858 168,844 169,773 170,972 171,718 172,767 173,837 174,676 175,558 176,904 177,824 178,1070 179,904 180,941 181,774 182,813 183,853 184,987 185,800 186,858 187,665 188,926 189,687 190,851 191,897 192,1098 193,989 194,707 195,753 196,798 197,945 198,995 199,957 200,967 201,967 202,764 203,762 204,1014 205,783 206,789 207,903 208,1044 209,790 210,817 211,1083 212,683 213,932 214,1000 215,1081 216,1000 217,860 218,879 219,808 220,880 221,811 222,951 223,1033 224,1028 225,1048 226,1013 227,1055 228,910 229,852 230,814 231,721 232,616 233,570 234,885 235,833 236,905 237,918 238,993 239,720 240,764 241,869 242,776 243,1044 244,874 245,913 246,881 247,883 248,873 249,752 250,742 251,800 252,952 253,870 254,902 255,782 256,780 257,956 258,683 259,780 260,887 261,967 262,1002 263,650 264,838 265,832 266,817 267,984 268,1110 269,894 270,844 271,942 272,1020 273,860 274,669 275,957 276,1115 277,735 278,791 279,902 280,947 281,789 282,816 283,1042 284,982 285,734 286,839 287,905 288,562 289,836 290,802 291,774 292,627 293,1004 294,917 295,825 296,900 297,938 298,980 299,825 300,853 301,832 302,983 303,818 304,938 305,911 306,812 307,982 308,1107 309,919 310,966 311,813 312,932 313,837 314,743 315,1066 316,482 317,928 318,933 319,844 320,733 321,1025 322,985 323,742 324,762 325,756 326,798 327,845 328,780 329,782 330,968 331,963 332,967 333,834 334,859 335,1081 336,1110 337,983 338,989 339,819 340,752 341,937 342,536 343,863 344,753 345,909 346,836 347,909 348,841 349,841 350,995 351,986 352,841 353,1119 354,959 355,1021 356,723 357,762 358,1149 359,838 360,1063 361,1048 362,992 363,1095 364,984 365,758 366,936 367,974 368,1001 369,952 370,723 371,612 372,787 373,1092 374,578 375,947 376,875 377,771 378,1116 379,989 380,737 381,814 382,920 383,846 384,1075 385,806 386,816 387,862 388,727 389,835 390,1059 391,814 392,835 393,840 394,917 395,622 396,1113 397,1037 398,658 399,808 400,1037 401,931 402,930 403,687 404,956 405,1055 406,907 407,983 408,662 409,945 410,954 411,804 412,802 413,894 414,863 415,862 416,1130 417,666 418,723 419,955 420,763 421,895 422,845 423,1135 424,837 425,881 426,729 427,742 428,710 429,976 430,707 431,986 432,881 433,833 434,762 435,719 436,619 437,867 438,876 439,830 440,966 441,873 442,825 443,1008 444,907 445,864 446,746 447,863 448,1036 449,1031 450,923 451,864 452,872 453,845 454,1001 455,893 456,964 457,997 458,835 459,800 460,858 461,795 462,901 463,909 464,998 465,949 466,939 467,793 468,813 469,917 470,748 471,883 472,761 473,981 474,986 475,914 476,805 477,925 478,969 479,771 480,896 481,884 482,957 483,846 484,968 485,802 486,1009 487,868 488,899 489,795 490,963 491,807 492,1090 493,740 494,864 495,913 496,957 497,938 498,928 499,870 500,1075 501,708 502,795 503,838 504,808 505,924 506,992 507,825 508,919 509,768 510,986 511,625 512,878 513,924 514,974 515,944 516,853 517,1048 518,755 519,872 520,819 521,1086 522,905 523,863 524,863 525,1080 526,951 527,1047 528,912 529,1009 530,949 531,1056 532,667 533,1002 534,827 535,937 536,913 537,732 538,613 539,440 540,739 541,851 542,722 543,796 544,941 545,905 546,733 547,823 548,793 549,930 550,939 551,858 552,786 553,717 554,813 555,921 556,957 557,710 558,1013 559,895 560,901 561,834 562,839 563,854 564,822 565,1042 566,1068 567,717 568,907 569,926 570,920 571,921 572,898 573,689 574,850 575,972 576,831 577,842 578,880 579,926 580,1076 581,780 582,659 583,915 584,779 585,937 586,883 587,1038 588,847 589,864 590,942 591,863 592,778 593,802 594,922 595,1009 596,867 597,793 598,959 599,867 600,914 601,877 602,833 603,1053 604,877 605,1105 606,934 607,968 608,1010 609,858 610,726 611,1078 612,933 613,786 614,883 615,891 616,991 617,895 618,878 619,1016 620,956 621,794 622,1057 623,711 624,964 625,835 626,782 627,821 628,963 629,890 630,1095 631,1121 632,907 633,894 634,905 635,836 636,828 637,857 638,930 639,868 640,901 641,906 642,676 643,744 644,929 645,781 646,951 647,1065 648,943 649,1100 650,816 651,919 652,911 653,786 654,1022 655,698 656,941 657,742 658,817 659,921 660,719 661,898 662,1029 663,938 664,974 665,965 666,1013 667,840 668,816 669,1072 670,891 671,973 672,720 673,1012 674,892 675,954 676,955 677,803 678,778 679,885 680,886 681,768 682,1137 683,814 684,840 685,903 686,649 687,737 688,587 689,847 690,891 691,850 692,780 693,868 694,875 695,978 696,942 697,860 698,1000 699,986 700,847 701,933 702,1044 703,711 704,791 705,945 706,679 707,803 708,983 709,986 710,748 711,669 712,1054 713,816 714,788 715,964 716,894 717,960 718,906 719,885 720,792 721,906 722,601 723,942 724,865 725,970 726,699 727,717 728,928 729,897 730,953 731,971 732,671 733,789 734,698 735,655 736,859 737,1041 738,881 739,702 740,931 741,924 742,792 743,965 744,954 745,943 746,833 747,996 748,719 749,732 750,836 751,931 752,718 753,729 754,1000 755,932 756,823 757,1123 758,929 759,978 760,947 761,892 762,873 763,994 764,911 765,1034 766,827 767,772 768,884 769,1020 770,810 771,968 772,964 773,890 774,935 775,952 776,972 777,765 778,895 779,616 780,834 781,867 782,1093 783,1124 784,965 785,916 786,814 787,960 788,852 789,838 790,759 791,938 792,824 793,873 794,868 795,913 796,782 797,954 798,941 799,989 800,898 801,915 802,991 803,998 804,806 805,941 806,952 807,873 808,841 809,671 810,987 811,865 812,1035 813,1107 814,804 815,852 816,779 817,1097 818,871 819,878 820,827 821,853 822,804 823,805 824,815 825,981 826,619 827,1135 828,772 829,857 830,959 831,991 832,1078 833,969 834,868 835,803 836,901 837,800 838,851 839,888 840,758 841,856 842,658 843,793 844,734 845,967 846,769 847,897 848,1013 849,815 850,1036 851,767 852,777 853,1005 854,1067 855,888 856,535 857,1012 858,811 859,1001 860,1054 861,1054 862,779 863,911 864,950 865,941 866,730 867,658 868,835 869,655 870,1016 871,748 872,889 873,858 874,901 875,966 876,780 877,891 878,817 879,786 880,917 881,920 882,929 883,784 884,839 885,865 886,840 887,784 888,1008 889,714 890,911 891,843 892,701 893,847 894,868 895,755 896,872 897,1059 898,789 899,900 900,1030 901,691 902,1101 903,782 904,966 905,705 906,841 907,991 908,974 909,812 910,1061 911,812 912,1047 913,828 914,966 915,913 916,965 917,1021 918,727 919,772 920,1070 921,770 922,677 923,850 924,808 925,760 926,1001 927,871 928,808 929,948 930,815 931,749 932,922 933,889 934,980 935,1027 936,1075 937,1074 938,911 939,753 940,1007 941,913 942,894 943,1028 944,967 945,864 946,973 947,847 948,819 949,867 950,1133 951,834 952,889 953,847 954,1070 955,818 956,858 957,826 958,828 959,810 960,888 961,915 962,873 963,838 964,875 965,984 966,955 967,891 968,748 969,815 970,903 971,922 972,1095 973,915 974,796 975,1068 976,1051 977,957 978,984 979,971 980,1060 981,929 982,670 983,1081 984,755 985,1105 986,853 987,1134 988,871 989,866 990,933 991,933 992,679 993,919 994,1063 995,839 996,658 997,990 998,926 999,716"/>
<polyline stroke="#EE9433" stroke-width="8.917" transform="translate(251.282,256.1) scale(0.145782)" points="0,633 1,780 2,1017 3,961 4,857 5,899 6,830 7,761 8,871 9,840 10,941 11,735 12,846 13,1030 14,904 15,828 16,692 17,950 18,941 19,898 20,837 21,750 22,875 23,947 24,845 25,865 26,902 27,903 28,746 29,774 30,1090 31,927 32,968 33,794 34,727 35,735 36,995 37,847 38,973 39,780 40,842 41,1119 42,855 43,711 44,913 45,915 46,998 47,968 48,939 49,895 50,1002 51,876 52,1005 53,760 54,791 55,802 56,894 57,780 58,967 59,951 60,1047 61,848 62,953 63,868 64,875 65,1014 66,1054 67,1109 68,1050 69,837 70,832 71,876 72,984 73,912 74,1064 75,874 76,779 77,749 78,894 79,1042 80,865 81,801 82,789 83,681 84,966 85,956 86,1035 87,766 88,980 89,706 90,986 91,793 92,742 93,1022 94,825 95,671 96,715 97,976 98,943 99,976 100,892 101,689 102,911 103,949 104,799 105,922 106,963 107,752 108,814 109,776 110,1056 111,811 112,791 113,992 114,919 115,716 116,1005 117,916 118,911 119,809 120,941 121,884 122,780 123,914 124,764 125,869 126,897 127,888 128,933 129,762 130,809 131,873 132,1039 133,646 134,862 135,899 136,947 137,899 138,1056 139,1110 140,981 141,1050 142,1103 143,908 144,778 145,976 146,865 147,972 148,946 149,743 150,870 151,790 152,1018 153,876 154,931 155,823 156,863 157,913 158,949 159,802 160,784 161,924 162,804 163,891 164,996 165,807 166,895 167,892 168,920 169,983 170,716 171,962 172,961 173,823 174,902 175,1010 176,979 177,991 178,996 179,1005 180,1006 181,719 182,750 183,959 184,731 185,822 186,821 187,821 188,880 189,923 190,849 191,900 192,936 193,918 194,830 195,683 196,794 197,785 198,919 199,856 200,951 201,765 202,1169 203,1068 204,478 205,884 206,823 207,998 208,979 209,1075 210,913 211,773 212,866 213,871 214,980 215,929 216,947 217,778 218,782 219,712 220,978 221,805 222,1025 223,876 224,754 225,992 226,899 227,852 228,896 229,893 230,678 231,998 232,954 233,839 234,809 235,775 236,971 237,759 238,788 239,923 240,929 241,880 242,832 243,922 244,817 245,932 246,818 247,1098 248,1145 249,901 250,383 251,937 252,961 253,826 254,861 255,914 256,941 257,938 258,860 259,536 260,866 261,942 262,980 263,876 264,992 265,978 266,911 267,885 268,768 269,728 270,806 271,1041 272,1010 273,698 274,728 275,910 276,1068 277,877 278,821 279,890 280,883 281,688 282,924 283,790 284,812 285,858 286,967 287,961 288,990 289,1016 290,689 291,1051 292,956 293,940 294,1024 295,887 296,818 297,980 298,926 299,804 300,876 301,1096 302,939 303,1035 304,1060 305,909 306,851 307,956 308,888 309,948 310,817 311,857 312,1092 313,1089 314,813 315,908 316,902 317,918 318,795 319,606 320,989 321,809 322,814 323,866 324,1075 325,827 326,896 327,691 328,974 329,996 330,979 331,852 332,915 333,904 334,997 335,809 336,902 337,853 338,898 339,1027 340,885 341,1041 342,802 343,835 344,937 345,919 346,844 347,920 348,1067 349,947 350,1076 351,1000 352,1114 353,990 354,922 355,868 356,856 357,870 358,708 359,888 360,816 361,836 362,712 363,788 364,842 365,849 366,943 367,762 368,729 369,809 370,944 371,907 372,769 373,744 374,1133 375,1172 376,808 377,996 378,829 379,988 380,990 381,841 382,729 383,855 384,584 385,887 386,962 387,802 388,826 389,756 390,702 391,950 392,1033 393,1068 394,1071 395,789 396,994 397,792 398,871 399,853 400,819 401,902 402,800 403,896 404,861 405,872 406,791 407,829 408,951 409,802 410,716 411,811 412,902 413,909 414,891 415,1074 416,619 417,732 418,890 419,868 420,986 421,807 422,909 423,993 424,903 425,803 426,778 427,916 428,1138 429,837 430,986 431,951 432,918 433,711 434,731 435,871 436,558 437,868 438,966 439,762 440,899 441,806 442,824 443,760 444,899 445,895 446,1027 447,1089 448,985 449,1008 450,1124 451,1062 452,697 453,547 454,838 455,1045 456,876 457,865 458,943 459,799 460,940 461,988 462,781 463,895 464,826 465,872 466,840 467,839 468,1054 469,920 470,854 471,974 472,793 473,951 474,868 475,1070 476,945 477,750 478,930 479,837 480,1018 481,891 482,864 483,894 484,974 485,665 486,841 487,748 488,750 489,1013 490,777 491,963 492,943 493,806 494,825 495,885 496,904 497,906 498,940 499,1015 500,946 501,904 502,990 503,853 504,977 505,833 506,870 507,961 508,679 509,853 510,805 511,1039 512,969 513,923 514,896 515,997 516,844 517,867 518,959 519,924 520,857 521,900 522,902 523,928 524,932 525,891 526,761 527,925 528,841 529,1099 530,749 531,891 532,746 533,782 534,929 535,839 536,1098 537,865 538,839 539,852 540,871 541,886 542,760 543,932 544,801 545,912 546,929 547,1020 548,773 549,941 550,973 551,960 552,871 553,1030 554,747 555,1041 556,514 557,1036 558,757 559,1001 560,957 561,951 562,976 563,888 564,890 565,809 566,970 567,977 568,1083 569,906 570,759 571,930 572,925 573,963 574,942 575,714 576,778 577,1088 578,801 579,831 580,713 581,918 582,990 583,732 584,928 585,910 586,847 587,962 588,983 589,1017 590,798 591,1124 592,953 593,838 594,996 595,992 596,949 597,990 598,686 599,861 600,910 601,901 602,928 603,943 604,661 605,898 606,815 607,891 608,1075 609,942 610,1067 611,849 612,976 613,1079 614,900 615,867 616,955 617,802 618,910 619,839 620,890 621,906 622,1006 623,705 624,848 625,1046 626,675 627,982 628,910 629,902 630,829 631,913 632,956 633,827 634,1020 635,967 636,983 637,499 638,878 639,985 640,833 641,1049 642,858 643,744 644,991 645,918 646,1005 647,714 648,1014 649,1053 650,1062 651,1040 652,917 653,1049 654,841 655,881 656,995 657,983 658,912 659,899 660,747 661,842 662,621 663,818 664,728 665,998 666,935 667,823 668,934 669,919 670,949 671,870 672,717 673,897 674,985 675,756 676,1009 677,751 678,768 679,831 680,1003 681,853 682,894 683,989 684,794 685,947 686,882 687,1075 688,805 689,883 690,853 691,915 692,869 693,972 694,1060 695,922 696,921 697,938 698,973 699,1087 700,914 701,921 702,925 703,889 704,829 705,754 706,925 707,922 708,727 709,909 710,864 711,923 712,798 713,1137 714,835 715,801 716,744 717,1045 718,884 719,925 720,873 721,855 722,811 723,769 724,881 725,870 726,1019 727,943 728,738 729,767 730,889 731,925 732,56 733,905 734,1161 735,829 736,889 737,674 738,1078 739,738 740,1080 741,930 742,895 743,866 744,932 745,787 746,964 747,964 748,982 749,493 750,835 751,895 752,912 753,742 754,1000 755,1028 756,868 757,834 758,1124 759,906 760,871 761,863 762,936 763,782 764,629 765,952 766,798 767,838 768,942 769,768 770,1031 771,903 772,794 773,982 774,961 775,841 776,990 777,1009 778,759 779,916 780,673 781,835 782,966 783,971 784,939 785,977 786,848 787,955 788,854 789,1074 790,746 791,927 792,901 793,837 794,861 795,833 796,1012 797,1115 798,637 799,885 800,1047 801,839 802,1042 803,869 804,1027 805,853 806,799 807,962 808,901 809,972 810,1099 811,900 812,856 813,843 814,916 815,1089 816,1030 817,918 818,749 819,944 820,801 821,933 822,753 823,924 824,990 825,1011 826,861 827,763 828,952 829,990 830,421 831,846 832,657 833,917 834,1128 835,1039 836,978 837,754 838,952 839,869 840,983 841,849 842,990 843,1018 844,1055 845,879 846,921 847,857 848,923 849,883 850,979 851,953 852,769 853,892 854,861 855,863 856,1004 857,1098 858,1036 859,879 860,921 861,796 862,976 863,790 864,971 865,874 866,995 867,849 868,895 869,1008 870,895 871,600 872,896 873,973 874,1005 875,847 876,947 877,926 878,1106 879,836 880,695 881,696 882,858 883,873 884,1085 885,970 886,961 887,901 888,902 889,888 890,693 891,692 892,941 893,991 894,923 895,749 896,788 897,781 898,885 899,892 900,973 901,763 902,440 903,901 904,832 905,907 906,992 907,1058 908,913 909,915 910,989 911,814 912,813 913,798 914,1025 915,809 916,943 917,802 918,1090 919,1136 920,1003 921,879 922,856 923,848 924,836 925,900 926,987 927,829 928,814 929,886 930,250 931,955 932,1119 933,845 934,1110 935,888 936,989 937,888 938,889 939,844 940,815 941,879 942,936 943,987 944,1011 945,907 946,1039 947,799 948,933 949,762 950,922 951,830 952,956 953,1026 954,1037 955,909 956,859 957,1038 958,780 959,740 960,762 961,656 962,818 963,828 964,689 965,921 966,1022 967,806 968,877 969,1041 970,882 971,1027 972,639 973,1014 974,911 975,653 976,920 977,825 978,880 979,883 980,956 981,777 982,879 983,970 984,1094 985,868 986,781 987,798 988,959 989,877 990,913 991,844 992,934 993,1109 994,839 995,1016 996,875 997,748 998,814 999,969"/>
<text x="134.00" y="22.65" font-size="11.73" font-weight="bold" fill="#000" text-anchor="middle">coefs[1]</text>
<line x1="50.20" x2="53.90" y1="35.00" y2="35.00" stroke="#222" stroke-width="1.3"/>
<text x="47.30" y="39.50" font-size="11.73" fill="#4d4d4d" text-anchor="end">1.0</text>
<line x1="50.20" x2="53.90" y1="75.70" y2="75.70" stroke="#222" stroke-width="1.3"/>
<text x="47.30" y="80.20" font-size="11.73" fill="#4d4d4d" text-anchor="end">0.5</text>
<line x1="50.20" x2="53.90" y1="116.40" y2="116.40" stroke="#222" stroke-width="1.3"/>
<text x="47.30" y="120.90" font-size="11.73" fill="#4d4d4d" text-anchor="end">0.0</text>
<line x1="50.20" x2="53.90" y1="157.10" y2="157.10" stroke="#222" stroke-width="1.3"/>
<text x="47.30" y="161.60" font-size="11.73" fill="#4d4d4d" text-anchor="end">-0.5</text>
<line x1="50.20" x2="53.90" y1="197.80" y2="197.80" stroke="#222" stroke-width="1.3"/>
<text x="47.30" y="202.30" font-size="11.73" fill="#4d4d4d" text-anchor="end">-1.0</text>
<line x1="61.04" x2="61.04" y1="208.80" y2="212.50" stroke="#222" stroke-width="1.3"/>
<text x="61.04" y="224.70" font-size="11.73" fill="#4d4d4d" text-anchor="middle">1000</text>
<line x1="97.48" x2="97.48" y1="208.80" y2="212.50" stroke="#222" stroke-width="1.3"/>
<text x="97.48" y="224.70" font-size="11.73" fill="#4d4d4d" text-anchor="middle">1250</text>
<line x1="133.93" x2="133.93" y1="208.80" y2="212.50" stroke="#222" stroke-width="1.3"/>
<text x="133.93" y="224.70" font-size="11.73" fill="#4d4d4d" text-anchor="middle">1500</text>
<line x1="170.37" x2="170.37" y1="208.80" y2="212.50" stroke="#222" stroke-width="1.3"/>
<text x="170.37" y="224.70" font-size="11.73" fill="#4d4d4d" text-anchor="middle">1750</text>
<line x1="206.82" x2="206.82" y1="208.80" y2="212.50" stroke="#222" stroke-width="1.3"/>
<text x="206.82" y="224.70" font-size="11.73" fill="#4d4d4d" text-anchor="middle">2000</text>
<line x1="53.90" x2="53.90" y1="29.90" y2="208.80" stroke="#000" stroke-width="1.5"/>
<line x1="53.80" x2="214.10" y1="208.95" y2="208.95" stroke="#000" stroke-width="2.4"/>
<text x="324.10" y="22.65" font-size="11.73" font-weight="bold" fill="#000" text-anchor="middle">coefs[2]</text>
<line x1="240.30" x2="244.00" y1="77.40" y2="77.40" stroke="#222" stroke-width="1.3"/>
<text x="237.40" y="81.90" font-size="11.73" fill="#4d4d4d" text-anchor="end">0</text>
<line x1="240.30" x2="244.00" y1="129.60" y2="129.60" stroke="#222" stroke-width="1.3"/>
<text x="237.40" y="134.10" font-size="11.73" fill="#4d4d4d" text-anchor="end">-1</text>
<line x1="240.30" x2="244.00" y1="181.80" y2="181.80" stroke="#222" stroke-width="1.3"/>
<text x="237.40" y="186.30" font-size="11.73" fill="#4d4d4d" text-anchor="end">-2</text>
<line x1="251.14" x2="251.14" y1="208.80" y2="212.50" stroke="#222" stroke-width="1.3"/>
<text x="251.14" y="224.70" font-size="11.73" fill="#4d4d4d" text-anchor="middle">1000</text>
<line x1="287.58" x2="287.58" y1="208.80" y2="212.50" stroke="#222" stroke-width="1.3"/>
<text x="287.58" y="224.70" font-size="11.73" fill="#4d4d4d" text-anchor="middle">1250</text>
<line x1="324.03" x2="324.03" y1="208.80" y2="212.50" stroke="#222" stroke-width="1.3"/>
<text x="324.03" y="224.70" font-size="11.73" fill="#4d4d4d" text-anchor="middle">1500</text>
<line x1="360.47" x2="360.47" y1="208.80" y2="212.50" stroke="#222" stroke-width="1.3"/>
<text x="360.47" y="224.70" font-size="11.73" fill="#4d4d4d" text-anchor="middle">1750</text>
<line x1="396.92" x2="396.92" y1="208.80" y2="212.50" stroke="#222" stroke-width="1.3"/>
<text x="396.92" y="224.70" font-size="11.73" fill="#4d4d4d" text-anchor="middle">2000</text>
<line x1="244.00" x2="244.00" y1="29.90" y2="208.80" stroke="#000" stroke-width="1.5"/>
<line x1="243.90" x2="404.20" y1="208.95" y2="208.95" stroke="#000" stroke-width="2.4"/>
<text x="518.40" y="22.65" font-size="11.73" font-weight="bold" fill="#000" text-anchor="middle">coefs[3]</text>
<line x1="434.60" x2="438.30" y1="31.80" y2="31.80" stroke="#222" stroke-width="1.3"/>
<text x="431.70" y="36.30" font-size="11.73" fill="#4d4d4d" text-anchor="end">1.5</text>
<line x1="434.60" x2="438.30" y1="68.20" y2="68.20" stroke="#222" stroke-width="1.3"/>
<text x="431.70" y="72.70" font-size="11.73" fill="#4d4d4d" text-anchor="end">1.0</text>
<line x1="434.60" x2="438.30" y1="104.60" y2="104.60" stroke="#222" stroke-width="1.3"/>
<text x="431.70" y="109.10" font-size="11.73" fill="#4d4d4d" text-anchor="end">0.5</text>
<line x1="434.60" x2="438.30" y1="141.00" y2="141.00" stroke="#222" stroke-width="1.3"/>
<text x="431.70" y="145.50" font-size="11.73" fill="#4d4d4d" text-anchor="end">0.0</text>
<line x1="434.60" x2="438.30" y1="177.40" y2="177.40" stroke="#222" stroke-width="1.3"/>
<text x="431.70" y="181.90" font-size="11.73" fill="#4d4d4d" text-anchor="end">-0.5</text>
<line x1="445.44" x2="445.44" y1="208.80" y2="212.50" stroke="#222" stroke-width="1.3"/>
<text x="445.44" y="224.70" font-size="11.73" fill="#4d4d4d" text-anchor="middle">1000</text>
<line x1="481.88" x2="481.88" y1="208.80" y2="212.50" stroke="#222" stroke-width="1.3"/>
<text x="481.88" y="224.70" font-size="11.73" fill="#4d4d4d" text-anchor="middle">1250</text>
<line x1="518.33" x2="518.33" y1="208.80" y2="212.50" stroke="#222" stroke-width="1.3"/>
<text x="518.33" y="224.70" font-size="11.73" fill="#4d4d4d" text-anchor="middle">1500</text>
<line x1="554.77" x2="554.77" y1="208.80" y2="212.50" stroke="#222" stroke-width="1.3"/>
<text x="554.77" y="224.70" font-size="11.73" fill="#4d4d4d" text-anchor="middle">1750</text>
<line x1="591.22" x2="591.22" y1="208.80" y2="212.50" stroke="#222" stroke-width="1.3"/>
<text x="591.22" y="224.70" font-size="11.73" fill="#4d4d4d" text-anchor="middle">2000</text>
<line x1="438.30" x2="438.30" y1="29.90" y2="208.80" stroke="#000" stroke-width="1.5"/>
<line x1="438.20" x2="598.50" y1="208.95" y2="208.95" stroke="#000" stroke-width="2.4"/>
<text x="134.00" y="250.00" font-size="11.73" font-weight="bold" fill="#000" text-anchor="middle">tau</text>
<line x1="50.20" x2="53.90" y1="427.60" y2="427.60" stroke="#222" stroke-width="1.3"/>
<text x="47.30" y="432.10" font-size="11.73" fill="#4d4d4d" text-anchor="end">0</text>
<line x1="50.20" x2="53.90" y1="378.60" y2="378.60" stroke="#222" stroke-width="1.3"/>
<text x="47.30" y="383.10" font-size="11.73" fill="#4d4d4d" text-anchor="end">2</text>
<line x1="50.20" x2="53.90" y1="329.60" y2="329.60" stroke="#222" stroke-width="1.3"/>
<text x="47.30" y="334.10" font-size="11.73" fill="#4d4d4d" text-anchor="end">4</text>
<line x1="50.20" x2="53.90" y1="280.60" y2="280.60" stroke="#222" stroke-width="1.3"/>
<text x="47.30" y="285.10" font-size="11.73" fill="#4d4d4d" text-anchor="end">6</text>
<line x1="61.04" x2="61.04" y1="435.30" y2="439.00" stroke="#222" stroke-width="1.3"/>
<text x="61.04" y="451.20" font-size="11.73" fill="#4d4d4d" text-anchor="middle">1000</text>
<line x1="97.48" x2="97.48" y1="435.30" y2="439.00" stroke="#222" stroke-width="1.3"/>
<text x="97.48" y="451.20" font-size="11.73" fill="#4d4d4d" text-anchor="middle">1250</text>
<line x1="133.93" x2="133.93" y1="435.30" y2="439.00" stroke="#222" stroke-width="1.3"/>
<text x="133.93" y="451.20" font-size="11.73" fill="#4d4d4d" text-anchor="middle">1500</text>
<line x1="170.37" x2="170.37" y1="435.30" y2="439.00" stroke="#222" stroke-width="1.3"/>
<text x="170.37" y="451.20" font-size="11.73" fill="#4d4d4d" text-anchor="middle">1750</text>
<line x1="206.82" x2="206.82" y1="435.30" y2="439.00" stroke="#222" stroke-width="1.3"/>
<text x="206.82" y="451.20" font-size="11.73" fill="#4d4d4d" text-anchor="middle">2000</text>
<line x1="53.90" x2="53.90" y1="256.10" y2="435.30" stroke="#000" stroke-width="1.5"/>
<line x1="53.80" x2="214.10" y1="435.45" y2="435.45" stroke="#000" stroke-width="2.4"/>
<text x="324.10" y="250.00" font-size="11.73" font-weight="bold" fill="#000" text-anchor="middle">sigma</text>
<line x1="240.30" x2="244.00" y1="417.80" y2="417.80" stroke="#222" stroke-width="1.3"/>
<text x="237.40" y="422.30" font-size="11.73" fill="#4d4d4d" text-anchor="end">0.5</text>
<line x1="240.30" x2="244.00" y1="364.35" y2="364.35" stroke="#222" stroke-width="1.3"/>
<text x="237.40" y="368.85" font-size="11.73" fill="#4d4d4d" text-anchor="end">1.0</text>
<line x1="240.30" x2="244.00" y1="310.90" y2="310.90" stroke="#222" stroke-width="1.3"/>
<text x="237.40" y="315.40" font-size="11.73" fill="#4d4d4d" text-anchor="end">1.5</text>
<line x1="240.30" x2="244.00" y1="257.45" y2="257.45" stroke="#222" stroke-width="1.3"/>
<text x="237.40" y="261.95" font-size="11.73" fill="#4d4d4d" text-anchor="end">2.0</text>
<line x1="251.14" x2="251.14" y1="435.30" y2="439.00" stroke="#222" stroke-width="1.3"/>
<text x="251.14" y="451.20" font-size="11.73" fill="#4d4d4d" text-anchor="middle">1000</text>
<line x1="287.58" x2="287.58" y1="435.30" y2="439.00" stroke="#222" stroke-width="1.3"/>
<text x="287.58" y="451.20" font-size="11.73" fill="#4d4d4d" text-anchor="middle">1250</text>
<line x1="324.03" x2="324.03" y1="435.30" y2="439.00" stroke="#222" stroke-width="1.3"/>
<text x="324.03" y="451.20" font-size="11.73" fill="#4d4d4d" text-anchor="middle">1500</text>
<line x1="360.47" x2="360.47" y1="435.30" y2="439.00" stroke="#222" stroke-width="1.3"/>
<text x="360.47" y="451.20" font-size="11.73" fill="#4d4d4d" text-anchor="middle">1750</text>
<line x1="396.92" x2="396.92" y1="435.30" y2="439.00" stroke="#222" stroke-width="1.3"/>
<text x="396.92" y="451.20" font-size="11.73" fill="#4d4d4d" text-anchor="middle">2000</text>
<line x1="244.00" x2="244.00" y1="256.10" y2="435.30" stroke="#000" stroke-width="1.5"/>
<line x1="243.90" x2="404.20" y1="435.45" y2="435.45" stroke="#000" stroke-width="2.4"/>
<text x="620.3" y="189.6" font-size="14.67" fill="#000">chain</text>
<line x1="622.5" x2="641.3" y1="208.50" y2="208.50" stroke="#D94801" stroke-width="1.4"/>
<text x="650.8" y="212.70" font-size="11.73" fill="#000">1</text>
<line x1="622.5" x2="641.3" y1="231.55" y2="231.55" stroke="#8475B5" stroke-width="1.4"/>
<text x="650.8" y="235.75" font-size="11.73" fill="#000">2</text>
<line x1="622.5" x2="641.3" y1="254.60" y2="254.60" stroke="#45157E" stroke-width="1.4"/>
<text x="650.8" y="258.80" font-size="11.73" fill="#000">3</text>
<line x1="622.5" x2="641.3" y1="277.65" y2="277.65" stroke="#EE9433" stroke-width="1.4"/>
<text x="650.8" y="281.85" font-size="11.73" fill="#000">4</text>
</svg></body></html>
